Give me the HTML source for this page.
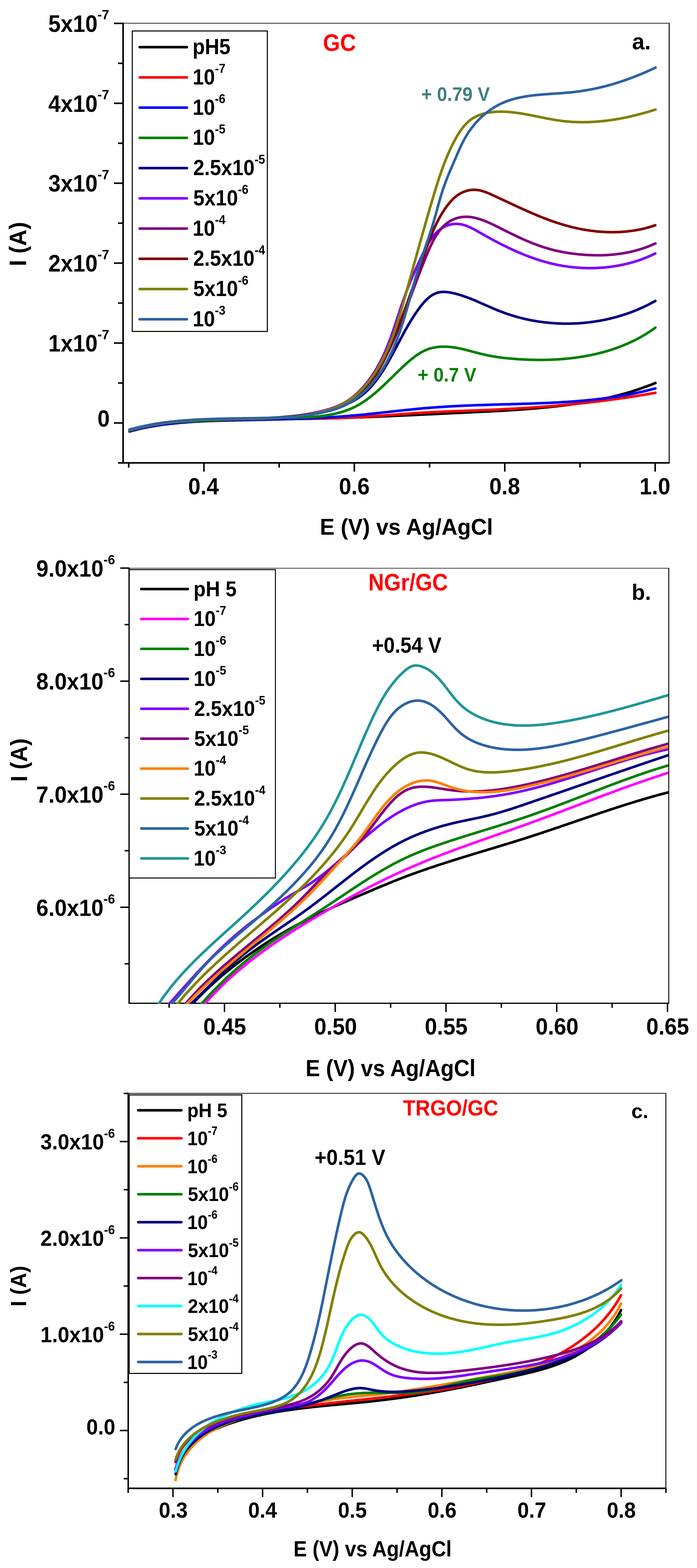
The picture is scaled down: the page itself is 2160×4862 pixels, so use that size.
<!DOCTYPE html>
<html><head><meta charset="utf-8"><title>Figure</title>
<style>html,body{margin:0;padding:0;background:#fff;}svg{display:block;}</style></head>
<body><svg width="2160" height="4862" viewBox="0 0 2160 4862" font-family="'Liberation Sans', Arial, Helvetica, sans-serif" font-weight="bold">
<rect width="2160" height="4862" fill="#fff"/>
<line x1="381.5" y1="72.0" x2="2073.8" y2="72.0" stroke="#000" stroke-width="2.2" stroke-linecap="butt"/>
<line x1="2073.8" y1="70.9" x2="2073.8" y2="1435.3" stroke="#000" stroke-width="3.0" stroke-linecap="butt"/>
<line x1="381.5" y1="70.5" x2="381.5" y2="1437.8" stroke="#000" stroke-width="5.0" stroke-linecap="butt"/>
<line x1="379.0" y1="1435.3" x2="2075.3" y2="1435.3" stroke="#000" stroke-width="5.0" stroke-linecap="butt"/>
<line x1="366.0" y1="1435.4" x2="381.5" y2="1435.4" stroke="#000" stroke-width="4.8" stroke-linecap="butt"/>
<line x1="353.0" y1="1311.5" x2="381.5" y2="1311.5" stroke="#000" stroke-width="4.8" stroke-linecap="butt"/>
<line x1="366.0" y1="1187.6" x2="381.5" y2="1187.6" stroke="#000" stroke-width="4.8" stroke-linecap="butt"/>
<line x1="353.0" y1="1063.7" x2="381.5" y2="1063.7" stroke="#000" stroke-width="4.8" stroke-linecap="butt"/>
<line x1="366.0" y1="939.8" x2="381.5" y2="939.8" stroke="#000" stroke-width="4.8" stroke-linecap="butt"/>
<line x1="353.0" y1="815.9" x2="381.5" y2="815.9" stroke="#000" stroke-width="4.8" stroke-linecap="butt"/>
<line x1="366.0" y1="692.0" x2="381.5" y2="692.0" stroke="#000" stroke-width="4.8" stroke-linecap="butt"/>
<line x1="353.0" y1="568.1" x2="381.5" y2="568.1" stroke="#000" stroke-width="4.8" stroke-linecap="butt"/>
<line x1="366.0" y1="444.2" x2="381.5" y2="444.2" stroke="#000" stroke-width="4.8" stroke-linecap="butt"/>
<line x1="353.0" y1="320.3" x2="381.5" y2="320.3" stroke="#000" stroke-width="4.8" stroke-linecap="butt"/>
<line x1="366.0" y1="196.4" x2="381.5" y2="196.4" stroke="#000" stroke-width="4.8" stroke-linecap="butt"/>
<line x1="353.0" y1="72.5" x2="381.5" y2="72.5" stroke="#000" stroke-width="4.8" stroke-linecap="butt"/>
<line x1="398.9" y1="1435.3" x2="398.9" y2="1449.8" stroke="#000" stroke-width="4.8" stroke-linecap="butt"/>
<line x1="632.0" y1="1435.3" x2="632.0" y2="1462.3" stroke="#000" stroke-width="4.8" stroke-linecap="butt"/>
<line x1="865.1" y1="1435.3" x2="865.1" y2="1449.8" stroke="#000" stroke-width="4.8" stroke-linecap="butt"/>
<line x1="1098.1" y1="1435.3" x2="1098.1" y2="1462.3" stroke="#000" stroke-width="4.8" stroke-linecap="butt"/>
<line x1="1331.2" y1="1435.3" x2="1331.2" y2="1449.8" stroke="#000" stroke-width="4.8" stroke-linecap="butt"/>
<line x1="1564.3" y1="1435.3" x2="1564.3" y2="1462.3" stroke="#000" stroke-width="4.8" stroke-linecap="butt"/>
<line x1="1797.4" y1="1435.3" x2="1797.4" y2="1449.8" stroke="#000" stroke-width="4.8" stroke-linecap="butt"/>
<line x1="2030.4" y1="1435.3" x2="2030.4" y2="1462.3" stroke="#000" stroke-width="4.8" stroke-linecap="butt"/>
<clipPath id="ca"><rect x="383.0" y="74.0" width="1689.0" height="1359.0"/></clipPath>
<g clip-path="url(#ca)" fill="none" stroke-width="8.0" stroke-linejoin="round" stroke-linecap="round">
<path d="M401.3 1335.6 L406.2 1334.4 411.0 1333.1 415.9 1331.9 420.7 1330.8 425.6 1329.7 430.5 1328.6 435.4 1327.5 440.2 1326.4 445.1 1325.4 450.0 1324.5 455.0 1323.5 459.9 1322.6 464.8 1321.7 469.7 1320.8 474.6 1320.0 479.6 1319.1 484.5 1318.4 489.4 1317.6 494.4 1316.8 499.3 1316.1 504.3 1315.4 509.2 1314.8 514.2 1314.1 519.2 1313.5 524.1 1312.9 529.1 1312.3 534.1 1311.7 539.0 1311.2 544.0 1310.7 549.0 1310.2 554.0 1309.7 558.9 1309.2 563.9 1308.8 568.9 1308.4 573.9 1308.0 578.9 1307.6 583.9 1307.2 588.8 1306.8 593.8 1306.5 598.8 1306.2 603.8 1305.8 608.8 1305.5 613.8 1305.2 618.8 1305.0 623.8 1304.7 628.8 1304.4 633.8 1304.2 638.8 1304.0 643.8 1303.8 648.7 1303.5 653.7 1303.3 658.7 1303.1 663.7 1303.0 668.7 1302.8 673.7 1302.6 678.7 1302.5 683.7 1302.3 688.7 1302.1 693.7 1302.0 698.7 1301.9 703.7 1301.7 708.7 1301.6 713.7 1301.5 718.7 1301.4 723.7 1301.3 728.7 1301.2 733.7 1301.1 738.7 1301.0 743.7 1300.9 748.7 1300.8 753.7 1300.7 758.7 1300.6 763.7 1300.6 768.7 1300.5 773.7 1300.4 778.7 1300.4 783.7 1300.3 788.7 1300.3 793.7 1300.2 798.7 1300.2 803.7 1300.1 808.7 1300.1 813.7 1300.0 818.7 1300.0 823.7 1299.9 828.7 1299.9 833.7 1299.8 838.7 1299.8 843.7 1299.7 848.7 1299.7 853.7 1299.7 858.7 1299.6 863.7 1299.6 868.7 1299.5 873.7 1299.5 878.7 1299.5 883.7 1299.4 888.7 1299.4 893.7 1299.3 898.7 1299.3 903.7 1299.2 908.7 1299.2 913.7 1299.1 918.7 1299.0 923.7 1299.0 928.7 1298.9 933.7 1298.8 938.7 1298.8 943.7 1298.7 948.7 1298.6 953.7 1298.5 958.7 1298.5 963.7 1298.4 968.7 1298.3 973.7 1298.2 978.7 1298.1 983.7 1298.0 988.7 1297.8 993.7 1297.7 998.7 1297.6 1003.7 1297.5 1008.7 1297.4 1013.7 1297.2 1018.7 1297.1 1023.7 1297.0 1028.7 1296.8 1033.7 1296.7 1038.7 1296.6 1043.7 1296.4 1048.7 1296.3 1053.7 1296.1 1058.7 1296.0 1063.7 1295.8 1068.7 1295.6 1073.7 1295.5 1078.7 1295.3 1083.6 1295.1 1088.6 1295.0 1093.6 1294.8 1098.6 1294.6 1103.6 1294.4 1108.6 1294.3 1113.6 1294.1 1118.6 1293.9 1123.6 1293.7 1128.6 1293.5 1133.6 1293.3 1138.6 1293.1 1143.6 1292.9 1148.6 1292.7 1153.6 1292.5 1158.6 1292.3 1163.6 1292.1 1168.6 1291.9 1173.6 1291.7 1178.6 1291.5 1183.6 1291.3 1188.6 1291.1 1193.6 1290.9 1198.6 1290.6 1203.6 1290.4 1208.6 1290.2 1213.5 1290.0 1218.5 1289.8 1223.5 1289.5 1228.5 1289.3 1233.5 1289.1 1238.5 1288.9 1243.5 1288.6 1248.5 1288.4 1253.5 1288.2 1258.5 1287.9 1263.5 1287.7 1268.5 1287.5 1273.5 1287.2 1278.5 1287.0 1283.5 1286.8 1288.5 1286.5 1293.5 1286.3 1298.5 1286.1 1303.4 1285.8 1308.4 1285.6 1313.4 1285.4 1318.4 1285.1 1323.4 1284.9 1328.4 1284.6 1333.4 1284.4 1338.4 1284.2 1343.4 1283.9 1348.4 1283.7 1353.4 1283.5 1358.4 1283.2 1363.4 1283.0 1368.4 1282.7 1373.4 1282.5 1378.4 1282.3 1383.4 1282.0 1388.4 1281.8 1393.3 1281.6 1398.3 1281.3 1403.3 1281.1 1408.3 1280.9 1413.3 1280.6 1418.3 1280.4 1423.3 1280.2 1428.3 1279.9 1433.3 1279.7 1438.3 1279.5 1443.3 1279.2 1448.3 1279.0 1453.3 1278.8 1458.3 1278.5 1463.3 1278.3 1468.3 1278.1 1473.3 1277.8 1478.3 1277.6 1483.2 1277.3 1488.2 1277.1 1493.2 1276.8 1498.2 1276.6 1503.2 1276.3 1508.2 1276.1 1513.2 1275.8 1518.2 1275.6 1523.2 1275.3 1528.2 1275.1 1533.2 1274.8 1538.2 1274.5 1543.2 1274.2 1548.2 1273.9 1553.2 1273.7 1558.1 1273.4 1563.1 1273.1 1568.1 1272.8 1573.1 1272.5 1578.1 1272.2 1583.1 1271.8 1588.1 1271.5 1593.1 1271.2 1598.1 1270.9 1603.1 1270.5 1608.0 1270.2 1613.0 1269.8 1618.0 1269.5 1623.0 1269.1 1628.0 1268.7 1633.0 1268.4 1638.0 1268.0 1642.9 1267.6 1647.9 1267.2 1652.9 1266.8 1657.9 1266.3 1662.9 1265.9 1667.9 1265.5 1672.8 1265.0 1677.8 1264.6 1682.8 1264.1 1687.8 1263.6 1692.7 1263.2 1697.7 1262.7 1702.7 1262.2 1707.7 1261.6 1712.6 1261.1 1717.6 1260.6 1722.6 1260.0 1727.6 1259.5 1732.5 1258.9 1737.5 1258.3 1742.4 1257.7 1747.4 1257.1 1752.4 1256.5 1757.3 1255.8 1762.3 1255.2 1767.2 1254.5 1772.2 1253.8 1777.1 1253.1 1782.1 1252.4 1787.0 1251.6 1792.0 1250.9 1796.9 1250.1 1801.9 1249.3 1806.8 1248.5 1811.7 1247.7 1816.7 1246.9 1821.6 1246.0 1826.5 1245.2 1831.4 1244.3 1836.3 1243.4 1841.3 1242.4 1846.2 1241.5 1851.1 1240.5 1856.0 1239.5 1860.9 1238.5 1865.8 1237.5 1870.7 1236.5 1875.5 1235.4 1880.4 1234.3 1885.3 1233.2 1890.2 1232.1 1895.0 1230.9 1899.9 1229.7 1904.7 1228.5 1909.6 1227.3 1914.4 1226.1 1919.3 1224.8 1924.1 1223.5 1928.9 1222.2 1933.7 1220.8 1938.5 1219.5 1943.4 1218.1 1948.1 1216.7 1952.9 1215.2 1957.7 1213.8 1962.5 1212.3 1967.3 1210.8 1972.0 1209.2 1976.8 1207.7 1981.5 1206.1 1986.2 1204.4 1991.0 1202.8 1995.7 1201.1 2000.4 1199.4 2005.1 1197.7 2009.7 1195.9 2014.4 1194.2 2019.1 1192.4 2023.7 1190.5 2028.4 1188.6 2031.2 1187.5" stroke="#000000"/>
<path d="M401.5 1336.2 L406.3 1334.8 411.1 1333.5 415.9 1332.2 420.8 1330.9 425.6 1329.7 430.5 1328.5 435.4 1327.3 440.2 1326.2 445.1 1325.1 450.0 1324.1 454.9 1323.1 459.8 1322.1 464.7 1321.2 469.6 1320.3 474.6 1319.4 479.5 1318.6 484.4 1317.8 489.4 1317.0 494.3 1316.2 499.2 1315.5 504.2 1314.8 509.2 1314.2 514.1 1313.5 519.1 1312.9 524.0 1312.3 529.0 1311.8 534.0 1311.2 539.0 1310.7 543.9 1310.2 548.9 1309.8 553.9 1309.3 558.9 1308.9 563.9 1308.5 568.8 1308.1 573.8 1307.7 578.8 1307.4 583.8 1307.0 588.8 1306.7 593.8 1306.4 598.8 1306.1 603.8 1305.8 608.8 1305.6 613.8 1305.3 618.7 1305.1 623.7 1304.8 628.7 1304.6 633.7 1304.4 638.7 1304.2 643.7 1304.0 648.7 1303.8 653.7 1303.6 658.7 1303.5 663.7 1303.3 668.7 1303.1 673.7 1303.0 678.7 1302.8 683.7 1302.7 688.7 1302.5 693.7 1302.4 698.7 1302.2 703.7 1302.1 708.7 1302.0 713.7 1301.8 718.7 1301.7 723.7 1301.6 728.7 1301.4 733.7 1301.3 738.7 1301.2 743.7 1301.1 748.7 1301.0 753.7 1300.9 758.7 1300.8 763.7 1300.7 768.7 1300.6 773.7 1300.5 778.7 1300.4 783.7 1300.3 788.7 1300.2 793.7 1300.1 798.7 1300.1 803.7 1300.0 808.7 1299.9 813.7 1299.8 818.7 1299.8 823.7 1299.7 828.7 1299.6 833.7 1299.5 838.7 1299.5 843.7 1299.4 848.7 1299.4 853.7 1299.3 858.7 1299.3 863.7 1299.2 868.7 1299.2 873.7 1299.1 878.7 1299.1 883.7 1299.0 888.7 1299.0 893.7 1298.9 898.7 1298.9 903.7 1298.8 908.7 1298.8 913.7 1298.7 918.7 1298.7 923.7 1298.7 928.7 1298.6 933.7 1298.6 938.7 1298.5 943.7 1298.5 948.7 1298.4 953.7 1298.3 958.7 1298.3 963.7 1298.2 968.7 1298.1 973.7 1298.1 978.7 1298.0 983.7 1297.9 988.7 1297.8 993.7 1297.7 998.7 1297.7 1003.7 1297.6 1008.7 1297.4 1013.7 1297.3 1018.7 1297.2 1023.7 1297.1 1028.6 1297.0 1033.6 1296.8 1038.6 1296.7 1043.6 1296.5 1048.6 1296.4 1053.6 1296.2 1058.6 1296.0 1063.6 1295.8 1068.6 1295.6 1073.6 1295.4 1078.6 1295.2 1083.6 1295.0 1088.6 1294.8 1093.6 1294.5 1098.6 1294.3 1103.6 1294.0 1108.6 1293.7 1113.6 1293.4 1118.6 1293.1 1123.6 1292.8 1128.5 1292.5 1133.5 1292.2 1138.5 1291.9 1143.5 1291.6 1148.5 1291.2 1153.5 1290.9 1158.5 1290.5 1163.5 1290.2 1168.5 1289.8 1173.4 1289.5 1178.4 1289.1 1183.4 1288.8 1188.4 1288.4 1193.4 1288.0 1198.4 1287.6 1203.4 1287.3 1208.3 1286.9 1213.3 1286.5 1218.3 1286.1 1223.3 1285.8 1228.3 1285.4 1233.3 1285.0 1238.3 1284.7 1243.2 1284.3 1248.2 1283.9 1253.2 1283.5 1258.2 1283.2 1263.2 1282.8 1268.2 1282.5 1273.2 1282.1 1278.2 1281.8 1283.1 1281.4 1288.1 1281.1 1293.1 1280.8 1298.1 1280.4 1303.1 1280.1 1308.1 1279.8 1313.1 1279.5 1318.1 1279.2 1323.1 1278.9 1328.1 1278.7 1333.1 1278.4 1338.0 1278.1 1343.0 1277.9 1348.0 1277.6 1353.0 1277.4 1358.0 1277.2 1363.0 1276.9 1368.0 1276.7 1373.0 1276.5 1378.0 1276.3 1383.0 1276.1 1388.0 1275.9 1393.0 1275.7 1398.0 1275.5 1403.0 1275.3 1408.0 1275.1 1413.0 1274.9 1418.0 1274.7 1423.0 1274.5 1428.0 1274.4 1433.0 1274.2 1438.0 1274.0 1443.0 1273.8 1448.0 1273.6 1453.0 1273.5 1457.9 1273.3 1462.9 1273.1 1467.9 1272.9 1472.9 1272.7 1477.9 1272.5 1482.9 1272.3 1487.9 1272.1 1492.9 1272.0 1497.9 1271.8 1502.9 1271.5 1507.9 1271.3 1512.9 1271.1 1517.9 1270.9 1522.9 1270.7 1527.9 1270.5 1532.9 1270.2 1537.9 1270.0 1542.9 1269.8 1547.9 1269.5 1552.9 1269.3 1557.9 1269.0 1562.8 1268.8 1567.8 1268.5 1572.8 1268.3 1577.8 1268.0 1582.8 1267.7 1587.8 1267.4 1592.8 1267.2 1597.8 1266.9 1602.8 1266.6 1607.8 1266.3 1612.8 1266.0 1617.8 1265.7 1622.8 1265.4 1627.7 1265.0 1632.7 1264.7 1637.7 1264.4 1642.7 1264.1 1647.7 1263.7 1652.7 1263.4 1657.7 1263.0 1662.7 1262.7 1667.6 1262.3 1672.6 1262.0 1677.6 1261.6 1682.6 1261.2 1687.6 1260.8 1692.6 1260.4 1697.6 1260.0 1702.5 1259.7 1707.5 1259.2 1712.5 1258.8 1717.5 1258.4 1722.5 1258.0 1727.5 1257.6 1732.4 1257.1 1737.4 1256.7 1742.4 1256.2 1747.4 1255.8 1752.4 1255.3 1757.3 1254.9 1762.3 1254.4 1767.3 1253.9 1772.3 1253.4 1777.2 1252.9 1782.2 1252.4 1787.2 1251.9 1792.2 1251.4 1797.1 1250.9 1802.1 1250.4 1807.1 1249.9 1812.1 1249.3 1817.0 1248.8 1822.0 1248.2 1827.0 1247.7 1831.9 1247.1 1836.9 1246.5 1841.9 1245.9 1846.8 1245.3 1851.8 1244.8 1856.8 1244.2 1861.7 1243.5 1866.7 1242.9 1871.6 1242.3 1876.6 1241.7 1881.6 1241.0 1886.5 1240.4 1891.5 1239.7 1896.4 1239.1 1901.4 1238.4 1906.3 1237.7 1911.3 1237.0 1916.2 1236.3 1921.2 1235.6 1926.1 1234.9 1931.1 1234.2 1936.0 1233.5 1941.0 1232.8 1945.9 1232.0 1950.9 1231.3 1955.8 1230.5 1960.8 1229.8 1965.7 1229.0 1970.6 1228.2 1975.6 1227.4 1980.5 1226.6 1985.4 1225.8 1990.4 1225.0 1995.3 1224.2 2000.2 1223.3 2005.2 1222.5 2010.1 1221.7 2015.0 1220.8 2020.0 1219.9 2024.9 1219.1 2029.8 1218.2 2030.9 1218.0" stroke="#FF0000"/>
<path d="M401.5 1338.2 L406.3 1336.8 411.1 1335.4 415.9 1334.1 420.8 1332.8 425.6 1331.6 430.5 1330.4 435.3 1329.3 440.2 1328.2 445.1 1327.1 450.0 1326.1 454.9 1325.1 459.8 1324.2 464.7 1323.2 469.7 1322.4 474.6 1321.5 479.5 1320.7 484.5 1319.9 489.4 1319.2 494.3 1318.4 499.3 1317.7 504.2 1317.1 509.2 1316.4 514.2 1315.8 519.1 1315.2 524.1 1314.6 529.1 1314.1 534.0 1313.5 539.0 1313.0 544.0 1312.5 549.0 1312.0 553.9 1311.5 558.9 1311.1 563.9 1310.7 568.9 1310.3 573.9 1309.9 578.9 1309.5 583.8 1309.1 588.8 1308.8 593.8 1308.4 598.8 1308.1 603.8 1307.8 608.8 1307.5 613.8 1307.2 618.8 1307.0 623.8 1306.7 628.8 1306.4 633.8 1306.2 638.7 1306.0 643.7 1305.8 648.7 1305.6 653.7 1305.4 658.7 1305.2 663.7 1305.0 668.7 1304.8 673.7 1304.7 678.7 1304.5 683.7 1304.4 688.7 1304.2 693.7 1304.1 698.7 1304.0 703.7 1303.8 708.7 1303.7 713.7 1303.6 718.7 1303.5 723.7 1303.4 728.7 1303.2 733.7 1303.1 738.7 1303.0 743.7 1302.9 748.7 1302.8 753.7 1302.7 758.7 1302.6 763.7 1302.5 768.7 1302.4 773.7 1302.3 778.7 1302.2 783.7 1302.1 788.7 1302.0 793.7 1301.9 798.7 1301.8 803.7 1301.7 808.7 1301.6 813.7 1301.5 818.7 1301.4 823.7 1301.3 828.7 1301.2 833.7 1301.0 838.7 1300.9 843.7 1300.8 848.7 1300.7 853.7 1300.6 858.7 1300.4 863.7 1300.3 868.7 1300.2 873.7 1300.1 878.7 1299.9 883.7 1299.8 888.7 1299.6 893.7 1299.5 898.7 1299.3 903.7 1299.2 908.7 1299.0 913.7 1298.9 918.6 1298.7 923.6 1298.5 928.6 1298.4 933.6 1298.2 938.6 1298.0 943.6 1297.8 948.6 1297.6 953.6 1297.4 958.6 1297.2 963.6 1297.0 968.6 1296.7 973.6 1296.5 978.6 1296.3 983.6 1296.0 988.6 1295.8 993.6 1295.5 998.6 1295.3 1003.6 1295.0 1008.6 1294.7 1013.6 1294.4 1018.5 1294.1 1023.5 1293.8 1028.5 1293.5 1033.5 1293.2 1038.5 1292.9 1043.5 1292.5 1048.5 1292.2 1053.5 1291.8 1058.5 1291.5 1063.4 1291.1 1068.4 1290.7 1073.4 1290.3 1078.4 1289.9 1083.4 1289.5 1088.4 1289.1 1093.3 1288.6 1098.3 1288.2 1103.3 1287.8 1108.3 1287.3 1113.3 1286.8 1118.2 1286.3 1123.2 1285.9 1128.2 1285.4 1133.2 1284.9 1138.1 1284.3 1143.1 1283.8 1148.1 1283.3 1153.1 1282.8 1158.0 1282.3 1163.0 1281.7 1168.0 1281.2 1172.9 1280.7 1177.9 1280.1 1182.9 1279.6 1187.8 1279.0 1192.8 1278.5 1197.8 1277.9 1202.8 1277.4 1207.7 1276.8 1212.7 1276.3 1217.7 1275.7 1222.6 1275.2 1227.6 1274.6 1232.6 1274.1 1237.5 1273.5 1242.5 1273.0 1247.5 1272.5 1252.5 1271.9 1257.4 1271.4 1262.4 1270.9 1267.4 1270.4 1272.4 1269.9 1277.3 1269.4 1282.3 1268.9 1287.3 1268.4 1292.3 1267.9 1297.2 1267.4 1302.2 1267.0 1307.2 1266.5 1312.2 1266.1 1317.2 1265.6 1322.1 1265.2 1327.1 1264.8 1332.1 1264.4 1337.1 1264.0 1342.1 1263.6 1347.1 1263.3 1352.0 1262.9 1357.0 1262.5 1362.0 1262.2 1367.0 1261.9 1372.0 1261.5 1377.0 1261.2 1382.0 1260.9 1387.0 1260.6 1392.0 1260.3 1397.0 1260.0 1401.9 1259.8 1406.9 1259.5 1411.9 1259.2 1416.9 1259.0 1421.9 1258.7 1426.9 1258.5 1431.9 1258.3 1436.9 1258.0 1441.9 1257.8 1446.9 1257.6 1451.9 1257.4 1456.9 1257.2 1461.9 1257.0 1466.9 1256.8 1471.9 1256.6 1476.9 1256.4 1481.9 1256.2 1486.9 1256.1 1491.9 1255.9 1496.9 1255.7 1501.9 1255.5 1506.9 1255.4 1511.9 1255.2 1516.8 1255.1 1521.8 1254.9 1526.8 1254.8 1531.8 1254.6 1536.8 1254.5 1541.8 1254.4 1546.8 1254.2 1551.8 1254.1 1556.8 1253.9 1561.8 1253.8 1566.8 1253.7 1571.8 1253.5 1576.8 1253.4 1581.8 1253.3 1586.8 1253.1 1591.8 1253.0 1596.8 1252.9 1601.8 1252.7 1606.8 1252.6 1611.8 1252.4 1616.8 1252.3 1621.8 1252.1 1626.8 1252.0 1631.8 1251.8 1636.8 1251.7 1641.8 1251.5 1646.8 1251.3 1651.8 1251.2 1656.8 1251.0 1661.8 1250.8 1666.8 1250.6 1671.8 1250.5 1676.8 1250.3 1681.8 1250.1 1686.8 1249.9 1691.8 1249.6 1696.8 1249.4 1701.8 1249.2 1706.7 1249.0 1711.7 1248.7 1716.7 1248.5 1721.7 1248.2 1726.7 1248.0 1731.7 1247.7 1736.7 1247.4 1741.7 1247.1 1746.7 1246.8 1751.7 1246.5 1756.7 1246.2 1761.7 1245.9 1766.6 1245.5 1771.6 1245.2 1776.6 1244.8 1781.6 1244.4 1786.6 1244.0 1791.6 1243.6 1796.6 1243.2 1801.5 1242.8 1806.5 1242.4 1811.5 1241.9 1816.5 1241.5 1821.5 1241.0 1826.4 1240.5 1831.4 1240.0 1836.4 1239.5 1841.4 1238.9 1846.3 1238.4 1851.3 1237.8 1856.3 1237.2 1861.2 1236.6 1866.2 1236.0 1871.1 1235.4 1876.1 1234.8 1881.1 1234.1 1886.0 1233.4 1891.0 1232.7 1895.9 1232.0 1900.9 1231.3 1905.8 1230.5 1910.7 1229.8 1915.7 1229.0 1920.6 1228.2 1925.5 1227.4 1930.5 1226.5 1935.4 1225.6 1940.3 1224.8 1945.2 1223.9 1950.2 1222.9 1955.1 1222.0 1960.0 1221.0 1964.9 1220.0 1969.8 1219.0 1974.7 1218.0 1979.5 1216.9 1984.4 1215.9 1989.3 1214.8 1994.2 1213.6 1999.0 1212.5 2003.9 1211.3 2008.8 1210.2 2013.6 1208.9 2018.5 1207.7 2023.3 1206.4 2028.1 1205.2 2030.9 1204.4" stroke="#0000FF"/>
<path d="M402.1 1336.8 L406.7 1334.8 411.3 1333.0 416.0 1331.3 420.8 1329.6 425.5 1328.0 430.3 1326.6 435.1 1325.2 439.9 1323.8 444.7 1322.6 449.6 1321.4 454.5 1320.3 459.3 1319.2 464.3 1318.2 469.2 1317.3 474.1 1316.5 479.0 1315.6 484.0 1314.9 488.9 1314.2 493.9 1313.5 498.8 1312.9 503.8 1312.4 508.8 1311.9 513.8 1311.4 518.7 1310.9 523.7 1310.5 528.7 1310.2 533.7 1309.8 538.7 1309.5 543.7 1309.2 548.7 1308.9 553.7 1308.7 558.7 1308.4 563.7 1308.2 568.6 1308.0 573.6 1307.8 578.6 1307.6 583.6 1307.4 588.6 1307.2 593.6 1307.0 598.6 1306.8 603.6 1306.6 608.6 1306.4 613.6 1306.2 618.6 1306.0 623.6 1305.8 628.6 1305.6 633.6 1305.4 638.6 1305.1 643.6 1304.9 648.6 1304.7 653.6 1304.4 658.6 1304.2 663.6 1304.0 668.6 1303.7 673.6 1303.5 678.5 1303.2 683.5 1303.0 688.5 1302.7 693.5 1302.5 698.5 1302.3 703.5 1302.0 708.5 1301.8 713.5 1301.5 718.5 1301.3 723.5 1301.0 728.5 1300.8 733.5 1300.5 738.5 1300.3 743.5 1300.1 748.5 1299.8 753.5 1299.6 758.5 1299.4 763.4 1299.2 768.4 1298.9 773.4 1298.7 778.4 1298.5 783.4 1298.3 788.4 1298.1 793.4 1297.9 798.4 1297.7 803.4 1297.5 808.4 1297.4 813.4 1297.2 818.4 1297.0 823.4 1296.9 828.4 1296.7 833.4 1296.6 838.4 1296.4 843.4 1296.3 848.4 1296.2 853.4 1296.1 858.4 1296.0 863.4 1295.9 868.4 1295.8 873.4 1295.7 878.4 1295.6 883.4 1295.5 888.4 1295.5 893.4 1295.4 898.4 1295.3 903.4 1295.2 908.4 1295.1 913.4 1295.0 918.4 1294.9 923.4 1294.8 928.4 1294.6 933.4 1294.5 938.4 1294.3 943.4 1294.1 948.4 1293.9 953.4 1293.6 958.3 1293.3 963.3 1293.0 968.3 1292.7 973.3 1292.3 978.3 1291.9 983.3 1291.4 988.2 1290.9 993.2 1290.4 998.2 1289.8 1003.1 1289.1 1008.1 1288.5 1013.0 1287.7 1018.0 1286.9 1022.9 1286.0 1027.8 1285.1 1032.7 1284.1 1037.6 1283.1 1042.5 1281.9 1047.3 1280.7 1052.2 1279.5 1057.0 1278.1 1061.8 1276.7 1066.5 1275.1 1071.3 1273.5 1076.0 1271.8 1080.6 1270.1 1085.3 1268.2 1089.9 1266.2 1094.4 1264.1 1098.9 1262.0 1103.4 1259.7 1107.8 1257.3 1112.1 1254.9 1116.4 1252.3 1120.7 1249.7 1124.9 1247.0 1129.1 1244.3 1133.2 1241.4 1137.3 1238.5 1141.3 1235.6 1145.3 1232.5 1149.2 1229.5 1153.1 1226.4 1157.0 1223.2 1160.9 1220.0 1164.7 1216.8 1168.5 1213.5 1172.2 1210.2 1175.9 1206.9 1179.6 1203.5 1183.3 1200.1 1187.0 1196.7 1190.6 1193.3 1194.2 1189.8 1197.9 1186.4 1201.5 1182.9 1205.0 1179.4 1208.6 1175.9 1212.2 1172.5 1215.8 1169.0 1219.4 1165.5 1222.9 1162.0 1226.5 1158.5 1230.1 1155.0 1233.7 1151.5 1237.3 1148.0 1240.9 1144.6 1244.5 1141.1 1248.2 1137.7 1251.8 1134.3 1255.5 1130.9 1259.2 1127.5 1262.9 1124.2 1266.7 1120.9 1270.5 1117.6 1274.3 1114.4 1278.2 1111.3 1282.1 1108.2 1286.1 1105.2 1290.2 1102.3 1294.3 1099.4 1298.5 1096.7 1302.7 1094.1 1307.1 1091.6 1311.5 1089.3 1316.0 1087.1 1320.6 1085.1 1325.2 1083.2 1329.9 1081.6 1334.7 1080.1 1339.6 1078.9 1344.4 1077.8 1349.4 1076.9 1354.3 1076.2 1359.3 1075.6 1364.3 1075.2 1369.3 1075.0 1374.3 1074.9 1379.3 1074.9 1384.2 1075.1 1389.2 1075.4 1394.2 1075.8 1399.2 1076.3 1404.2 1077.0 1409.1 1077.7 1414.0 1078.5 1419.0 1079.4 1423.9 1080.4 1428.7 1081.4 1433.6 1082.5 1438.5 1083.7 1443.4 1084.8 1448.2 1086.1 1453.0 1087.3 1457.9 1088.6 1462.7 1089.9 1467.5 1091.1 1472.4 1092.4 1477.2 1093.7 1482.1 1095.0 1486.9 1096.2 1491.7 1097.4 1496.6 1098.6 1501.5 1099.7 1506.4 1100.8 1511.3 1101.8 1516.2 1102.8 1521.1 1103.7 1526.0 1104.6 1530.9 1105.5 1535.9 1106.3 1540.8 1107.0 1545.7 1107.7 1550.7 1108.4 1555.7 1109.1 1560.6 1109.7 1565.6 1110.2 1570.6 1110.8 1575.5 1111.3 1580.5 1111.7 1585.5 1112.2 1590.5 1112.6 1595.5 1113.0 1600.4 1113.3 1605.4 1113.7 1610.4 1114.0 1615.4 1114.3 1620.4 1114.5 1625.4 1114.8 1630.4 1115.0 1635.4 1115.2 1640.4 1115.4 1645.4 1115.5 1650.4 1115.7 1655.4 1115.8 1660.4 1115.8 1665.4 1115.9 1670.4 1115.9 1675.4 1115.9 1680.4 1115.9 1685.4 1115.9 1690.4 1115.8 1695.4 1115.7 1700.4 1115.5 1705.4 1115.4 1710.4 1115.2 1715.4 1115.0 1720.4 1114.7 1725.4 1114.5 1730.3 1114.2 1735.3 1113.8 1740.3 1113.5 1745.3 1113.1 1750.3 1112.7 1755.3 1112.2 1760.2 1111.7 1765.2 1111.2 1770.2 1110.6 1775.2 1110.1 1780.1 1109.4 1785.1 1108.8 1790.0 1108.1 1795.0 1107.4 1799.9 1106.6 1804.9 1105.8 1809.8 1105.0 1814.7 1104.2 1819.6 1103.3 1824.5 1102.3 1829.4 1101.4 1834.3 1100.3 1839.2 1099.3 1844.1 1098.2 1849.0 1097.1 1853.8 1095.9 1858.7 1094.7 1863.5 1093.5 1868.4 1092.2 1873.2 1090.9 1878.0 1089.5 1882.8 1088.1 1887.6 1086.6 1892.4 1085.1 1897.1 1083.6 1901.9 1082.0 1906.6 1080.4 1911.3 1078.7 1916.0 1077.0 1920.7 1075.3 1925.4 1073.5 1930.0 1071.6 1934.6 1069.7 1939.2 1067.8 1943.8 1065.8 1948.4 1063.8 1952.9 1061.7 1957.5 1059.6 1962.0 1057.4 1966.5 1055.2 1970.9 1053.0 1975.4 1050.7 1979.8 1048.3 1984.2 1045.9 1988.5 1043.4 1992.8 1041.0 1997.2 1038.4 2001.4 1035.8 2005.7 1033.2 2009.9 1030.5 2014.1 1027.8 2018.2 1025.0 2022.4 1022.2 2026.5 1019.3 2030.5 1016.4 2031.0 1016.0" stroke="#008000"/>
<path d="M401.3 1335.3 L406.2 1333.9 411.0 1332.6 415.8 1331.3 420.6 1330.0 425.5 1328.8 430.3 1327.6 435.2 1326.4 440.1 1325.3 444.9 1324.2 449.8 1323.1 454.7 1322.1 459.6 1321.1 464.5 1320.1 469.4 1319.2 474.4 1318.3 479.3 1317.5 484.2 1316.6 489.1 1315.8 494.1 1315.1 499.0 1314.3 504.0 1313.6 508.9 1313.0 513.9 1312.3 518.9 1311.7 523.8 1311.1 528.8 1310.5 533.8 1310.0 538.7 1309.4 543.7 1308.9 548.7 1308.5 553.7 1308.0 558.6 1307.6 563.6 1307.2 568.6 1306.8 573.6 1306.4 578.6 1306.1 583.6 1305.7 588.6 1305.4 593.6 1305.1 598.5 1304.8 603.5 1304.6 608.5 1304.3 613.5 1304.1 618.5 1303.9 623.5 1303.7 628.5 1303.5 633.5 1303.3 638.5 1303.1 643.5 1303.0 648.5 1302.8 653.5 1302.7 658.5 1302.5 663.5 1302.4 668.5 1302.3 673.5 1302.2 678.5 1302.1 683.5 1302.0 688.5 1301.9 693.5 1301.8 698.5 1301.7 703.5 1301.6 708.5 1301.5 713.5 1301.4 718.5 1301.4 723.5 1301.3 728.5 1301.2 733.5 1301.1 738.5 1301.0 743.5 1300.9 748.5 1300.9 753.5 1300.8 758.5 1300.7 763.5 1300.6 768.5 1300.5 773.5 1300.3 778.5 1300.2 783.5 1300.1 788.5 1300.0 793.5 1299.8 798.5 1299.6 803.5 1299.5 808.5 1299.3 813.5 1299.1 818.5 1298.9 823.5 1298.7 828.4 1298.5 833.4 1298.2 838.4 1298.0 843.4 1297.7 848.4 1297.4 853.4 1297.1 858.4 1296.8 863.4 1296.4 868.4 1296.1 873.4 1295.7 878.3 1295.3 883.3 1294.9 888.3 1294.4 893.3 1294.0 898.3 1293.5 903.2 1293.0 908.2 1292.5 913.2 1291.9 918.1 1291.3 923.1 1290.7 928.1 1290.1 933.0 1289.4 938.0 1288.7 942.9 1288.0 947.9 1287.3 952.8 1286.5 957.7 1285.7 962.7 1284.8 967.6 1284.0 972.5 1283.1 977.4 1282.1 982.3 1281.2 987.2 1280.2 992.1 1279.1 997.0 1278.1 1001.9 1277.0 1006.7 1275.8 1011.6 1274.6 1016.4 1273.4 1021.3 1272.1 1026.1 1270.8 1030.9 1269.4 1035.7 1267.9 1040.5 1266.4 1045.2 1264.9 1049.9 1263.3 1054.6 1261.6 1059.3 1259.8 1064.0 1258.0 1068.6 1256.0 1073.2 1254.1 1077.7 1252.0 1082.2 1249.8 1086.7 1247.6 1091.1 1245.3 1095.5 1242.8 1099.8 1240.3 1104.1 1237.7 1108.3 1235.0 1112.5 1232.2 1116.5 1229.3 1120.5 1226.3 1124.5 1223.2 1128.3 1220.1 1132.1 1216.8 1135.8 1213.4 1139.4 1209.9 1142.9 1206.4 1146.4 1202.8 1149.8 1199.1 1153.1 1195.4 1156.3 1191.6 1159.5 1187.7 1162.6 1183.8 1165.7 1179.9 1168.7 1175.9 1171.6 1171.8 1174.5 1167.7 1177.4 1163.6 1180.2 1159.5 1183.0 1155.3 1185.7 1151.1 1188.4 1146.9 1191.0 1142.7 1193.6 1138.4 1196.2 1134.1 1198.7 1129.8 1201.3 1125.5 1203.7 1121.2 1206.2 1116.8 1208.7 1112.5 1211.1 1108.1 1213.5 1103.7 1215.9 1099.3 1218.3 1094.9 1220.6 1090.5 1223.0 1086.1 1225.3 1081.7 1227.7 1077.3 1230.0 1072.8 1232.3 1068.4 1234.6 1064.0 1237.0 1059.6 1239.3 1055.1 1241.6 1050.7 1244.0 1046.3 1246.4 1041.9 1248.7 1037.5 1251.1 1033.1 1253.5 1028.7 1255.9 1024.3 1258.4 1020.0 1260.8 1015.6 1263.3 1011.3 1265.8 1006.9 1268.4 1002.6 1270.9 998.3 1273.5 994.1 1276.2 989.8 1278.8 985.6 1281.5 981.4 1284.3 977.2 1287.0 973.0 1289.8 968.9 1292.7 964.8 1295.6 960.7 1298.5 956.7 1301.5 952.7 1304.6 948.7 1307.7 944.8 1310.9 940.9 1314.1 937.2 1317.5 933.5 1321.0 929.9 1324.6 926.5 1328.4 923.2 1332.3 920.0 1336.3 917.1 1340.6 914.4 1344.9 912.0 1349.5 909.9 1354.2 908.1 1359.0 906.8 1363.9 905.8 1368.8 905.3 1373.8 905.1 1378.8 905.2 1383.8 905.5 1388.8 906.1 1393.7 906.8 1398.6 907.7 1403.5 908.8 1408.4 909.9 1413.3 911.1 1418.1 912.5 1422.9 913.8 1427.7 915.3 1432.4 916.8 1437.2 918.4 1441.9 920.1 1446.6 921.8 1451.3 923.5 1455.9 925.3 1460.6 927.1 1465.2 929.0 1469.9 930.9 1474.5 932.8 1479.1 934.8 1483.7 936.8 1488.2 938.8 1492.8 940.8 1497.4 942.8 1502.0 944.8 1506.5 946.9 1511.1 948.9 1515.7 950.9 1520.3 952.9 1524.8 954.9 1529.4 956.9 1534.0 958.8 1538.7 960.8 1543.3 962.7 1547.9 964.5 1552.6 966.3 1557.3 968.1 1561.9 969.8 1566.6 971.5 1571.4 973.2 1576.1 974.8 1580.9 976.3 1585.6 977.8 1590.4 979.3 1595.2 980.7 1600.0 982.1 1604.8 983.5 1609.7 984.7 1614.5 986.0 1619.3 987.2 1624.2 988.4 1629.1 989.5 1634.0 990.6 1638.9 991.6 1643.8 992.6 1648.7 993.5 1653.6 994.4 1658.5 995.3 1663.4 996.1 1668.4 996.9 1673.3 997.6 1678.3 998.3 1683.2 999.0 1688.2 999.6 1693.2 1000.1 1698.1 1000.6 1703.1 1001.1 1708.1 1001.6 1713.1 1001.9 1718.1 1002.3 1723.1 1002.6 1728.1 1002.9 1733.1 1003.1 1738.0 1003.2 1743.0 1003.4 1748.0 1003.5 1753.0 1003.5 1758.0 1003.5 1763.0 1003.5 1768.0 1003.4 1773.0 1003.3 1778.0 1003.1 1783.0 1002.9 1788.0 1002.7 1793.0 1002.4 1798.0 1002.0 1803.0 1001.7 1808.0 1001.2 1813.0 1000.8 1817.9 1000.3 1822.9 999.7 1827.9 999.1 1832.8 998.5 1837.8 997.8 1842.7 997.1 1847.7 996.3 1852.6 995.5 1857.5 994.7 1862.5 993.8 1867.4 992.9 1872.3 991.9 1877.2 990.9 1882.0 989.8 1886.9 988.7 1891.8 987.5 1896.6 986.4 1901.5 985.1 1906.3 983.8 1911.1 982.5 1916.0 981.2 1920.8 979.8 1925.5 978.3 1930.3 976.8 1935.1 975.3 1939.8 973.7 1944.5 972.1 1949.3 970.4 1954.0 968.7 1958.6 966.9 1963.3 965.2 1968.0 963.3 1972.6 961.4 1977.2 959.5 1981.8 957.5 1986.4 955.5 1990.9 953.5 1995.5 951.4 2000.0 949.2 2004.5 947.0 2009.0 944.8 2013.4 942.5 2017.8 940.2 2022.2 937.8 2026.6 935.4 2030.9 933.1" stroke="#000080"/>
<path d="M401.6 1333.7 L406.4 1332.2 411.2 1330.8 416.0 1329.4 420.8 1328.1 425.6 1326.8 430.5 1325.5 435.3 1324.3 440.2 1323.1 445.0 1322.0 449.9 1320.9 454.8 1319.9 459.7 1318.8 464.6 1317.9 469.5 1316.9 474.4 1316.0 479.3 1315.1 484.3 1314.3 489.2 1313.5 494.1 1312.7 499.1 1311.9 504.0 1311.2 509.0 1310.5 513.9 1309.9 518.9 1309.2 523.9 1308.6 528.8 1308.1 533.8 1307.5 538.8 1307.0 543.8 1306.5 548.7 1306.0 553.7 1305.6 558.7 1305.2 563.7 1304.8 568.7 1304.4 573.7 1304.0 578.6 1303.7 583.6 1303.4 588.6 1303.1 593.6 1302.8 598.6 1302.6 603.6 1302.3 608.6 1302.1 613.6 1301.9 618.6 1301.7 623.6 1301.5 628.6 1301.3 633.6 1301.2 638.6 1301.0 643.6 1300.9 648.6 1300.7 653.6 1300.6 658.6 1300.5 663.6 1300.4 668.6 1300.3 673.6 1300.2 678.6 1300.1 683.6 1300.1 688.6 1300.0 693.6 1299.9 698.6 1299.9 703.6 1299.8 708.6 1299.7 713.6 1299.7 718.6 1299.6 723.6 1299.6 728.6 1299.5 733.6 1299.4 738.6 1299.4 743.6 1299.3 748.6 1299.2 753.6 1299.2 758.6 1299.1 763.6 1299.0 768.6 1298.9 773.6 1298.8 778.6 1298.7 783.6 1298.6 788.6 1298.4 793.6 1298.3 798.6 1298.1 803.5 1298.0 808.5 1297.8 813.5 1297.6 818.5 1297.4 823.5 1297.2 828.5 1297.0 833.5 1296.7 838.5 1296.5 843.5 1296.2 848.5 1295.9 853.5 1295.6 858.5 1295.2 863.5 1294.9 868.5 1294.5 873.4 1294.1 878.4 1293.7 883.4 1293.2 888.4 1292.8 893.3 1292.3 898.3 1291.7 903.3 1291.2 908.3 1290.6 913.2 1290.0 918.2 1289.4 923.1 1288.7 928.1 1288.0 933.0 1287.3 938.0 1286.6 942.9 1285.8 947.9 1285.0 952.8 1284.1 957.7 1283.3 962.6 1282.3 967.5 1281.4 972.4 1280.4 977.3 1279.4 982.2 1278.3 987.1 1277.2 992.0 1276.1 996.8 1274.9 1001.7 1273.7 1006.5 1272.4 1011.3 1271.1 1016.1 1269.7 1020.9 1268.2 1025.7 1266.7 1030.4 1265.1 1035.1 1263.4 1039.8 1261.7 1044.4 1259.8 1049.0 1257.9 1053.6 1255.8 1058.1 1253.7 1062.6 1251.4 1067.0 1249.0 1071.3 1246.5 1075.6 1243.9 1079.7 1241.2 1083.9 1238.3 1087.9 1235.4 1091.8 1232.3 1095.7 1229.1 1099.5 1225.9 1103.3 1222.6 1106.9 1219.2 1110.6 1215.7 1114.1 1212.2 1117.6 1208.6 1121.0 1205.0 1124.4 1201.3 1127.7 1197.6 1131.0 1193.8 1134.2 1189.9 1137.3 1186.0 1140.4 1182.1 1143.4 1178.1 1146.4 1174.1 1149.3 1170.1 1152.2 1166.0 1155.0 1161.8 1157.8 1157.7 1160.5 1153.5 1163.1 1149.2 1165.7 1144.9 1168.3 1140.6 1170.7 1136.3 1173.2 1131.9 1175.6 1127.5 1177.9 1123.1 1180.2 1118.7 1182.4 1114.2 1184.6 1109.7 1186.8 1105.2 1188.9 1100.7 1191.0 1096.1 1193.0 1091.5 1195.0 1086.9 1196.9 1082.3 1198.8 1077.7 1200.7 1073.1 1202.6 1068.4 1204.4 1063.8 1206.2 1059.1 1207.9 1054.4 1209.7 1049.8 1211.4 1045.1 1213.1 1040.3 1214.7 1035.6 1216.4 1030.9 1218.0 1026.2 1219.6 1021.5 1221.2 1016.7 1222.8 1012.0 1224.4 1007.2 1226.0 1002.5 1227.5 997.7 1229.1 993.0 1230.7 988.2 1232.2 983.5 1233.8 978.7 1235.3 974.0 1236.9 969.2 1238.4 964.5 1240.0 959.7 1241.6 955.0 1243.1 950.2 1244.7 945.5 1246.3 940.8 1248.0 936.0 1249.6 931.3 1251.3 926.6 1253.0 921.9 1254.7 917.2 1256.4 912.5 1258.1 907.8 1259.9 903.1 1261.7 898.5 1263.5 893.8 1265.4 889.2 1267.2 884.5 1269.1 879.9 1271.0 875.3 1272.9 870.6 1274.8 866.0 1276.8 861.4 1278.7 856.8 1280.7 852.2 1282.7 847.6 1284.7 843.1 1286.7 838.5 1288.8 833.9 1290.8 829.4 1292.9 824.8 1295.0 820.3 1297.0 815.7 1299.1 811.2 1301.2 806.6 1303.3 802.1 1305.5 797.6 1307.6 793.0 1309.7 788.5 1311.9 784.0 1314.1 779.5 1316.3 775.1 1318.6 770.6 1320.9 766.2 1323.3 761.8 1325.8 757.4 1328.3 753.1 1330.9 748.8 1333.6 744.6 1336.4 740.5 1339.3 736.4 1342.4 732.5 1345.5 728.6 1348.8 724.8 1352.3 721.2 1355.9 717.7 1359.6 714.5 1363.6 711.4 1367.7 708.5 1371.9 705.9 1376.3 703.5 1380.8 701.3 1385.5 699.5 1390.2 697.9 1395.0 696.5 1399.9 695.5 1404.8 694.8 1409.8 694.3 1414.8 694.2 1419.8 694.4 1424.8 694.9 1429.7 695.7 1434.6 696.8 1439.4 698.2 1444.2 699.7 1448.8 701.5 1453.4 703.4 1458.0 705.5 1462.5 707.7 1466.9 710.0 1471.3 712.3 1475.7 714.8 1480.1 717.2 1484.4 719.7 1488.8 722.2 1493.1 724.7 1497.4 727.1 1501.8 729.6 1506.1 732.1 1510.5 734.5 1514.9 736.9 1519.3 739.3 1523.6 741.7 1528.0 744.1 1532.4 746.5 1536.9 748.8 1541.3 751.2 1545.7 753.5 1550.2 755.7 1554.6 758.0 1559.1 760.3 1563.6 762.5 1568.1 764.7 1572.6 766.9 1577.1 769.0 1581.6 771.2 1586.1 773.3 1590.7 775.4 1595.2 777.4 1599.8 779.5 1604.4 781.5 1609.0 783.4 1613.6 785.4 1618.2 787.3 1622.8 789.2 1627.5 791.0 1632.1 792.9 1636.8 794.6 1641.5 796.4 1646.2 798.1 1650.9 799.8 1655.6 801.4 1660.3 803.1 1665.1 804.6 1669.8 806.2 1674.6 807.7 1679.4 809.1 1684.2 810.5 1689.0 811.9 1693.8 813.2 1698.6 814.5 1703.5 815.8 1708.3 817.0 1713.2 818.1 1718.1 819.2 1723.0 820.3 1727.9 821.3 1732.8 822.3 1737.7 823.2 1742.6 824.1 1747.5 824.9 1752.5 825.7 1757.4 826.4 1762.4 827.1 1767.3 827.7 1772.3 828.3 1777.3 828.8 1782.3 829.3 1787.2 829.7 1792.2 830.1 1797.2 830.4 1802.2 830.7 1807.2 830.9 1812.2 831.1 1817.2 831.2 1822.2 831.3 1827.2 831.4 1832.2 831.3 1837.2 831.3 1842.2 831.2 1847.2 831.0 1852.2 830.8 1857.2 830.5 1862.2 830.2 1867.2 829.8 1872.1 829.4 1877.1 829.0 1882.1 828.5 1887.1 827.9 1892.0 827.3 1897.0 826.6 1901.9 825.9 1906.9 825.1 1911.8 824.3 1916.7 823.4 1921.6 822.5 1926.5 821.5 1931.4 820.5 1936.3 819.4 1941.2 818.3 1946.0 817.1 1950.9 815.8 1955.7 814.5 1960.5 813.2 1965.3 811.8 1970.1 810.3 1974.9 808.8 1979.6 807.2 1984.3 805.6 1989.0 803.9 1993.7 802.1 1998.4 800.3 2003.0 798.5 2007.6 796.5 2012.2 794.5 2016.8 792.5 2021.3 790.4 2025.8 788.2 2030.3 786.0 2030.7 785.8" stroke="#8000FF"/>
<path d="M401.6 1333.7 L406.4 1332.2 411.1 1330.8 416.0 1329.4 420.8 1328.0 425.6 1326.7 430.4 1325.5 435.3 1324.3 440.1 1323.1 445.0 1321.9 449.9 1320.8 454.8 1319.8 459.7 1318.8 464.6 1317.8 469.5 1316.8 474.4 1315.9 479.3 1315.0 484.2 1314.2 489.2 1313.4 494.1 1312.6 499.1 1311.9 504.0 1311.2 509.0 1310.5 513.9 1309.9 518.9 1309.2 523.9 1308.7 528.8 1308.1 533.8 1307.6 538.8 1307.1 543.7 1306.6 548.7 1306.1 553.7 1305.7 558.7 1305.3 563.7 1304.9 568.7 1304.5 573.7 1304.2 578.6 1303.9 583.6 1303.6 588.6 1303.3 593.6 1303.0 598.6 1302.8 603.6 1302.5 608.6 1302.3 613.6 1302.1 618.6 1301.9 623.6 1301.7 628.6 1301.5 633.6 1301.4 638.6 1301.2 643.6 1301.1 648.6 1301.0 653.6 1300.8 658.6 1300.7 663.6 1300.6 668.6 1300.5 673.6 1300.4 678.6 1300.3 683.6 1300.2 688.6 1300.1 693.6 1300.0 698.6 1300.0 703.6 1299.9 708.6 1299.8 713.6 1299.7 718.6 1299.6 723.6 1299.5 728.6 1299.5 733.6 1299.4 738.6 1299.3 743.6 1299.2 748.6 1299.1 753.6 1299.0 758.6 1298.9 763.6 1298.8 768.6 1298.7 773.6 1298.5 778.6 1298.4 783.5 1298.3 788.5 1298.1 793.5 1298.0 798.5 1297.8 803.5 1297.6 808.5 1297.5 813.5 1297.3 818.5 1297.1 823.5 1296.8 828.5 1296.6 833.5 1296.4 838.5 1296.1 843.5 1295.8 848.5 1295.5 853.5 1295.2 858.5 1294.9 863.5 1294.6 868.4 1294.2 873.4 1293.9 878.4 1293.5 883.4 1293.1 888.4 1292.6 893.4 1292.2 898.3 1291.7 903.3 1291.2 908.3 1290.7 913.3 1290.2 918.2 1289.6 923.2 1289.1 928.2 1288.5 933.1 1287.8 938.1 1287.2 943.0 1286.5 948.0 1285.8 952.9 1285.1 957.9 1284.3 962.8 1283.5 967.7 1282.7 972.7 1281.9 977.6 1281.0 982.5 1280.1 987.4 1279.2 992.3 1278.3 997.2 1277.3 1002.1 1276.2 1007.0 1275.2 1011.9 1274.0 1016.8 1272.9 1021.6 1271.6 1026.4 1270.3 1031.2 1269.0 1036.0 1267.5 1040.8 1266.0 1045.5 1264.4 1050.2 1262.7 1054.9 1260.9 1059.5 1259.0 1064.1 1257.0 1068.6 1254.9 1073.1 1252.6 1077.5 1250.3 1081.8 1247.8 1086.1 1245.2 1090.3 1242.4 1094.4 1239.6 1098.4 1236.6 1102.4 1233.6 1106.3 1230.4 1110.1 1227.2 1113.8 1223.9 1117.5 1220.5 1121.1 1217.0 1124.6 1213.4 1128.0 1209.8 1131.4 1206.1 1134.7 1202.4 1137.9 1198.6 1141.1 1194.7 1144.2 1190.8 1147.3 1186.8 1150.3 1182.8 1153.2 1178.8 1156.1 1174.7 1159.0 1170.6 1161.7 1166.4 1164.5 1162.2 1167.2 1158.0 1169.8 1153.8 1172.4 1149.5 1174.9 1145.2 1177.4 1140.9 1179.9 1136.5 1182.3 1132.2 1184.7 1127.8 1187.1 1123.4 1189.4 1118.9 1191.7 1114.5 1194.0 1110.0 1196.2 1105.6 1198.4 1101.1 1200.6 1096.6 1202.8 1092.1 1204.9 1087.6 1207.1 1083.0 1209.2 1078.5 1211.3 1074.0 1213.3 1069.4 1215.4 1064.9 1217.4 1060.3 1219.4 1055.7 1221.4 1051.1 1223.4 1046.5 1225.4 1041.9 1227.3 1037.3 1229.3 1032.7 1231.2 1028.1 1233.1 1023.5 1235.0 1018.8 1236.8 1014.2 1238.7 1009.6 1240.6 1004.9 1242.4 1000.3 1244.2 995.6 1246.0 991.0 1247.8 986.3 1249.6 981.6 1251.4 977.0 1253.2 972.3 1255.0 967.6 1256.8 962.9 1258.5 958.3 1260.3 953.6 1262.0 948.9 1263.8 944.2 1265.5 939.5 1267.2 934.8 1269.0 930.1 1270.7 925.5 1272.4 920.8 1274.2 916.1 1275.9 911.4 1277.6 906.7 1279.3 902.0 1281.1 897.3 1282.8 892.6 1284.5 887.9 1286.3 883.2 1288.0 878.6 1289.8 873.9 1291.5 869.2 1293.3 864.5 1295.1 859.8 1296.8 855.2 1298.6 850.5 1300.4 845.8 1302.2 841.2 1304.0 836.5 1305.8 831.8 1307.7 827.2 1309.5 822.5 1311.3 817.9 1313.2 813.2 1315.1 808.6 1316.9 804.0 1318.8 799.3 1320.7 794.7 1322.7 790.1 1324.6 785.5 1326.5 780.9 1328.5 776.3 1330.5 771.7 1332.6 767.1 1334.7 762.6 1336.8 758.1 1339.0 753.6 1341.2 749.1 1343.6 744.7 1345.9 740.3 1348.4 736.0 1351.0 731.7 1353.6 727.4 1356.4 723.3 1359.3 719.2 1362.3 715.2 1365.4 711.3 1368.6 707.5 1372.0 703.8 1375.6 700.3 1379.3 696.9 1383.1 693.7 1387.1 690.7 1391.2 687.8 1395.5 685.2 1399.9 682.9 1404.4 680.7 1409.0 678.8 1413.7 677.1 1418.5 675.7 1423.4 674.5 1428.3 673.5 1433.2 672.8 1438.2 672.4 1443.2 672.2 1448.2 672.3 1453.2 672.6 1458.2 673.1 1463.1 673.8 1468.0 674.7 1472.9 675.7 1477.8 677.0 1482.6 678.3 1487.4 679.8 1492.1 681.4 1496.8 683.1 1501.5 684.9 1506.1 686.7 1510.7 688.7 1515.3 690.7 1519.8 692.7 1524.4 694.9 1528.9 697.0 1533.4 699.2 1537.9 701.4 1542.4 703.6 1546.8 705.8 1551.3 708.1 1555.8 710.3 1560.2 712.6 1564.7 714.8 1569.2 717.1 1573.7 719.3 1578.1 721.5 1582.6 723.7 1587.1 725.9 1591.6 728.1 1596.1 730.2 1600.6 732.4 1605.2 734.5 1609.7 736.6 1614.2 738.7 1618.8 740.8 1623.4 742.8 1627.9 744.8 1632.5 746.8 1637.1 748.8 1641.8 750.7 1646.4 752.6 1651.0 754.4 1655.7 756.2 1660.4 758.0 1665.0 759.8 1669.7 761.5 1674.5 763.1 1679.2 764.7 1683.9 766.3 1688.7 767.8 1693.5 769.3 1698.3 770.7 1703.1 772.1 1707.9 773.4 1712.8 774.6 1717.6 775.8 1722.5 777.0 1727.3 778.1 1732.2 779.2 1737.1 780.2 1742.0 781.1 1747.0 782.1 1751.9 782.9 1756.8 783.8 1761.7 784.6 1766.7 785.3 1771.6 786.0 1776.6 786.6 1781.6 787.3 1786.5 787.8 1791.5 788.4 1796.5 788.8 1801.5 789.3 1806.4 789.7 1811.4 790.1 1816.4 790.4 1821.4 790.7 1826.4 790.9 1831.4 791.1 1836.4 791.3 1841.4 791.4 1846.4 791.5 1851.4 791.5 1856.4 791.5 1861.4 791.5 1866.4 791.4 1871.4 791.2 1876.4 791.0 1881.4 790.7 1886.4 790.4 1891.4 790.1 1896.3 789.7 1901.3 789.2 1906.3 788.7 1911.3 788.1 1916.2 787.5 1921.2 786.8 1926.1 786.1 1931.1 785.3 1936.0 784.5 1940.9 783.5 1945.8 782.6 1950.7 781.6 1955.6 780.5 1960.4 779.3 1965.3 778.1 1970.1 776.8 1975.0 775.5 1979.8 774.1 1984.5 772.7 1989.3 771.2 1994.1 769.6 1998.8 768.0 2003.5 766.3 2008.2 764.5 2012.8 762.7 2017.5 760.8 2022.1 758.9 2026.6 756.9 2031.1 754.9" stroke="#800080"/>
<path d="M401.6 1333.8 L406.4 1332.3 411.2 1330.8 416.0 1329.4 420.8 1328.0 425.6 1326.7 430.4 1325.4 435.3 1324.2 440.1 1323.0 445.0 1321.8 449.8 1320.7 454.7 1319.6 459.6 1318.6 464.5 1317.6 469.4 1316.7 474.4 1315.7 479.3 1314.9 484.2 1314.0 489.1 1313.2 494.1 1312.5 499.0 1311.7 504.0 1311.0 508.9 1310.4 513.9 1309.7 518.9 1309.1 523.8 1308.6 528.8 1308.0 533.8 1307.5 538.7 1307.0 543.7 1306.5 548.7 1306.1 553.7 1305.7 558.7 1305.3 563.7 1304.9 568.6 1304.6 573.6 1304.3 578.6 1303.9 583.6 1303.7 588.6 1303.4 593.6 1303.1 598.6 1302.9 603.6 1302.7 608.6 1302.5 613.6 1302.3 618.6 1302.1 623.6 1301.9 628.6 1301.8 633.6 1301.6 638.6 1301.5 643.6 1301.3 648.6 1301.2 653.6 1301.1 658.6 1301.0 663.6 1300.9 668.6 1300.8 673.6 1300.7 678.6 1300.6 683.6 1300.5 688.6 1300.4 693.6 1300.3 698.6 1300.2 703.6 1300.1 708.6 1300.0 713.6 1299.9 718.6 1299.8 723.6 1299.7 728.6 1299.6 733.5 1299.5 738.5 1299.4 743.5 1299.3 748.5 1299.2 753.5 1299.0 758.5 1298.9 763.5 1298.8 768.5 1298.6 773.5 1298.5 778.5 1298.3 783.5 1298.2 788.5 1298.0 793.5 1297.8 798.5 1297.7 803.5 1297.5 808.5 1297.3 813.5 1297.0 818.5 1296.8 823.5 1296.6 828.5 1296.3 833.5 1296.1 838.5 1295.8 843.5 1295.5 848.5 1295.2 853.4 1294.9 858.4 1294.5 863.4 1294.2 868.4 1293.8 873.4 1293.4 878.4 1293.0 883.4 1292.6 888.3 1292.2 893.3 1291.7 898.3 1291.3 903.3 1290.8 908.3 1290.3 913.2 1289.8 918.2 1289.2 923.2 1288.6 928.1 1288.0 933.1 1287.4 938.1 1286.8 943.0 1286.1 948.0 1285.5 952.9 1284.8 957.9 1284.0 962.8 1283.3 967.7 1282.5 972.7 1281.7 977.6 1280.9 982.5 1280.0 987.5 1279.1 992.4 1278.2 997.3 1277.3 1002.2 1276.3 1007.1 1275.3 1012.0 1274.2 1016.8 1273.1 1021.7 1271.9 1026.5 1270.7 1031.4 1269.4 1036.2 1268.0 1040.9 1266.5 1045.7 1264.9 1050.4 1263.3 1055.1 1261.5 1059.7 1259.6 1064.3 1257.7 1068.9 1255.6 1073.3 1253.3 1077.7 1251.0 1082.1 1248.5 1086.4 1245.9 1090.5 1243.2 1094.7 1240.3 1098.7 1237.4 1102.7 1234.3 1106.5 1231.2 1110.4 1228.0 1114.1 1224.6 1117.8 1221.2 1121.3 1217.7 1124.9 1214.2 1128.3 1210.6 1131.7 1206.9 1135.0 1203.1 1138.2 1199.3 1141.4 1195.4 1144.5 1191.5 1147.5 1187.5 1150.4 1183.5 1153.3 1179.4 1156.2 1175.3 1158.9 1171.1 1161.7 1166.9 1164.3 1162.7 1166.9 1158.4 1169.5 1154.1 1172.0 1149.8 1174.4 1145.4 1176.8 1141.1 1179.2 1136.7 1181.5 1132.2 1183.8 1127.8 1186.1 1123.3 1188.3 1118.8 1190.5 1114.3 1192.6 1109.8 1194.8 1105.3 1196.9 1100.8 1199.0 1096.2 1201.0 1091.7 1203.1 1087.1 1205.1 1082.6 1207.2 1078.0 1209.2 1073.4 1211.2 1068.8 1213.2 1064.2 1215.1 1059.7 1217.1 1055.1 1219.0 1050.4 1221.0 1045.8 1222.9 1041.2 1224.8 1036.6 1226.7 1032.0 1228.6 1027.3 1230.4 1022.7 1232.3 1018.1 1234.1 1013.4 1236.0 1008.8 1237.8 1004.1 1239.6 999.4 1241.4 994.8 1243.2 990.1 1245.0 985.4 1246.7 980.8 1248.5 976.1 1250.3 971.4 1252.0 966.7 1253.8 962.0 1255.5 957.3 1257.2 952.6 1258.9 947.9 1260.6 943.2 1262.3 938.5 1264.0 933.8 1265.7 929.1 1267.4 924.4 1269.1 919.7 1270.8 915.0 1272.4 910.3 1274.1 905.6 1275.8 900.9 1277.4 896.1 1279.1 891.4 1280.7 886.7 1282.4 882.0 1284.0 877.3 1285.7 872.5 1287.3 867.8 1288.9 863.1 1290.6 858.4 1292.2 853.6 1293.8 848.9 1295.5 844.2 1297.1 839.5 1298.8 834.7 1300.4 830.0 1302.0 825.3 1303.7 820.6 1305.3 815.9 1306.9 811.1 1308.6 806.4 1310.2 801.7 1311.9 797.0 1313.5 792.2 1315.2 787.5 1316.9 782.8 1318.5 778.1 1320.2 773.4 1321.9 768.7 1323.6 764.0 1325.3 759.3 1327.0 754.6 1328.7 749.9 1330.5 745.2 1332.3 740.5 1334.1 735.9 1335.9 731.2 1337.8 726.6 1339.7 722.0 1341.6 717.3 1343.6 712.8 1345.6 708.2 1347.7 703.6 1349.8 699.1 1351.9 694.6 1354.1 690.1 1356.4 685.6 1358.7 681.2 1361.0 676.8 1363.5 672.4 1365.9 668.1 1368.5 663.8 1371.1 659.5 1373.8 655.3 1376.5 651.1 1379.3 647.0 1382.2 642.9 1385.2 638.9 1388.2 634.9 1391.3 631.0 1394.5 627.1 1397.8 623.4 1401.2 619.7 1404.8 616.2 1408.4 612.8 1412.3 609.5 1416.2 606.5 1420.3 603.7 1424.6 601.0 1429.0 598.6 1433.5 596.5 1438.1 594.5 1442.8 592.8 1447.6 591.4 1452.5 590.2 1457.4 589.4 1462.3 588.8 1467.3 588.5 1472.3 588.5 1477.3 588.9 1482.3 589.5 1487.2 590.4 1492.0 591.6 1496.8 593.0 1501.6 594.6 1506.3 596.3 1510.9 598.1 1515.6 600.0 1520.1 602.0 1524.7 604.1 1529.2 606.2 1533.8 608.3 1538.3 610.4 1542.8 612.5 1547.4 614.6 1551.9 616.7 1556.4 618.9 1561.0 621.0 1565.5 623.1 1570.0 625.2 1574.5 627.3 1579.1 629.5 1583.6 631.6 1588.1 633.7 1592.7 635.8 1597.2 637.9 1601.7 640.0 1606.3 642.1 1610.8 644.2 1615.4 646.2 1619.9 648.3 1624.5 650.4 1629.1 652.4 1633.6 654.4 1638.2 656.5 1642.8 658.5 1647.4 660.5 1652.0 662.4 1656.6 664.4 1661.2 666.3 1665.8 668.2 1670.4 670.1 1675.1 672.0 1679.7 673.9 1684.3 675.7 1689.0 677.5 1693.7 679.3 1698.4 681.0 1703.1 682.8 1707.8 684.5 1712.5 686.1 1717.2 687.8 1721.9 689.4 1726.7 691.0 1731.4 692.5 1736.2 694.0 1741.0 695.5 1745.8 696.9 1750.6 698.3 1755.4 699.7 1760.2 701.0 1765.0 702.3 1769.9 703.6 1774.7 704.8 1779.6 705.9 1784.5 707.0 1789.3 708.1 1794.2 709.1 1799.1 710.1 1804.0 711.1 1809.0 711.9 1813.9 712.8 1818.8 713.6 1823.8 714.3 1828.7 715.1 1833.7 715.7 1838.6 716.3 1843.6 716.9 1848.6 717.4 1853.6 717.9 1858.5 718.3 1863.5 718.7 1868.5 719.0 1873.5 719.3 1878.5 719.5 1883.5 719.7 1888.5 719.8 1893.5 719.9 1898.5 719.9 1903.5 719.8 1908.5 719.8 1913.5 719.6 1918.5 719.4 1923.5 719.2 1928.5 718.8 1933.5 718.5 1938.4 718.1 1943.4 717.6 1948.4 717.0 1953.4 716.4 1958.3 715.8 1963.3 715.1 1968.2 714.3 1973.1 713.4 1978.0 712.5 1982.9 711.6 1987.8 710.5 1992.7 709.4 1997.6 708.3 2002.4 707.0 2007.3 705.7 2012.1 704.4 2016.9 702.9 2021.6 701.4 2026.4 699.8 2030.6 698.4" stroke="#800000"/>
<path d="M401.4 1334.0 L406.2 1332.7 411.0 1331.4 415.9 1330.2 420.7 1328.9 425.6 1327.8 430.4 1326.6 435.3 1325.5 440.2 1324.4 445.1 1323.3 450.0 1322.3 454.9 1321.3 459.8 1320.4 464.7 1319.4 469.6 1318.5 474.5 1317.7 479.5 1316.8 484.4 1316.0 489.3 1315.2 494.3 1314.5 499.2 1313.7 504.2 1313.0 509.1 1312.3 514.1 1311.7 519.0 1311.1 524.0 1310.4 529.0 1309.9 533.9 1309.3 538.9 1308.8 543.9 1308.3 548.9 1307.8 553.8 1307.3 558.8 1306.8 563.8 1306.4 568.8 1306.0 573.8 1305.6 578.7 1305.2 583.7 1304.9 588.7 1304.5 593.7 1304.2 598.7 1303.9 603.7 1303.6 608.7 1303.3 613.7 1303.0 618.7 1302.8 623.7 1302.6 628.7 1302.3 633.7 1302.1 638.6 1301.9 643.6 1301.7 648.6 1301.6 653.6 1301.4 658.6 1301.2 663.6 1301.1 668.6 1300.9 673.6 1300.8 678.6 1300.7 683.6 1300.5 688.6 1300.4 693.6 1300.3 698.6 1300.2 703.6 1300.1 708.6 1300.0 713.6 1299.9 718.6 1299.8 723.6 1299.8 728.6 1299.7 733.6 1299.6 738.6 1299.5 743.6 1299.4 748.6 1299.3 753.6 1299.3 758.6 1299.2 763.6 1299.1 768.6 1299.0 773.6 1298.9 778.6 1298.8 783.6 1298.7 788.6 1298.6 793.6 1298.5 798.6 1298.4 803.6 1298.3 808.6 1298.1 813.6 1298.0 818.6 1297.9 823.6 1297.7 828.6 1297.5 833.6 1297.3 838.6 1297.1 843.6 1296.9 848.6 1296.7 853.6 1296.5 858.6 1296.2 863.6 1295.9 868.5 1295.6 873.5 1295.3 878.5 1294.9 883.5 1294.6 888.5 1294.2 893.5 1293.7 898.5 1293.3 903.4 1292.8 908.4 1292.3 913.4 1291.8 918.3 1291.2 923.3 1290.6 928.3 1289.9 933.2 1289.3 938.2 1288.6 943.1 1287.8 948.1 1287.1 953.0 1286.2 957.9 1285.4 962.8 1284.5 967.7 1283.5 972.6 1282.6 977.5 1281.5 982.4 1280.5 987.3 1279.4 992.2 1278.2 997.0 1277.0 1001.9 1275.7 1006.7 1274.4 1011.5 1273.0 1016.3 1271.6 1021.0 1270.1 1025.8 1268.5 1030.5 1266.9 1035.2 1265.1 1039.9 1263.3 1044.5 1261.4 1049.1 1259.4 1053.6 1257.3 1058.1 1255.2 1062.6 1252.9 1067.0 1250.5 1071.3 1248.0 1075.6 1245.4 1079.8 1242.7 1083.9 1239.9 1088.0 1237.0 1092.0 1234.0 1095.9 1230.9 1099.7 1227.7 1103.5 1224.4 1107.3 1221.1 1110.9 1217.7 1114.5 1214.2 1118.1 1210.7 1121.6 1207.1 1125.0 1203.5 1128.4 1199.8 1131.7 1196.1 1135.0 1192.3 1138.2 1188.5 1141.4 1184.6 1144.5 1180.7 1147.5 1176.7 1150.5 1172.7 1153.5 1168.7 1156.4 1164.6 1159.2 1160.5 1162.0 1156.3 1164.7 1152.2 1167.4 1147.9 1170.0 1143.7 1172.6 1139.4 1175.1 1135.1 1177.6 1130.7 1180.0 1126.4 1182.4 1122.0 1184.8 1117.5 1187.0 1113.1 1189.3 1108.6 1191.5 1104.2 1193.7 1099.6 1195.8 1095.1 1197.9 1090.6 1199.9 1086.0 1201.9 1081.4 1203.9 1076.8 1205.8 1072.2 1207.7 1067.6 1209.6 1063.0 1211.4 1058.3 1213.2 1053.6 1215.0 1049.0 1216.7 1044.3 1218.4 1039.6 1220.1 1034.9 1221.8 1030.2 1223.4 1025.4 1225.0 1020.7 1226.6 1016.0 1228.2 1011.2 1229.7 1006.5 1231.3 1001.7 1232.8 996.9 1234.3 992.2 1235.7 987.4 1237.2 982.6 1238.6 977.8 1240.1 973.0 1241.5 968.2 1242.9 963.4 1244.3 958.6 1245.7 953.8 1247.0 949.0 1248.4 944.2 1249.8 939.4 1251.1 934.6 1252.5 929.8 1253.8 924.9 1255.2 920.1 1256.5 915.3 1257.9 910.5 1259.2 905.7 1260.6 900.9 1261.9 896.1 1263.2 891.2 1264.6 886.4 1265.9 881.6 1267.3 876.8 1268.6 872.0 1269.9 867.1 1271.3 862.3 1272.6 857.5 1273.9 852.7 1275.3 847.9 1276.6 843.1 1277.9 838.2 1279.3 833.4 1280.6 828.6 1282.0 823.8 1283.3 819.0 1284.6 814.1 1286.0 809.3 1287.3 804.5 1288.6 799.7 1290.0 794.9 1291.3 790.1 1292.6 785.2 1294.0 780.4 1295.3 775.6 1296.7 770.8 1298.0 766.0 1299.3 761.2 1300.7 756.3 1302.0 751.5 1303.4 746.7 1304.7 741.9 1306.1 737.1 1307.4 732.3 1308.8 727.5 1310.2 722.6 1311.5 717.8 1312.9 713.0 1314.2 708.2 1315.6 703.4 1317.0 698.6 1318.3 693.8 1319.7 689.0 1321.1 684.2 1322.5 679.4 1323.8 674.6 1325.2 669.7 1326.6 664.9 1328.0 660.1 1329.4 655.3 1330.8 650.5 1332.2 645.7 1333.6 640.9 1335.0 636.1 1336.4 631.3 1337.8 626.5 1339.2 621.7 1340.7 617.0 1342.1 612.2 1343.5 607.4 1344.9 602.6 1346.4 597.8 1347.8 593.0 1349.3 588.2 1350.7 583.4 1352.2 578.7 1353.7 573.9 1355.2 569.1 1356.7 564.4 1358.3 559.6 1359.8 554.8 1361.4 550.1 1362.9 545.3 1364.6 540.6 1366.2 535.9 1367.8 531.2 1369.5 526.5 1371.2 521.7 1372.9 517.1 1374.7 512.4 1376.4 507.7 1378.2 503.0 1380.1 498.4 1381.9 493.7 1383.8 489.1 1385.7 484.5 1387.7 479.9 1389.7 475.3 1391.7 470.7 1393.8 466.2 1395.9 461.6 1398.0 457.1 1400.2 452.6 1402.4 448.1 1404.6 443.7 1406.9 439.2 1409.3 434.8 1411.6 430.4 1414.1 426.0 1416.6 421.7 1419.1 417.4 1421.8 413.2 1424.5 409.0 1427.3 404.8 1430.2 400.8 1433.3 396.8 1436.4 392.9 1439.6 389.1 1443.0 385.4 1446.5 381.8 1450.1 378.3 1453.8 375.0 1457.7 371.9 1461.8 369.0 1466.0 366.2 1470.3 363.7 1474.7 361.4 1479.2 359.3 1483.9 357.4 1488.5 355.6 1493.3 354.1 1498.1 352.7 1502.9 351.5 1507.8 350.4 1512.7 349.4 1517.7 348.6 1522.6 348.0 1527.6 347.4 1532.6 347.0 1537.6 346.6 1542.6 346.4 1547.6 346.3 1552.6 346.2 1557.6 346.3 1562.6 346.4 1567.6 346.6 1572.5 346.9 1577.5 347.3 1582.5 347.7 1587.5 348.2 1592.5 348.8 1597.4 349.4 1602.4 350.0 1607.3 350.8 1612.3 351.5 1617.2 352.3 1622.1 353.1 1627.1 354.0 1632.0 354.9 1636.9 355.8 1641.8 356.7 1646.7 357.7 1651.6 358.7 1656.5 359.6 1661.4 360.6 1666.3 361.6 1671.2 362.6 1676.1 363.6 1681.0 364.6 1685.9 365.6 1690.8 366.6 1695.7 367.5 1700.7 368.4 1705.6 369.3 1710.5 370.2 1715.4 371.1 1720.4 371.9 1725.3 372.7 1730.2 373.4 1735.2 374.1 1740.1 374.8 1745.1 375.4 1750.1 375.9 1755.1 376.4 1760.0 376.9 1765.0 377.3 1770.0 377.7 1775.0 378.0 1780.0 378.2 1785.0 378.4 1790.0 378.6 1795.0 378.7 1800.0 378.8 1805.0 378.8 1810.0 378.8 1815.0 378.8 1820.0 378.7 1825.0 378.5 1830.0 378.3 1835.0 378.1 1840.0 377.8 1844.9 377.5 1849.9 377.2 1854.9 376.8 1859.9 376.3 1864.9 375.8 1869.8 375.3 1874.8 374.8 1879.8 374.2 1884.7 373.5 1889.7 372.9 1894.6 372.2 1899.6 371.4 1904.5 370.7 1909.5 369.8 1914.4 369.0 1919.3 368.1 1924.2 367.2 1929.1 366.3 1934.0 365.3 1938.9 364.3 1943.8 363.3 1948.7 362.2 1953.6 361.1 1958.5 360.0 1963.3 358.8 1968.2 357.6 1973.0 356.4 1977.9 355.2 1982.7 353.9 1987.6 352.7 1992.4 351.3 1997.2 350.0 2002.0 348.6 2006.8 347.3 2011.6 345.9 2016.4 344.4 2021.2 343.0 2026.0 341.5 2030.7 340.0 2031.4 339.8" stroke="#808000"/>
<path d="M401.4 1331.9 L406.3 1330.6 411.1 1329.3 415.9 1328.1 420.8 1326.9 425.7 1325.7 430.5 1324.6 435.4 1323.5 440.3 1322.4 445.2 1321.4 450.1 1320.4 455.0 1319.4 459.9 1318.5 464.8 1317.5 469.7 1316.6 474.6 1315.8 479.6 1314.9 484.5 1314.1 489.4 1313.3 494.4 1312.6 499.3 1311.8 504.3 1311.1 509.2 1310.5 514.2 1309.8 519.2 1309.2 524.1 1308.6 529.1 1308.0 534.1 1307.4 539.0 1306.9 544.0 1306.3 549.0 1305.8 553.9 1305.3 558.9 1304.9 563.9 1304.4 568.9 1304.0 573.9 1303.6 578.9 1303.2 583.8 1302.9 588.8 1302.5 593.8 1302.2 598.8 1301.8 603.8 1301.5 608.8 1301.3 613.8 1301.0 618.8 1300.7 623.8 1300.5 628.8 1300.2 633.8 1300.0 638.8 1299.8 643.8 1299.6 648.7 1299.4 653.7 1299.2 658.7 1299.1 663.7 1298.9 668.7 1298.7 673.7 1298.6 678.7 1298.5 683.7 1298.3 688.7 1298.2 693.7 1298.1 698.7 1298.0 703.7 1297.9 708.7 1297.8 713.7 1297.7 718.7 1297.6 723.7 1297.6 728.7 1297.5 733.7 1297.4 738.7 1297.3 743.7 1297.2 748.7 1297.2 753.7 1297.1 758.7 1297.0 763.7 1297.0 768.7 1296.9 773.7 1296.8 778.7 1296.7 783.7 1296.7 788.7 1296.6 793.7 1296.5 798.7 1296.4 803.7 1296.3 808.7 1296.2 813.7 1296.1 818.7 1296.0 823.7 1295.9 828.7 1295.8 833.7 1295.7 838.7 1295.5 843.7 1295.3 848.7 1295.2 853.7 1295.0 858.7 1294.8 863.7 1294.6 868.7 1294.3 873.7 1294.1 878.7 1293.8 883.7 1293.5 888.6 1293.2 893.6 1292.9 898.6 1292.5 903.6 1292.1 908.6 1291.7 913.6 1291.3 918.6 1290.8 923.5 1290.4 928.5 1289.9 933.5 1289.3 938.4 1288.8 943.4 1288.2 948.4 1287.5 953.3 1286.9 958.3 1286.2 963.2 1285.5 968.2 1284.7 973.1 1283.9 978.0 1283.1 983.0 1282.2 987.9 1281.3 992.8 1280.3 997.7 1279.3 1002.6 1278.3 1007.5 1277.2 1012.3 1276.1 1017.2 1274.9 1022.0 1273.6 1026.8 1272.3 1031.6 1270.9 1036.4 1269.4 1041.2 1267.9 1045.9 1266.2 1050.6 1264.5 1055.2 1262.7 1059.9 1260.8 1064.4 1258.8 1069.0 1256.6 1073.4 1254.4 1077.9 1252.1 1082.2 1249.6 1086.5 1247.1 1090.7 1244.4 1094.9 1241.7 1099.0 1238.8 1103.1 1235.9 1107.1 1232.9 1111.0 1229.8 1114.9 1226.6 1118.7 1223.4 1122.5 1220.1 1126.2 1216.8 1129.9 1213.4 1133.5 1209.9 1137.1 1206.4 1140.6 1202.9 1144.0 1199.2 1147.4 1195.5 1150.7 1191.8 1154.0 1188.0 1157.2 1184.2 1160.3 1180.3 1163.4 1176.4 1166.5 1172.4 1169.5 1168.4 1172.4 1164.4 1175.3 1160.3 1178.1 1156.1 1180.9 1152.0 1183.6 1147.8 1186.2 1143.5 1188.8 1139.3 1191.4 1135.0 1193.9 1130.7 1196.3 1126.3 1198.8 1121.9 1201.1 1117.5 1203.4 1113.1 1205.7 1108.6 1207.9 1104.1 1210.1 1099.6 1212.2 1095.1 1214.3 1090.6 1216.4 1086.0 1218.4 1081.5 1220.4 1076.9 1222.3 1072.3 1224.2 1067.6 1226.1 1063.0 1228.0 1058.3 1229.8 1053.7 1231.5 1049.0 1233.3 1044.3 1235.0 1039.6 1236.7 1034.9 1238.4 1030.2 1240.0 1025.5 1241.6 1020.8 1243.2 1016.0 1244.8 1011.3 1246.3 1006.5 1247.9 1001.8 1249.4 997.0 1250.9 992.2 1252.3 987.4 1253.8 982.7 1255.2 977.9 1256.6 973.1 1258.1 968.3 1259.5 963.5 1260.9 958.7 1262.2 953.9 1263.6 949.1 1265.0 944.3 1266.3 939.4 1267.7 934.6 1269.0 929.8 1270.4 925.0 1271.7 920.2 1273.0 915.4 1274.4 910.5 1275.7 905.7 1277.0 900.9 1278.4 896.1 1279.7 891.3 1281.1 886.4 1282.4 881.6 1283.8 876.8 1285.1 872.0 1286.5 867.2 1287.9 862.4 1289.3 857.6 1290.7 852.8 1292.1 848.0 1293.5 843.2 1294.9 838.4 1296.4 833.6 1297.9 828.9 1299.4 824.1 1300.9 819.3 1302.4 814.5 1303.9 809.8 1305.5 805.0 1307.0 800.3 1308.6 795.5 1310.2 790.8 1311.8 786.0 1313.3 781.3 1314.9 776.6 1316.5 771.8 1318.1 767.1 1319.7 762.4 1321.3 757.6 1322.9 752.9 1324.5 748.1 1326.1 743.4 1327.7 738.7 1329.3 733.9 1330.8 729.2 1332.4 724.4 1333.9 719.7 1335.5 714.9 1337.0 710.1 1338.5 705.4 1340.0 700.6 1341.4 695.8 1342.9 691.0 1344.3 686.2 1345.7 681.4 1347.1 676.6 1348.4 671.8 1349.8 667.0 1351.1 662.2 1352.4 657.3 1353.7 652.5 1355.1 647.7 1356.4 642.9 1357.7 638.1 1359.0 633.2 1360.3 628.4 1361.7 623.6 1363.1 618.8 1364.4 614.0 1365.9 609.2 1367.3 604.4 1368.8 599.6 1370.3 594.8 1371.8 590.1 1373.4 585.3 1375.0 580.6 1376.7 575.9 1378.4 571.2 1380.1 566.5 1381.9 561.8 1383.6 557.2 1385.5 552.5 1387.3 547.9 1389.2 543.2 1391.1 538.6 1393.0 534.0 1394.9 529.4 1396.9 524.8 1398.8 520.2 1400.8 515.6 1402.8 511.0 1404.8 506.4 1406.8 501.8 1408.8 497.2 1410.8 492.6 1412.8 488.0 1414.7 483.5 1416.7 478.9 1418.7 474.3 1420.7 469.7 1422.8 465.1 1424.8 460.6 1426.9 456.0 1429.1 451.5 1431.2 447.0 1433.4 442.5 1435.7 438.1 1438.0 433.7 1440.4 429.3 1442.9 424.9 1445.4 420.6 1448.1 416.3 1450.7 412.1 1453.5 408.0 1456.4 403.9 1459.3 399.8 1462.3 395.8 1465.4 391.9 1468.5 388.0 1471.7 384.2 1475.0 380.4 1478.4 376.7 1481.8 373.0 1485.3 369.5 1488.9 366.0 1492.5 362.5 1496.2 359.2 1500.0 355.9 1503.8 352.7 1507.7 349.5 1511.7 346.5 1515.7 343.5 1519.7 340.6 1523.9 337.8 1528.1 335.1 1532.3 332.4 1536.6 329.9 1541.0 327.4 1545.4 325.1 1549.9 322.8 1554.4 320.7 1558.9 318.6 1563.5 316.7 1568.2 314.8 1572.9 313.1 1577.6 311.4 1582.3 309.9 1587.1 308.4 1591.9 307.0 1596.8 305.7 1601.6 304.5 1606.5 303.4 1611.4 302.3 1616.3 301.3 1621.2 300.4 1626.1 299.5 1631.0 298.7 1636.0 297.9 1640.9 297.2 1645.9 296.6 1650.8 296.0 1655.8 295.4 1660.8 294.8 1665.8 294.3 1670.7 293.9 1675.7 293.4 1680.7 293.0 1685.7 292.6 1690.7 292.2 1695.6 291.9 1700.6 291.5 1705.6 291.2 1710.6 290.8 1715.6 290.5 1720.6 290.2 1725.6 289.8 1730.6 289.5 1735.6 289.2 1740.5 288.8 1745.5 288.4 1750.5 288.0 1755.5 287.6 1760.5 287.2 1765.5 286.7 1770.4 286.2 1775.4 285.7 1780.4 285.1 1785.3 284.5 1790.3 283.9 1795.3 283.2 1800.2 282.5 1805.1 281.8 1810.1 281.0 1815.0 280.2 1819.9 279.4 1824.9 278.5 1829.8 277.6 1834.7 276.6 1839.6 275.6 1844.5 274.6 1849.4 273.6 1854.3 272.5 1859.1 271.4 1864.0 270.2 1868.9 269.0 1873.7 267.8 1878.5 266.5 1883.4 265.3 1888.2 263.9 1893.0 262.6 1897.8 261.2 1902.6 259.8 1907.4 258.3 1912.2 256.9 1916.9 255.4 1921.7 253.8 1926.5 252.3 1931.2 250.7 1935.9 249.0 1940.6 247.4 1945.3 245.7 1950.0 244.0 1954.7 242.3 1959.4 240.5 1964.1 238.7 1968.7 236.9 1973.4 235.1 1978.0 233.2 1982.7 231.3 1987.3 229.4 1991.9 227.5 1996.5 225.5 2001.1 223.5 2005.7 221.5 2010.2 219.5 2014.8 217.4 2019.3 215.4 2023.9 213.3 2028.4 211.2 2031.5 209.7" stroke="#2B63A3"/>
</g>
<rect x="410.0" y="96.0" width="418.5" height="931.7" fill="#fff" stroke="#000" stroke-width="3.2"/>
<line x1="433.0" y1="146.2" x2="579.0" y2="146.2" stroke="#000000" stroke-width="8.0" stroke-linecap="round"/>
<text transform="matrix(0.9150 0 0 1 596.70 168.20)" font-size="68.00" fill="#000"><tspan>pH5</tspan></text>
<line x1="433.0" y1="239.9" x2="579.0" y2="239.9" stroke="#FF0000" stroke-width="8.0" stroke-linecap="round"/>
<text transform="matrix(0.9150 0 0 1 596.88 261.95)" font-size="68.00" fill="#000"><tspan>10</tspan><tspan font-size="40.12" dy="-35.63">-7</tspan></text>
<line x1="433.0" y1="333.7" x2="579.0" y2="333.7" stroke="#0000FF" stroke-width="8.0" stroke-linecap="round"/>
<text transform="matrix(0.9150 0 0 1 596.88 355.70)" font-size="68.00" fill="#000"><tspan>10</tspan><tspan font-size="40.12" dy="-35.63">-6</tspan></text>
<line x1="433.0" y1="427.4" x2="579.0" y2="427.4" stroke="#008000" stroke-width="8.0" stroke-linecap="round"/>
<text transform="matrix(0.9150 0 0 1 596.88 449.45)" font-size="68.00" fill="#000"><tspan>10</tspan><tspan font-size="40.12" dy="-35.63">-5</tspan></text>
<line x1="433.0" y1="521.2" x2="579.0" y2="521.2" stroke="#000080" stroke-width="8.0" stroke-linecap="round"/>
<text transform="matrix(0.9150 0 0 1 598.64 543.20)" font-size="68.00" fill="#000"><tspan>2.5x10</tspan><tspan font-size="40.12" dy="-35.63">-5</tspan></text>
<line x1="433.0" y1="615.0" x2="579.0" y2="615.0" stroke="#8000FF" stroke-width="8.0" stroke-linecap="round"/>
<text transform="matrix(0.9150 0 0 1 598.89 636.95)" font-size="68.00" fill="#000"><tspan>5x10</tspan><tspan font-size="40.12" dy="-35.63">-6</tspan></text>
<line x1="433.0" y1="708.7" x2="579.0" y2="708.7" stroke="#800080" stroke-width="8.0" stroke-linecap="round"/>
<text transform="matrix(0.9150 0 0 1 596.88 730.70)" font-size="68.00" fill="#000"><tspan>10</tspan><tspan font-size="40.12" dy="-35.63">-4</tspan></text>
<line x1="433.0" y1="802.5" x2="579.0" y2="802.5" stroke="#800000" stroke-width="8.0" stroke-linecap="round"/>
<text transform="matrix(0.9150 0 0 1 598.64 824.45)" font-size="68.00" fill="#000"><tspan>2.5x10</tspan><tspan font-size="40.12" dy="-35.63">-4</tspan></text>
<line x1="433.0" y1="896.2" x2="579.0" y2="896.2" stroke="#808000" stroke-width="8.0" stroke-linecap="round"/>
<text transform="matrix(0.9150 0 0 1 598.89 918.20)" font-size="68.00" fill="#000"><tspan>5x10</tspan><tspan font-size="40.12" dy="-35.63">-6</tspan></text>
<line x1="433.0" y1="990.0" x2="579.0" y2="990.0" stroke="#2B63A3" stroke-width="8.0" stroke-linecap="round"/>
<text transform="matrix(0.9150 0 0 1 596.88 1011.95)" font-size="68.00" fill="#000"><tspan>10</tspan><tspan font-size="40.12" dy="-35.63">-3</tspan></text>
<text transform="matrix(0.9350 0 0 1 149.86 98.70)" font-size="73.30" fill="#000"><tspan>5x10</tspan><tspan font-size="43.25" dy="-38.41">-7</tspan></text>
<text transform="matrix(0.9350 0 0 1 149.86 346.50)" font-size="73.30" fill="#000"><tspan>4x10</tspan><tspan font-size="43.25" dy="-38.41">-7</tspan></text>
<text transform="matrix(0.9350 0 0 1 149.86 594.30)" font-size="73.30" fill="#000"><tspan>3x10</tspan><tspan font-size="43.25" dy="-38.41">-7</tspan></text>
<text transform="matrix(0.9350 0 0 1 149.86 842.10)" font-size="73.30" fill="#000"><tspan>2x10</tspan><tspan font-size="43.25" dy="-38.41">-7</tspan></text>
<text transform="matrix(0.9350 0 0 1 149.86 1089.90)" font-size="73.30" fill="#000"><tspan>1x10</tspan><tspan font-size="43.25" dy="-38.41">-7</tspan></text>
<text transform="matrix(0.9400 0 0 1 301.95 1322.80)" font-size="72.80" fill="#000"><tspan>0</tspan></text>
<text transform="matrix(0.9400 0 0 1 583.27 1533.00)" font-size="72.80" fill="#000"><tspan>0.4</tspan></text>
<text transform="matrix(0.9400 0 0 1 1050.46 1533.00)" font-size="72.80" fill="#000"><tspan>0.6</tspan></text>
<text transform="matrix(0.9400 0 0 1 1516.41 1533.00)" font-size="72.80" fill="#000"><tspan>0.8</tspan></text>
<text transform="matrix(0.9400 0 0 1 1982.10 1533.00)" font-size="72.80" fill="#000"><tspan>1.0</tspan></text>
<text transform="matrix(0.9634 0 0 1 991.13 1657.60)" font-size="70.93" fill="#000"><tspan>E (V) vs Ag/AgCl</tspan></text>
<text transform="matrix(0.9166 0 0 1 1001.12 157.70)" font-size="74.07" fill="#FF0000"><tspan>GC</tspan></text>
<text transform="matrix(0.9800 0 0 1 1958.76 153.00)" font-size="71.00" fill="#000"><tspan>a.</tspan></text>
<text transform="matrix(0.9278 0 0 1 1305.42 313.00)" font-size="61.05" fill="#408080"><tspan>+ 0.79 V</tspan></text>
<text transform="matrix(0.9332 0 0 1 1294.51 1182.70)" font-size="60.90" fill="#008000"><tspan>+ 0.7 V</tspan></text>
<text transform="translate(81.00 825.43) rotate(-90) scale(0.9532 1)" font-size="74.13">I (A)</text>
<line x1="400.2" y1="1761.8" x2="2072.5" y2="1761.8" stroke="#000" stroke-width="1.8" stroke-linecap="butt"/>
<line x1="2072.5" y1="1760.9" x2="2072.5" y2="3110.8" stroke="#000" stroke-width="2.8" stroke-linecap="butt"/>
<line x1="400.2" y1="1760.3" x2="400.2" y2="3112.7" stroke="#000" stroke-width="4.3" stroke-linecap="butt"/>
<line x1="398.1" y1="3110.8" x2="2073.9" y2="3110.8" stroke="#000" stroke-width="3.8" stroke-linecap="butt"/>
<line x1="372.7" y1="1761.5" x2="400.2" y2="1761.5" stroke="#000" stroke-width="4.5" stroke-linecap="butt"/>
<line x1="386.2" y1="1936.8" x2="400.2" y2="1936.8" stroke="#000" stroke-width="4.5" stroke-linecap="butt"/>
<line x1="372.7" y1="2112.1" x2="400.2" y2="2112.1" stroke="#000" stroke-width="4.5" stroke-linecap="butt"/>
<line x1="386.2" y1="2287.4" x2="400.2" y2="2287.4" stroke="#000" stroke-width="4.5" stroke-linecap="butt"/>
<line x1="372.7" y1="2462.6" x2="400.2" y2="2462.6" stroke="#000" stroke-width="4.5" stroke-linecap="butt"/>
<line x1="386.2" y1="2637.9" x2="400.2" y2="2637.9" stroke="#000" stroke-width="4.5" stroke-linecap="butt"/>
<line x1="372.7" y1="2813.2" x2="400.2" y2="2813.2" stroke="#000" stroke-width="4.5" stroke-linecap="butt"/>
<line x1="386.2" y1="2988.5" x2="400.2" y2="2988.5" stroke="#000" stroke-width="4.5" stroke-linecap="butt"/>
<line x1="524.1" y1="3110.8" x2="524.1" y2="3124.8" stroke="#000" stroke-width="4.5" stroke-linecap="butt"/>
<line x1="695.7" y1="3110.8" x2="695.7" y2="3137.8" stroke="#000" stroke-width="4.5" stroke-linecap="butt"/>
<line x1="867.3" y1="3110.8" x2="867.3" y2="3124.8" stroke="#000" stroke-width="4.5" stroke-linecap="butt"/>
<line x1="1038.9" y1="3110.8" x2="1038.9" y2="3137.8" stroke="#000" stroke-width="4.5" stroke-linecap="butt"/>
<line x1="1210.5" y1="3110.8" x2="1210.5" y2="3124.8" stroke="#000" stroke-width="4.5" stroke-linecap="butt"/>
<line x1="1382.1" y1="3110.8" x2="1382.1" y2="3137.8" stroke="#000" stroke-width="4.5" stroke-linecap="butt"/>
<line x1="1553.7" y1="3110.8" x2="1553.7" y2="3124.8" stroke="#000" stroke-width="4.5" stroke-linecap="butt"/>
<line x1="1725.3" y1="3110.8" x2="1725.3" y2="3137.8" stroke="#000" stroke-width="4.5" stroke-linecap="butt"/>
<line x1="1896.9" y1="3110.8" x2="1896.9" y2="3124.8" stroke="#000" stroke-width="4.5" stroke-linecap="butt"/>
<line x1="2068.5" y1="3110.8" x2="2068.5" y2="3137.8" stroke="#000" stroke-width="4.5" stroke-linecap="butt"/>
<clipPath id="cb"><rect x="402.0" y="1763.0" width="1669.0" height="1349.7"/></clipPath>
<g clip-path="url(#cb)" fill="none" stroke-width="8.0" stroke-linejoin="round" stroke-linecap="round">
<path d="M580.2 3130.4 L583.5 3126.7 586.9 3123.0 590.3 3119.3 593.6 3115.6 597.1 3112.0 600.5 3108.3 603.9 3104.7 607.4 3101.1 610.9 3097.5 614.3 3093.9 617.9 3090.3 621.4 3086.8 624.9 3083.3 628.5 3079.8 632.0 3076.3 635.6 3072.8 639.2 3069.3 642.9 3065.9 646.5 3062.4 650.1 3059.0 653.8 3055.6 657.5 3052.2 661.2 3048.9 664.9 3045.5 668.6 3042.2 672.4 3038.9 676.1 3035.6 679.9 3032.3 683.7 3029.0 687.5 3025.8 691.3 3022.5 695.1 3019.3 699.0 3016.1 702.8 3012.9 706.7 3009.7 710.6 3006.6 714.4 3003.4 718.3 3000.3 722.3 2997.2 726.2 2994.1 730.1 2991.1 734.1 2988.0 738.1 2985.0 742.0 2981.9 746.0 2978.9 750.0 2975.9 754.1 2972.9 758.1 2970.0 762.1 2967.0 766.2 2964.1 770.2 2961.2 774.3 2958.3 778.4 2955.4 782.5 2952.6 786.6 2949.7 790.7 2946.9 794.9 2944.0 799.0 2941.2 803.1 2938.5 807.3 2935.7 811.5 2932.9 815.7 2930.2 819.9 2927.5 824.1 2924.7 828.3 2922.1 832.5 2919.4 836.7 2916.7 841.0 2914.1 845.2 2911.4 849.5 2908.8 853.7 2906.2 858.0 2903.6 862.3 2901.0 866.6 2898.5 870.9 2895.9 875.2 2893.4 879.5 2890.9 883.9 2888.4 888.2 2885.9 892.6 2883.4 896.9 2881.0 901.3 2878.5 905.6 2876.1 910.0 2873.7 914.4 2871.3 918.8 2868.9 923.2 2866.6 927.6 2864.2 932.0 2861.9 936.5 2859.5 940.9 2857.2 945.3 2854.9 949.8 2852.6 954.2 2850.4 958.7 2848.1 963.2 2845.9 967.7 2843.6 972.1 2841.4 976.6 2839.2 981.1 2837.0 985.6 2834.9 990.1 2832.7 994.6 2830.5 999.2 2828.4 1003.7 2826.3 1008.2 2824.1 1012.7 2822.0 1017.3 2819.9 1021.8 2817.8 1026.4 2815.7 1030.9 2813.7 1035.5 2811.6 1040.0 2809.5 1044.6 2807.5 1049.1 2805.4 1053.7 2803.4 1058.3 2801.4 1062.8 2799.3 1067.4 2797.3 1072.0 2795.3 1076.6 2793.3 1081.1 2791.3 1085.7 2789.3 1090.3 2787.3 1094.9 2785.3 1099.5 2783.3 1104.1 2781.3 1108.7 2779.3 1113.3 2777.4 1117.8 2775.4 1122.4 2773.4 1127.0 2771.4 1131.6 2769.5 1136.2 2767.5 1140.8 2765.5 1145.4 2763.6 1150.0 2761.6 1154.6 2759.7 1159.2 2757.7 1163.8 2755.8 1168.4 2753.8 1173.1 2751.9 1177.7 2750.0 1182.3 2748.0 1186.9 2746.1 1191.5 2744.2 1196.1 2742.3 1200.8 2740.4 1205.4 2738.5 1210.0 2736.6 1214.7 2734.8 1219.3 2732.9 1223.9 2731.0 1228.6 2729.2 1233.2 2727.4 1237.9 2725.5 1242.6 2723.7 1247.2 2721.9 1251.9 2720.1 1256.6 2718.3 1261.2 2716.6 1265.9 2714.8 1270.6 2713.1 1275.3 2711.3 1280.0 2709.6 1284.7 2707.9 1289.4 2706.2 1294.1 2704.5 1298.8 2702.8 1303.5 2701.2 1308.2 2699.5 1313.0 2697.8 1317.7 2696.2 1322.4 2694.6 1327.1 2693.0 1331.9 2691.3 1336.6 2689.7 1341.3 2688.1 1346.1 2686.6 1350.8 2685.0 1355.6 2683.4 1360.3 2681.8 1365.1 2680.3 1369.8 2678.7 1374.6 2677.2 1379.3 2675.7 1384.1 2674.1 1388.9 2672.6 1393.6 2671.1 1398.4 2669.6 1403.2 2668.1 1407.9 2666.6 1412.7 2665.1 1417.5 2663.6 1422.2 2662.1 1427.0 2660.6 1431.8 2659.1 1436.6 2657.7 1441.4 2656.2 1446.1 2654.7 1450.9 2653.3 1455.7 2651.8 1460.5 2650.3 1465.3 2648.9 1470.0 2647.4 1474.8 2646.0 1479.6 2644.5 1484.4 2643.1 1489.2 2641.6 1494.0 2640.2 1498.8 2638.7 1503.5 2637.3 1508.3 2635.8 1513.1 2634.4 1517.9 2632.9 1522.7 2631.5 1527.5 2630.1 1532.3 2628.6 1537.1 2627.2 1541.8 2625.7 1546.6 2624.3 1551.4 2622.8 1556.2 2621.4 1561.0 2619.9 1565.8 2618.4 1570.5 2617.0 1575.3 2615.5 1580.1 2614.0 1584.9 2612.6 1589.7 2611.1 1594.4 2609.6 1599.2 2608.1 1604.0 2606.6 1608.7 2605.2 1613.5 2603.7 1618.3 2602.2 1623.1 2600.6 1627.8 2599.1 1632.6 2597.6 1637.3 2596.1 1642.1 2594.6 1646.9 2593.0 1651.6 2591.5 1656.4 2589.9 1661.1 2588.4 1665.9 2586.8 1670.6 2585.2 1675.4 2583.7 1680.1 2582.1 1684.9 2580.5 1689.6 2578.9 1694.3 2577.4 1699.1 2575.8 1703.8 2574.2 1708.6 2572.6 1713.3 2571.0 1718.0 2569.4 1722.8 2567.8 1727.5 2566.2 1732.2 2564.6 1737.0 2562.9 1741.7 2561.3 1746.4 2559.7 1751.2 2558.1 1755.9 2556.5 1760.6 2554.9 1765.4 2553.2 1770.1 2551.6 1774.8 2550.0 1779.5 2548.4 1784.3 2546.7 1789.0 2545.1 1793.7 2543.5 1798.5 2541.9 1803.2 2540.3 1807.9 2538.6 1812.7 2537.0 1817.4 2535.4 1822.1 2533.8 1826.9 2532.2 1831.6 2530.6 1836.3 2528.9 1841.1 2527.3 1845.8 2525.7 1850.5 2524.1 1855.3 2522.5 1860.0 2520.9 1864.7 2519.3 1869.5 2517.8 1874.2 2516.2 1879.0 2514.6 1883.7 2513.0 1888.5 2511.4 1893.2 2509.9 1898.0 2508.3 1902.7 2506.8 1907.5 2505.2 1912.2 2503.7 1917.0 2502.1 1921.7 2500.6 1926.5 2499.0 1931.3 2497.5 1936.0 2496.0 1940.8 2494.5 1945.6 2493.0 1950.3 2491.5 1955.1 2490.0 1959.9 2488.5 1964.7 2487.1 1969.4 2485.6 1974.2 2484.1 1979.0 2482.7 1983.8 2481.2 1988.6 2479.8 1993.4 2478.4 1998.2 2477.0 2003.0 2475.6 2007.8 2474.2 2012.6 2472.8 2017.4 2471.4 2022.2 2470.1 2027.0 2468.7 2031.8 2467.4 2036.6 2466.0 2041.5 2464.7 2046.3 2463.4 2051.1 2462.1 2056.0 2460.8 2060.8 2459.6 2065.6 2458.3 2070.5 2457.0 2075.0 2455.9" stroke="#000000"/>
<path d="M619.5 3130.8 L622.7 3126.9 625.9 3123.1 629.1 3119.3 632.4 3115.5 635.6 3111.7 638.9 3107.9 642.2 3104.2 645.6 3100.5 648.9 3096.8 652.3 3093.1 655.7 3089.4 659.1 3085.7 662.5 3082.1 666.0 3078.5 669.5 3074.9 673.0 3071.3 676.5 3067.8 680.0 3064.2 683.6 3060.7 687.1 3057.2 690.7 3053.7 694.3 3050.2 697.9 3046.8 701.6 3043.4 705.2 3039.9 708.9 3036.5 712.6 3033.2 716.3 3029.8 720.0 3026.5 723.7 3023.1 727.5 3019.8 731.2 3016.5 735.0 3013.3 738.8 3010.0 742.6 3006.8 746.4 3003.5 750.3 3000.3 754.1 2997.1 758.0 2994.0 761.9 2990.8 765.7 2987.7 769.7 2984.5 773.6 2981.4 777.5 2978.3 781.4 2975.3 785.4 2972.2 789.3 2969.1 793.3 2966.1 797.3 2963.1 801.3 2960.1 805.3 2957.1 809.3 2954.1 813.4 2951.2 817.4 2948.2 821.4 2945.3 825.5 2942.4 829.6 2939.5 833.7 2936.6 837.7 2933.7 841.8 2930.8 845.9 2928.0 850.1 2925.1 854.2 2922.3 858.3 2919.5 862.4 2916.7 866.6 2913.9 870.7 2911.1 874.9 2908.3 879.1 2905.6 883.3 2902.8 887.4 2900.1 891.6 2897.3 895.8 2894.6 900.0 2891.9 904.2 2889.2 908.5 2886.5 912.7 2883.9 916.9 2881.2 921.1 2878.5 925.4 2875.9 929.6 2873.2 933.9 2870.6 938.1 2868.0 942.4 2865.4 946.7 2862.8 950.9 2860.2 955.2 2857.6 959.5 2855.0 963.8 2852.4 968.1 2849.8 972.4 2847.3 976.7 2844.7 981.0 2842.2 985.3 2839.6 989.6 2837.1 993.9 2834.5 998.2 2832.0 1002.5 2829.5 1006.8 2827.0 1011.1 2824.5 1015.5 2822.0 1019.8 2819.4 1024.1 2817.0 1028.5 2814.5 1032.8 2812.0 1037.1 2809.5 1041.5 2807.0 1045.8 2804.5 1050.2 2802.1 1054.5 2799.6 1058.9 2797.2 1063.3 2794.7 1067.6 2792.3 1072.0 2789.9 1076.4 2787.4 1080.7 2785.0 1085.1 2782.6 1089.5 2780.2 1093.9 2777.8 1098.3 2775.4 1102.7 2773.0 1107.1 2770.7 1111.5 2768.3 1115.9 2765.9 1120.3 2763.6 1124.7 2761.2 1129.1 2758.9 1133.6 2756.6 1138.0 2754.3 1142.4 2751.9 1146.9 2749.6 1151.3 2747.4 1155.8 2745.1 1160.2 2742.8 1164.7 2740.5 1169.1 2738.3 1173.6 2736.0 1178.1 2733.8 1182.6 2731.6 1187.0 2729.4 1191.5 2727.2 1196.0 2725.0 1200.5 2722.8 1205.0 2720.6 1209.5 2718.4 1214.0 2716.3 1218.6 2714.1 1223.1 2712.0 1227.6 2709.9 1232.1 2707.8 1236.7 2705.7 1241.2 2703.6 1245.8 2701.5 1250.3 2699.5 1254.9 2697.4 1259.5 2695.4 1264.0 2693.4 1268.6 2691.4 1273.2 2689.4 1277.8 2687.4 1282.4 2685.4 1287.0 2683.4 1291.6 2681.5 1296.2 2679.5 1300.8 2677.6 1305.4 2675.7 1310.0 2673.8 1314.7 2671.9 1319.3 2670.0 1323.9 2668.1 1328.6 2666.2 1333.2 2664.4 1337.8 2662.5 1342.5 2660.7 1347.1 2658.8 1351.8 2657.0 1356.5 2655.2 1361.1 2653.4 1365.8 2651.6 1370.4 2649.8 1375.1 2648.0 1379.8 2646.2 1384.5 2644.4 1389.1 2642.7 1393.8 2640.9 1398.5 2639.2 1403.2 2637.4 1407.9 2635.7 1412.6 2634.0 1417.3 2632.2 1422.0 2630.5 1426.7 2628.8 1431.4 2627.1 1436.1 2625.4 1440.8 2623.7 1445.5 2622.0 1450.2 2620.3 1454.9 2618.6 1459.6 2616.9 1464.3 2615.2 1469.0 2613.5 1473.7 2611.9 1478.4 2610.2 1483.1 2608.5 1487.8 2606.9 1492.6 2605.2 1497.3 2603.5 1502.0 2601.9 1506.7 2600.2 1511.4 2598.5 1516.1 2596.9 1520.9 2595.2 1525.6 2593.6 1530.3 2591.9 1535.0 2590.3 1539.7 2588.6 1544.4 2586.9 1549.2 2585.3 1553.9 2583.6 1558.6 2582.0 1563.3 2580.3 1568.0 2578.7 1572.7 2577.0 1577.5 2575.3 1582.2 2573.7 1586.9 2572.0 1591.6 2570.3 1596.3 2568.7 1601.0 2567.0 1605.7 2565.3 1610.4 2563.6 1615.2 2562.0 1619.9 2560.3 1624.6 2558.6 1629.3 2556.9 1634.0 2555.2 1638.7 2553.5 1643.4 2551.8 1648.1 2550.1 1652.8 2548.4 1657.5 2546.6 1662.2 2544.9 1666.9 2543.2 1671.5 2541.5 1676.2 2539.7 1680.9 2538.0 1685.6 2536.2 1690.3 2534.5 1695.0 2532.7 1699.7 2531.0 1704.3 2529.2 1709.0 2527.5 1713.7 2525.7 1718.4 2524.0 1723.1 2522.2 1727.7 2520.5 1732.4 2518.7 1737.1 2516.9 1741.8 2515.2 1746.5 2513.4 1751.1 2511.6 1755.8 2509.8 1760.5 2508.1 1765.2 2506.3 1769.8 2504.5 1774.5 2502.7 1779.2 2501.0 1783.9 2499.2 1788.5 2497.4 1793.2 2495.6 1797.9 2493.9 1802.6 2492.1 1807.2 2490.3 1811.9 2488.5 1816.6 2486.8 1821.3 2485.0 1825.9 2483.2 1830.6 2481.5 1835.3 2479.7 1840.0 2477.9 1844.6 2476.2 1849.3 2474.4 1854.0 2472.6 1858.7 2470.9 1863.4 2469.1 1868.0 2467.4 1872.7 2465.6 1877.4 2463.9 1882.1 2462.1 1886.8 2460.4 1891.5 2458.6 1896.2 2456.9 1900.8 2455.2 1905.5 2453.4 1910.2 2451.7 1914.9 2450.0 1919.6 2448.3 1924.3 2446.6 1929.0 2444.8 1933.7 2443.1 1938.4 2441.4 1943.1 2439.7 1947.8 2438.0 1952.5 2436.4 1957.2 2434.7 1961.9 2433.0 1966.7 2431.3 1971.4 2429.7 1976.1 2428.0 1980.8 2426.4 1985.5 2424.7 1990.3 2423.1 1995.0 2421.4 1999.7 2419.8 2004.4 2418.2 2009.2 2416.6 2013.9 2415.0 2018.6 2413.4 2023.4 2411.8 2028.1 2410.2 2032.9 2408.6 2037.6 2407.0 2042.4 2405.5 2047.1 2403.9 2051.9 2402.4 2056.6 2400.8 2061.4 2399.3 2066.1 2397.8 2070.9 2396.3 2074.4 2395.2" stroke="#FF00FF"/>
<path d="M608.6 3130.8 L611.9 3127.0 615.1 3123.2 618.4 3119.4 621.7 3115.6 625.0 3111.9 628.3 3108.2 631.6 3104.4 635.0 3100.7 638.4 3097.0 641.7 3093.3 645.1 3089.7 648.5 3086.0 652.0 3082.4 655.4 3078.7 658.9 3075.1 662.3 3071.5 665.8 3068.0 669.3 3064.4 672.9 3060.8 676.4 3057.3 679.9 3053.8 683.5 3050.3 687.1 3046.8 690.7 3043.3 694.3 3039.8 697.9 3036.4 701.5 3032.9 705.2 3029.5 708.8 3026.1 712.5 3022.7 716.2 3019.4 719.9 3016.0 723.6 3012.7 727.4 3009.4 731.1 3006.1 734.9 3002.8 738.7 2999.5 742.5 2996.2 746.3 2993.0 750.1 2989.8 754.0 2986.6 757.8 2983.4 761.7 2980.2 765.6 2977.1 769.5 2973.9 773.4 2970.8 777.3 2967.7 781.2 2964.6 785.2 2961.6 789.1 2958.5 793.1 2955.5 797.1 2952.5 801.1 2949.5 805.1 2946.5 809.2 2943.6 813.2 2940.6 817.3 2937.7 821.3 2934.8 825.4 2931.9 829.5 2929.0 833.6 2926.2 837.7 2923.3 841.8 2920.5 845.9 2917.6 850.1 2914.8 854.2 2912.0 858.4 2909.2 862.5 2906.5 866.7 2903.7 870.9 2900.9 875.0 2898.2 879.2 2895.4 883.4 2892.7 887.6 2890.0 891.8 2887.3 896.0 2884.6 900.2 2881.9 904.4 2879.2 908.6 2876.5 912.8 2873.8 917.1 2871.1 921.3 2868.4 925.5 2865.7 929.7 2863.0 933.9 2860.4 938.2 2857.7 942.4 2855.0 946.6 2852.3 950.8 2849.7 955.1 2847.0 959.3 2844.3 963.5 2841.6 967.7 2838.9 971.9 2836.2 976.1 2833.6 980.4 2830.9 984.6 2828.2 988.8 2825.5 993.0 2822.7 997.2 2820.0 1001.4 2817.3 1005.5 2814.6 1009.7 2811.8 1013.9 2809.1 1018.1 2806.3 1022.3 2803.6 1026.4 2800.8 1030.6 2798.0 1034.7 2795.3 1038.9 2792.5 1043.1 2789.7 1047.2 2786.9 1051.4 2784.2 1055.5 2781.4 1059.7 2778.6 1063.8 2775.8 1068.0 2773.0 1072.1 2770.2 1076.3 2767.5 1080.5 2764.7 1084.6 2761.9 1088.8 2759.1 1092.9 2756.4 1097.1 2753.6 1101.3 2750.8 1105.5 2748.1 1109.6 2745.4 1113.8 2742.6 1118.0 2739.9 1122.2 2737.2 1126.4 2734.4 1130.6 2731.7 1134.8 2729.1 1139.0 2726.4 1143.3 2723.7 1147.5 2721.0 1151.7 2718.4 1156.0 2715.8 1160.3 2713.1 1164.5 2710.5 1168.8 2707.9 1173.1 2705.4 1177.4 2702.8 1181.7 2700.3 1186.0 2697.7 1190.3 2695.2 1194.7 2692.8 1199.0 2690.3 1203.4 2687.9 1207.8 2685.4 1212.1 2683.0 1216.5 2680.6 1220.9 2678.3 1225.4 2676.0 1229.8 2673.7 1234.3 2671.4 1238.7 2669.1 1243.2 2666.9 1247.7 2664.7 1252.2 2662.5 1256.7 2660.4 1261.2 2658.3 1265.8 2656.2 1270.3 2654.1 1274.9 2652.1 1279.5 2650.1 1284.1 2648.1 1288.7 2646.2 1293.3 2644.3 1297.9 2642.4 1302.6 2640.5 1307.2 2638.7 1311.9 2636.8 1316.6 2635.0 1321.2 2633.3 1325.9 2631.5 1330.6 2629.8 1335.3 2628.0 1340.0 2626.3 1344.7 2624.7 1349.4 2623.0 1354.1 2621.3 1358.8 2619.7 1363.6 2618.1 1368.3 2616.4 1373.0 2614.8 1377.8 2613.3 1382.5 2611.7 1387.3 2610.1 1392.0 2608.5 1396.8 2607.0 1401.5 2605.4 1406.3 2603.9 1411.1 2602.4 1415.8 2600.8 1420.6 2599.3 1425.3 2597.8 1430.1 2596.3 1434.9 2594.8 1439.6 2593.3 1444.4 2591.8 1449.2 2590.3 1454.0 2588.8 1458.7 2587.3 1463.5 2585.8 1468.3 2584.4 1473.1 2582.9 1477.8 2581.4 1482.6 2579.9 1487.4 2578.4 1492.2 2577.0 1496.9 2575.5 1501.7 2574.0 1506.5 2572.5 1511.3 2571.1 1516.1 2569.6 1520.8 2568.1 1525.6 2566.6 1530.4 2565.1 1535.2 2563.7 1539.9 2562.2 1544.7 2560.7 1549.5 2559.2 1554.2 2557.7 1559.0 2556.2 1563.8 2554.7 1568.5 2553.2 1573.3 2551.7 1578.1 2550.1 1582.8 2548.6 1587.6 2547.1 1592.3 2545.5 1597.1 2544.0 1601.9 2542.4 1606.6 2540.9 1611.4 2539.3 1616.1 2537.7 1620.8 2536.2 1625.6 2534.6 1630.3 2533.0 1635.1 2531.3 1639.8 2529.7 1644.5 2528.1 1649.2 2526.5 1654.0 2524.8 1658.7 2523.1 1663.4 2521.5 1668.1 2519.8 1672.8 2518.1 1677.5 2516.4 1682.2 2514.7 1686.9 2513.0 1691.6 2511.3 1696.3 2509.6 1701.0 2507.9 1705.7 2506.1 1710.4 2504.4 1715.1 2502.6 1719.7 2500.9 1724.4 2499.1 1729.1 2497.4 1733.8 2495.6 1738.5 2493.8 1743.1 2492.1 1747.8 2490.3 1752.5 2488.5 1757.1 2486.7 1761.8 2484.9 1766.5 2483.1 1771.1 2481.3 1775.8 2479.5 1780.5 2477.7 1785.1 2475.9 1789.8 2474.1 1794.5 2472.3 1799.1 2470.5 1803.8 2468.7 1808.5 2466.9 1813.1 2465.1 1817.8 2463.3 1822.4 2461.5 1827.1 2459.7 1831.8 2457.9 1836.4 2456.1 1841.1 2454.3 1845.8 2452.5 1850.4 2450.7 1855.1 2448.9 1859.8 2447.1 1864.4 2445.3 1869.1 2443.5 1873.8 2441.7 1878.4 2439.9 1883.1 2438.1 1887.8 2436.4 1892.5 2434.6 1897.1 2432.8 1901.8 2431.1 1906.5 2429.3 1911.2 2427.6 1915.9 2425.8 1920.5 2424.1 1925.2 2422.3 1929.9 2420.6 1934.6 2418.9 1939.3 2417.2 1944.0 2415.5 1948.7 2413.8 1953.4 2412.1 1958.1 2410.4 1962.8 2408.7 1967.6 2407.0 1972.3 2405.4 1977.0 2403.7 1981.7 2402.1 1986.4 2400.5 1991.2 2398.8 1995.9 2397.2 2000.6 2395.6 2005.4 2394.0 2010.1 2392.5 2014.9 2390.9 2019.6 2389.3 2024.4 2387.8 2029.1 2386.3 2033.9 2384.7 2038.7 2383.2 2043.4 2381.7 2048.2 2380.2 2053.0 2378.8 2057.8 2377.3 2062.6 2375.9 2067.4 2374.5 2072.2 2373.0 2074.8 2372.3" stroke="#008000"/>
<path d="M573.8 3129.5 L577.4 3126.1 581.1 3122.7 584.8 3119.3 588.4 3115.8 592.0 3112.4 595.6 3109.0 599.3 3105.5 602.9 3102.0 606.5 3098.6 610.0 3095.1 613.6 3091.6 617.2 3088.1 620.8 3084.6 624.3 3081.1 627.9 3077.6 631.5 3074.1 635.0 3070.6 638.6 3067.0 642.1 3063.5 645.7 3060.0 649.3 3056.5 652.8 3053.0 656.4 3049.5 660.0 3046.0 663.5 3042.5 667.1 3039.0 670.7 3035.5 674.3 3032.0 677.9 3028.6 681.5 3025.1 685.1 3021.6 688.7 3018.2 692.4 3014.8 696.0 3011.3 699.6 3007.9 703.3 3004.5 707.0 3001.1 710.7 2997.8 714.4 2994.4 718.1 2991.1 721.8 2987.7 725.6 2984.4 729.4 2981.1 733.1 2977.9 736.9 2974.6 740.8 2971.4 744.6 2968.2 748.5 2965.0 752.3 2961.9 756.2 2958.7 760.1 2955.6 764.1 2952.5 768.0 2949.4 772.0 2946.4 775.9 2943.3 779.9 2940.3 783.9 2937.3 787.9 2934.3 791.9 2931.3 796.0 2928.4 800.0 2925.4 804.0 2922.5 808.1 2919.6 812.2 2916.7 816.2 2913.8 820.3 2910.9 824.4 2908.0 828.5 2905.1 832.6 2902.3 836.7 2899.4 840.8 2896.6 845.0 2893.7 849.1 2890.9 853.2 2888.1 857.3 2885.3 861.5 2882.4 865.6 2879.6 869.7 2876.8 873.8 2874.0 878.0 2871.2 882.1 2868.4 886.2 2865.5 890.4 2862.7 894.5 2859.9 898.6 2857.1 902.7 2854.2 906.9 2851.4 911.0 2848.6 915.1 2845.7 919.2 2842.8 923.3 2840.0 927.4 2837.1 931.5 2834.2 935.5 2831.3 939.6 2828.4 943.7 2825.5 947.7 2822.6 951.8 2819.6 955.8 2816.7 959.8 2813.7 963.8 2810.7 967.8 2807.7 971.8 2804.7 975.8 2801.7 979.8 2798.7 983.8 2795.6 987.7 2792.6 991.7 2789.6 995.6 2786.5 999.6 2783.4 1003.5 2780.4 1007.5 2777.3 1011.4 2774.2 1015.4 2771.1 1019.3 2768.0 1023.2 2764.9 1027.1 2761.8 1031.1 2758.7 1035.0 2755.6 1038.9 2752.5 1042.8 2749.4 1046.8 2746.3 1050.7 2743.2 1054.6 2740.1 1058.5 2737.1 1062.5 2734.0 1066.4 2730.9 1070.3 2727.8 1074.3 2724.7 1078.2 2721.6 1082.2 2718.6 1086.1 2715.5 1090.1 2712.5 1094.0 2709.4 1098.0 2706.4 1102.0 2703.3 1106.0 2700.3 1110.0 2697.3 1114.0 2694.3 1118.0 2691.3 1122.0 2688.3 1126.0 2685.4 1130.1 2682.4 1134.1 2679.5 1138.2 2676.6 1142.2 2673.7 1146.3 2670.8 1150.4 2667.9 1154.5 2665.1 1158.6 2662.2 1162.8 2659.4 1166.9 2656.6 1171.1 2653.8 1175.2 2651.1 1179.4 2648.3 1183.6 2645.6 1187.8 2642.9 1192.1 2640.3 1196.3 2637.6 1200.6 2635.0 1204.9 2632.4 1209.1 2629.9 1213.5 2627.3 1217.8 2624.8 1222.1 2622.4 1226.5 2619.9 1230.9 2617.5 1235.3 2615.1 1239.7 2612.8 1244.1 2610.5 1248.6 2608.2 1253.0 2606.0 1257.5 2603.7 1262.0 2601.6 1266.6 2599.5 1271.1 2597.4 1275.7 2595.3 1280.2 2593.3 1284.8 2591.3 1289.4 2589.4 1294.1 2587.5 1298.7 2585.6 1303.3 2583.7 1308.0 2581.9 1312.7 2580.2 1317.4 2578.4 1322.1 2576.7 1326.8 2575.1 1331.5 2573.4 1336.3 2571.8 1341.0 2570.3 1345.8 2568.7 1350.5 2567.2 1355.3 2565.8 1360.1 2564.3 1364.9 2562.9 1369.7 2561.5 1374.5 2560.2 1379.3 2558.9 1384.2 2557.6 1389.0 2556.3 1393.9 2555.1 1398.7 2553.9 1403.6 2552.7 1408.4 2551.6 1413.3 2550.4 1418.2 2549.3 1423.1 2548.2 1427.9 2547.2 1432.8 2546.1 1437.7 2545.1 1442.6 2544.0 1447.5 2543.0 1452.4 2542.0 1457.3 2541.0 1462.2 2540.0 1467.1 2538.9 1472.0 2537.9 1476.9 2536.9 1481.8 2535.8 1486.7 2534.8 1491.5 2533.7 1496.4 2532.6 1501.3 2531.5 1506.2 2530.4 1511.0 2529.2 1515.9 2528.0 1520.7 2526.8 1525.6 2525.5 1530.4 2524.3 1535.2 2522.9 1540.0 2521.6 1544.9 2520.3 1549.7 2518.9 1554.5 2517.5 1559.2 2516.0 1564.0 2514.6 1568.8 2513.1 1573.6 2511.6 1578.4 2510.1 1583.1 2508.6 1587.9 2507.1 1592.6 2505.5 1597.4 2503.9 1602.1 2502.4 1606.9 2500.8 1611.6 2499.2 1616.3 2497.6 1621.1 2496.0 1625.8 2494.4 1630.5 2492.8 1635.3 2491.1 1640.0 2489.5 1644.7 2487.9 1649.5 2486.3 1654.2 2484.6 1658.9 2483.0 1663.6 2481.4 1668.4 2479.8 1673.1 2478.1 1677.8 2476.5 1682.6 2474.9 1687.3 2473.3 1692.0 2471.6 1696.7 2470.0 1701.5 2468.4 1706.2 2466.7 1710.9 2465.1 1715.7 2463.5 1720.4 2461.9 1725.1 2460.2 1729.8 2458.6 1734.6 2457.0 1739.3 2455.3 1744.0 2453.7 1748.7 2452.1 1753.5 2450.4 1758.2 2448.8 1762.9 2447.2 1767.6 2445.5 1772.4 2443.9 1777.1 2442.3 1781.8 2440.6 1786.5 2439.0 1791.3 2437.3 1796.0 2435.7 1800.7 2434.1 1805.4 2432.4 1810.2 2430.8 1814.9 2429.2 1819.6 2427.5 1824.3 2425.9 1829.1 2424.3 1833.8 2422.6 1838.5 2421.0 1843.2 2419.4 1848.0 2417.7 1852.7 2416.1 1857.4 2414.5 1862.1 2412.8 1866.9 2411.2 1871.6 2409.6 1876.3 2408.0 1881.1 2406.3 1885.8 2404.7 1890.5 2403.1 1895.2 2401.4 1900.0 2399.8 1904.7 2398.2 1909.4 2396.6 1914.1 2394.9 1918.9 2393.3 1923.6 2391.7 1928.3 2390.1 1933.1 2388.4 1937.8 2386.8 1942.5 2385.2 1947.3 2383.6 1952.0 2382.0 1956.7 2380.3 1961.4 2378.7 1966.2 2377.1 1970.9 2375.5 1975.6 2373.9 1980.4 2372.3 1985.1 2370.7 1989.8 2369.1 1994.6 2367.5 1999.3 2365.9 2004.1 2364.2 2008.8 2362.6 2013.5 2361.0 2018.3 2359.4 2023.0 2357.8 2027.7 2356.2 2032.5 2354.6 2037.2 2353.1 2042.0 2351.5 2046.7 2349.9 2051.4 2348.3 2056.2 2346.7 2060.9 2345.1 2065.7 2343.5 2070.4 2341.9 2074.7 2340.5" stroke="#000080"/>
<path d="M508.6 3130.6 L511.9 3126.8 515.2 3123.1 518.5 3119.4 521.8 3115.6 525.2 3111.9 528.5 3108.1 531.8 3104.4 535.1 3100.6 538.4 3096.9 541.7 3093.2 545.1 3089.4 548.4 3085.7 551.7 3081.9 555.0 3078.2 558.3 3074.5 561.7 3070.7 565.0 3067.0 568.3 3063.3 571.7 3059.5 575.0 3055.8 578.3 3052.1 581.7 3048.4 585.0 3044.7 588.4 3041.0 591.7 3037.3 595.1 3033.6 598.5 3029.9 601.9 3026.2 605.3 3022.5 608.6 3018.8 612.0 3015.2 615.4 3011.5 618.9 3007.9 622.3 3004.2 625.7 3000.6 629.2 2996.9 632.6 2993.3 636.1 2989.7 639.5 2986.1 643.0 2982.5 646.5 2978.9 650.0 2975.3 653.5 2971.8 657.0 2968.2 660.5 2964.7 664.1 2961.1 667.6 2957.6 671.2 2954.1 674.7 2950.6 678.3 2947.1 681.9 2943.7 685.5 2940.2 689.1 2936.7 692.8 2933.3 696.4 2929.9 700.1 2926.5 703.8 2923.1 707.5 2919.7 711.2 2916.4 714.9 2913.0 718.6 2909.7 722.4 2906.4 726.1 2903.1 729.9 2899.8 733.7 2896.6 737.5 2893.3 741.3 2890.1 745.2 2886.9 749.0 2883.7 752.9 2880.6 756.8 2877.4 760.7 2874.3 764.6 2871.2 768.5 2868.1 772.5 2865.0 776.4 2861.9 780.4 2858.9 784.4 2855.9 788.4 2852.9 792.4 2849.9 796.4 2846.9 800.4 2843.9 804.4 2841.0 808.5 2838.0 812.5 2835.1 816.6 2832.2 820.7 2829.3 824.7 2826.4 828.8 2823.5 832.9 2820.6 837.0 2817.8 841.1 2814.9 845.2 2812.1 849.4 2809.2 853.5 2806.4 857.6 2803.6 861.8 2800.8 865.9 2798.0 870.1 2795.3 874.3 2792.5 878.5 2789.8 882.7 2787.1 886.9 2784.4 891.1 2781.8 895.4 2779.1 899.7 2776.5 904.0 2774.0 908.3 2771.4 912.6 2768.9 916.9 2766.4 921.2 2763.9 925.6 2761.4 929.9 2758.9 934.2 2756.4 938.5 2753.9 942.8 2751.3 947.1 2748.7 951.4 2746.1 955.6 2743.5 959.8 2740.8 964.0 2738.0 968.1 2735.2 972.3 2732.4 976.4 2729.5 980.4 2726.6 984.5 2723.7 988.5 2720.7 992.5 2717.7 996.5 2714.7 1000.4 2711.6 1004.4 2708.5 1008.3 2705.4 1012.2 2702.3 1016.0 2699.1 1019.9 2695.9 1023.7 2692.7 1027.5 2689.5 1031.4 2686.3 1035.1 2683.0 1038.9 2679.7 1042.7 2676.4 1046.4 2673.1 1050.2 2669.8 1053.9 2666.5 1057.6 2663.1 1061.4 2659.8 1065.1 2656.5 1068.8 2653.1 1072.5 2649.7 1076.2 2646.4 1079.9 2643.0 1083.6 2639.6 1087.2 2636.2 1090.9 2632.9 1094.6 2629.5 1098.3 2626.1 1102.0 2622.8 1105.7 2619.4 1109.4 2616.0 1113.1 2612.7 1116.9 2609.4 1120.6 2606.0 1124.3 2602.7 1128.1 2599.4 1131.8 2596.1 1135.6 2592.8 1139.4 2589.5 1143.2 2586.3 1147.0 2583.0 1150.8 2579.8 1154.6 2576.6 1158.5 2573.4 1162.4 2570.3 1166.3 2567.1 1170.2 2564.0 1174.1 2560.9 1178.1 2557.9 1182.1 2554.9 1186.1 2551.9 1190.1 2548.9 1194.1 2546.0 1198.2 2543.1 1202.3 2540.2 1206.4 2537.4 1210.6 2534.6 1214.8 2531.9 1219.0 2529.2 1223.2 2526.5 1227.5 2523.9 1231.8 2521.3 1236.1 2518.8 1240.5 2516.4 1244.8 2514.0 1249.3 2511.6 1253.7 2509.3 1258.2 2507.1 1262.7 2505.0 1267.3 2502.9 1271.8 2500.9 1276.5 2499.0 1281.1 2497.2 1285.8 2495.4 1290.5 2493.8 1295.3 2492.2 1300.0 2490.7 1304.9 2489.4 1309.7 2488.1 1314.6 2487.0 1319.5 2485.9 1324.4 2485.0 1329.3 2484.2 1334.3 2483.5 1339.2 2483.0 1344.2 2482.5 1349.2 2482.1 1354.2 2481.8 1359.2 2481.5 1364.2 2481.3 1369.2 2481.1 1374.2 2481.0 1379.2 2480.8 1384.2 2480.7 1389.2 2480.5 1394.1 2480.3 1399.1 2480.1 1404.1 2479.9 1409.1 2479.6 1414.1 2479.4 1419.1 2479.1 1424.1 2478.8 1429.1 2478.6 1434.1 2478.2 1439.1 2477.9 1444.1 2477.6 1449.1 2477.2 1454.0 2476.9 1459.0 2476.5 1464.0 2476.1 1469.0 2475.6 1474.0 2475.2 1479.0 2474.7 1483.9 2474.2 1488.9 2473.7 1493.9 2473.2 1498.9 2472.7 1503.8 2472.1 1508.8 2471.6 1513.8 2471.0 1518.7 2470.3 1523.7 2469.7 1528.6 2469.0 1533.6 2468.4 1538.5 2467.7 1543.5 2466.9 1548.4 2466.2 1553.4 2465.4 1558.3 2464.6 1563.2 2463.8 1568.2 2462.9 1573.1 2462.1 1578.0 2461.2 1582.9 2460.3 1587.8 2459.3 1592.7 2458.4 1597.6 2457.4 1602.5 2456.4 1607.4 2455.3 1612.3 2454.3 1617.2 2453.2 1622.1 2452.1 1627.0 2451.0 1631.8 2449.9 1636.7 2448.7 1641.5 2447.5 1646.4 2446.3 1651.3 2445.1 1656.1 2443.9 1660.9 2442.7 1665.8 2441.4 1670.6 2440.1 1675.4 2438.8 1680.3 2437.5 1685.1 2436.2 1689.9 2434.9 1694.7 2433.5 1699.5 2432.2 1704.3 2430.8 1709.1 2429.4 1713.9 2428.0 1718.7 2426.6 1723.5 2425.2 1728.3 2423.7 1733.1 2422.3 1737.9 2420.8 1742.7 2419.4 1747.5 2417.9 1752.2 2416.4 1757.0 2415.0 1761.8 2413.5 1766.6 2412.0 1771.3 2410.5 1776.1 2409.0 1780.9 2407.4 1785.6 2405.9 1790.4 2404.4 1795.1 2402.9 1799.9 2401.3 1804.7 2399.8 1809.4 2398.3 1814.2 2396.7 1818.9 2395.2 1823.7 2393.6 1828.4 2392.1 1833.2 2390.6 1838.0 2389.0 1842.7 2387.5 1847.5 2385.9 1852.2 2384.4 1857.0 2382.8 1861.7 2381.3 1866.5 2379.8 1871.3 2378.2 1876.0 2376.7 1880.8 2375.2 1885.5 2373.7 1890.3 2372.2 1895.1 2370.6 1899.8 2369.1 1904.6 2367.6 1909.4 2366.2 1914.2 2364.7 1918.9 2363.2 1923.7 2361.7 1928.5 2360.3 1933.3 2358.8 1938.1 2357.4 1942.9 2355.9 1947.7 2354.5 1952.5 2353.1 1957.3 2351.7 1962.1 2350.3 1966.9 2349.0 1971.7 2347.6 1976.5 2346.2 1981.3 2344.9 1986.1 2343.6 1991.0 2342.3 1995.8 2341.0 2000.6 2339.7 2005.5 2338.4 2010.3 2337.2 2015.2 2336.0 2020.0 2334.8 2024.9 2333.6 2029.7 2332.4 2034.6 2331.2 2039.5 2330.1 2044.3 2329.0 2049.2 2327.9 2054.1 2326.8 2059.0 2325.8 2063.9 2324.7 2068.8 2323.7 2073.7 2322.7 2074.8 2322.5" stroke="#8000FF"/>
<path d="M560.3 3130.4 L563.4 3126.5 566.6 3122.6 569.8 3118.7 573.0 3114.9 576.2 3111.1 579.5 3107.3 582.8 3103.5 586.1 3099.8 589.4 3096.0 592.7 3092.3 596.1 3088.6 599.5 3084.9 602.9 3081.3 606.3 3077.6 609.8 3074.0 613.2 3070.4 616.7 3066.8 620.2 3063.3 623.7 3059.7 627.3 3056.2 630.8 3052.7 634.4 3049.2 638.0 3045.7 641.6 3042.2 645.2 3038.7 648.8 3035.3 652.5 3031.9 656.1 3028.5 659.8 3025.1 663.5 3021.7 667.2 3018.3 670.9 3014.9 674.6 3011.6 678.3 3008.3 682.0 3004.9 685.8 3001.6 689.5 2998.3 693.3 2995.0 697.1 2991.7 700.9 2988.5 704.6 2985.2 708.4 2982.0 712.2 2978.7 716.0 2975.5 719.9 2972.2 723.7 2969.0 727.5 2965.8 731.3 2962.6 735.2 2959.4 739.0 2956.2 742.9 2953.0 746.7 2949.8 750.6 2946.6 754.4 2943.4 758.3 2940.2 762.1 2937.0 766.0 2933.8 769.8 2930.7 773.7 2927.5 777.6 2924.3 781.4 2921.1 785.3 2918.0 789.1 2914.8 793.0 2911.6 796.9 2908.4 800.7 2905.3 804.6 2902.1 808.4 2898.9 812.3 2895.7 816.1 2892.5 820.0 2889.3 823.8 2886.1 827.7 2882.9 831.5 2879.7 835.3 2876.5 839.1 2873.3 843.0 2870.0 846.8 2866.8 850.6 2863.5 854.4 2860.3 858.2 2857.0 861.9 2853.8 865.7 2850.5 869.5 2847.2 873.2 2843.9 877.0 2840.6 880.7 2837.3 884.5 2833.9 888.2 2830.6 891.9 2827.3 895.6 2823.9 899.3 2820.5 903.0 2817.1 906.6 2813.7 910.3 2810.3 913.9 2806.9 917.5 2803.4 921.1 2799.9 924.7 2796.5 928.3 2793.0 931.9 2789.5 935.4 2785.9 938.9 2782.4 942.4 2778.8 945.9 2775.3 949.4 2771.7 952.9 2768.0 956.3 2764.4 959.7 2760.8 963.2 2757.1 966.6 2753.5 970.0 2749.9 973.4 2746.2 976.9 2742.6 980.3 2738.9 983.8 2735.3 987.2 2731.7 990.7 2728.1 994.2 2724.6 997.8 2721.1 1001.3 2717.6 1004.9 2714.1 1008.6 2710.6 1012.2 2707.2 1015.9 2703.8 1019.6 2700.4 1023.3 2697.1 1027.0 2693.7 1030.7 2690.4 1034.4 2687.1 1038.2 2683.8 1041.9 2680.4 1045.6 2677.1 1049.4 2673.8 1053.1 2670.4 1056.8 2667.1 1060.5 2663.7 1064.2 2660.3 1067.9 2656.9 1071.5 2653.5 1075.1 2650.1 1078.8 2646.7 1082.4 2643.2 1086.0 2639.7 1089.5 2636.2 1093.1 2632.7 1096.6 2629.1 1100.1 2625.5 1103.5 2621.9 1106.9 2618.3 1110.3 2614.6 1113.7 2610.9 1117.0 2607.1 1120.3 2603.4 1123.5 2599.6 1126.8 2595.7 1129.9 2591.9 1133.1 2588.0 1136.2 2584.1 1139.3 2580.1 1142.3 2576.2 1145.4 2572.2 1148.4 2568.3 1151.4 2564.3 1154.4 2560.3 1157.4 2556.3 1160.4 2552.3 1163.4 2548.3 1166.4 2544.3 1169.4 2540.3 1172.4 2536.3 1175.5 2532.3 1178.5 2528.3 1181.5 2524.3 1184.6 2520.4 1187.7 2516.5 1190.8 2512.6 1193.9 2508.7 1197.1 2504.8 1200.3 2500.9 1203.6 2497.1 1206.8 2493.4 1210.2 2489.7 1213.6 2486.0 1217.0 2482.4 1220.5 2478.8 1224.1 2475.3 1227.8 2471.9 1231.5 2468.6 1235.4 2465.4 1239.3 2462.3 1243.3 2459.4 1247.5 2456.6 1251.7 2453.9 1256.1 2451.5 1260.5 2449.2 1265.1 2447.2 1269.8 2445.5 1274.6 2444.0 1279.4 2442.7 1284.3 2441.7 1289.2 2440.8 1294.2 2440.2 1299.2 2439.8 1304.2 2439.5 1309.2 2439.4 1314.2 2439.5 1319.2 2439.6 1324.2 2439.9 1329.1 2440.3 1334.1 2440.8 1339.1 2441.3 1344.1 2442.0 1349.0 2442.6 1354.0 2443.3 1358.9 2444.1 1363.8 2444.9 1368.8 2445.6 1373.7 2446.4 1378.7 2447.2 1383.6 2448.0 1388.5 2448.7 1393.5 2449.5 1398.4 2450.1 1403.4 2450.7 1408.4 2451.3 1413.3 2451.8 1418.3 2452.3 1423.3 2452.7 1428.3 2453.1 1433.3 2453.4 1438.3 2453.6 1443.3 2453.8 1448.3 2454.0 1453.3 2454.1 1458.3 2454.2 1463.3 2454.2 1468.3 2454.1 1473.3 2454.1 1478.3 2453.9 1483.3 2453.8 1488.3 2453.5 1493.2 2453.3 1498.2 2453.0 1503.2 2452.7 1508.2 2452.3 1513.2 2451.9 1518.2 2451.4 1523.2 2450.9 1528.1 2450.4 1533.1 2449.8 1538.1 2449.2 1543.0 2448.6 1548.0 2447.9 1552.9 2447.2 1557.9 2446.5 1562.8 2445.7 1567.7 2445.0 1572.7 2444.1 1577.6 2443.3 1582.5 2442.4 1587.5 2441.5 1592.4 2440.6 1597.3 2439.7 1602.2 2438.7 1607.1 2437.8 1612.0 2436.8 1616.9 2435.7 1621.8 2434.7 1626.7 2433.6 1631.5 2432.6 1636.4 2431.5 1641.3 2430.4 1646.2 2429.3 1651.0 2428.1 1655.9 2427.0 1660.8 2425.8 1665.6 2424.6 1670.5 2423.5 1675.4 2422.3 1680.2 2421.1 1685.1 2419.8 1689.9 2418.6 1694.7 2417.3 1699.6 2416.1 1704.4 2414.8 1709.2 2413.5 1714.1 2412.3 1718.9 2411.0 1723.7 2409.6 1728.6 2408.3 1733.4 2407.0 1738.2 2405.7 1743.0 2404.3 1747.8 2403.0 1752.6 2401.6 1757.4 2400.2 1762.3 2398.9 1767.1 2397.5 1771.9 2396.1 1776.7 2394.7 1781.5 2393.3 1786.3 2391.9 1791.0 2390.4 1795.8 2389.0 1800.6 2387.6 1805.4 2386.2 1810.2 2384.7 1815.0 2383.3 1819.8 2381.8 1824.6 2380.4 1829.3 2378.9 1834.1 2377.5 1838.9 2376.0 1843.7 2374.5 1848.5 2373.1 1853.2 2371.6 1858.0 2370.1 1862.8 2368.6 1867.6 2367.1 1872.4 2365.7 1877.1 2364.2 1881.9 2362.7 1886.7 2361.2 1891.5 2359.7 1896.2 2358.2 1901.0 2356.8 1905.8 2355.3 1910.5 2353.8 1915.3 2352.3 1920.1 2350.8 1924.9 2349.3 1929.6 2347.8 1934.4 2346.4 1939.2 2344.9 1944.0 2343.4 1948.8 2341.9 1953.5 2340.5 1958.3 2339.0 1963.1 2337.5 1967.9 2336.1 1972.7 2334.6 1977.4 2333.2 1982.2 2331.7 1987.0 2330.3 1991.8 2328.8 1996.6 2327.4 2001.4 2326.0 2006.2 2324.5 2011.0 2323.1 2015.8 2321.7 2020.6 2320.3 2025.4 2318.9 2030.2 2317.5 2035.0 2316.1 2039.8 2314.8 2044.6 2313.4 2049.4 2312.0 2054.2 2310.7 2059.0 2309.3 2063.9 2308.0 2068.7 2306.7 2073.5 2305.4 2074.8 2305.0" stroke="#800080"/>
<path d="M564.2 3130.3 L567.5 3126.6 570.8 3122.9 574.2 3119.2 577.5 3115.5 580.9 3111.8 584.3 3108.1 587.8 3104.5 591.2 3100.9 594.7 3097.2 598.1 3093.7 601.6 3090.1 605.1 3086.5 608.7 3083.0 612.2 3079.4 615.7 3075.9 619.3 3072.4 622.9 3068.9 626.5 3065.4 630.1 3061.9 633.7 3058.5 637.3 3055.0 640.9 3051.6 644.6 3048.2 648.3 3044.8 651.9 3041.4 655.6 3038.0 659.3 3034.6 663.0 3031.3 666.7 3027.9 670.4 3024.6 674.2 3021.3 677.9 3017.9 681.6 3014.6 685.4 3011.3 689.2 3008.0 692.9 3004.7 696.7 3001.5 700.5 2998.2 704.3 2994.9 708.1 2991.7 711.9 2988.4 715.7 2985.2 719.5 2981.9 723.3 2978.7 727.1 2975.5 730.9 2972.2 734.7 2969.0 738.6 2965.8 742.4 2962.6 746.2 2959.4 750.1 2956.2 753.9 2953.0 757.8 2949.8 761.6 2946.6 765.5 2943.4 769.3 2940.2 773.2 2937.0 777.0 2933.8 780.9 2930.6 784.7 2927.4 788.6 2924.3 792.4 2921.1 796.3 2917.9 800.1 2914.7 803.9 2911.5 807.8 2908.3 811.6 2905.1 815.5 2901.9 819.3 2898.7 823.1 2895.5 827.0 2892.3 830.8 2889.0 834.6 2885.8 838.5 2882.6 842.3 2879.4 846.1 2876.1 849.9 2872.9 853.7 2869.6 857.5 2866.4 861.3 2863.1 865.1 2859.9 868.8 2856.6 872.6 2853.3 876.4 2850.0 880.1 2846.7 883.9 2843.4 887.6 2840.1 891.4 2836.8 895.1 2833.4 898.8 2830.1 902.5 2826.7 906.2 2823.4 909.9 2820.0 913.6 2816.6 917.3 2813.2 920.9 2809.8 924.6 2806.4 928.2 2803.0 931.8 2799.5 935.4 2796.1 939.0 2792.6 942.6 2789.1 946.2 2785.6 949.8 2782.1 953.3 2778.6 956.8 2775.0 960.4 2771.5 963.9 2767.9 967.4 2764.3 970.8 2760.8 974.3 2757.2 977.8 2753.5 981.2 2749.9 984.7 2746.3 988.1 2742.7 991.5 2739.0 994.9 2735.4 998.3 2731.7 1001.7 2728.0 1005.1 2724.4 1008.5 2720.7 1011.9 2717.0 1015.3 2713.3 1018.6 2709.6 1022.0 2705.9 1025.4 2702.2 1028.7 2698.5 1032.1 2694.8 1035.4 2691.1 1038.8 2687.4 1042.2 2683.7 1045.5 2680.0 1048.9 2676.3 1052.2 2672.6 1055.6 2668.9 1058.9 2665.2 1062.3 2661.5 1065.6 2657.8 1069.0 2654.0 1072.3 2650.3 1075.6 2646.6 1079.0 2642.8 1082.3 2639.1 1085.5 2635.3 1088.8 2631.5 1092.1 2627.7 1095.3 2623.9 1098.5 2620.1 1101.7 2616.2 1104.9 2612.4 1108.0 2608.5 1111.2 2604.6 1114.3 2600.7 1117.3 2596.7 1120.4 2592.7 1123.4 2588.7 1126.3 2584.7 1129.3 2580.7 1132.2 2576.6 1135.1 2572.6 1138.1 2568.5 1140.9 2564.4 1143.8 2560.3 1146.7 2556.3 1149.6 2552.2 1152.5 2548.1 1155.3 2544.0 1158.2 2539.9 1161.1 2535.8 1164.0 2531.8 1167.0 2527.7 1169.9 2523.7 1172.9 2519.7 1175.9 2515.7 1178.9 2511.7 1182.0 2507.7 1185.1 2503.8 1188.2 2499.9 1191.4 2496.1 1194.6 2492.2 1197.9 2488.5 1201.2 2484.7 1204.6 2481.0 1208.0 2477.4 1211.5 2473.8 1215.1 2470.3 1218.7 2466.9 1222.4 2463.5 1226.2 2460.2 1230.0 2457.0 1233.9 2453.8 1237.9 2450.8 1241.9 2447.9 1246.0 2445.1 1250.2 2442.4 1254.5 2439.8 1258.9 2437.3 1263.3 2435.0 1267.8 2432.8 1272.3 2430.7 1276.9 2428.8 1281.6 2427.0 1286.4 2425.4 1291.2 2424.0 1296.0 2422.8 1300.9 2421.8 1305.8 2421.0 1310.8 2420.4 1315.8 2420.0 1320.8 2419.9 1325.8 2420.0 1330.8 2420.4 1335.7 2421.1 1340.6 2422.0 1345.5 2423.1 1350.4 2424.3 1355.2 2425.7 1359.9 2427.2 1364.7 2428.8 1369.4 2430.5 1374.1 2432.2 1378.8 2433.9 1383.5 2435.7 1388.1 2437.4 1392.8 2439.1 1397.6 2440.8 1402.3 2442.3 1407.1 2443.8 1411.9 2445.2 1416.7 2446.5 1421.6 2447.8 1426.4 2448.9 1431.3 2450.0 1436.2 2450.9 1441.1 2451.8 1446.1 2452.6 1451.0 2453.4 1456.0 2454.0 1460.9 2454.6 1465.9 2455.1 1470.9 2455.5 1475.9 2455.8 1480.9 2456.1 1485.9 2456.3 1490.9 2456.4 1495.9 2456.5 1500.9 2456.4 1505.9 2456.4 1510.9 2456.2 1515.9 2456.1 1520.9 2455.8 1525.9 2455.5 1530.8 2455.1 1535.8 2454.7 1540.8 2454.3 1545.8 2453.8 1550.8 2453.2 1555.7 2452.6 1560.7 2452.0 1565.6 2451.3 1570.6 2450.6 1575.5 2449.8 1580.5 2449.0 1585.4 2448.2 1590.3 2447.3 1595.2 2446.5 1600.1 2445.5 1605.1 2444.6 1610.0 2443.6 1614.9 2442.6 1619.8 2441.6 1624.7 2440.6 1629.5 2439.5 1634.4 2438.5 1639.3 2437.4 1644.2 2436.3 1649.1 2435.2 1653.9 2434.1 1658.8 2432.9 1663.7 2431.8 1668.5 2430.6 1673.4 2429.4 1678.2 2428.2 1683.1 2427.0 1687.9 2425.8 1692.8 2424.6 1697.6 2423.4 1702.5 2422.1 1707.3 2420.9 1712.2 2419.6 1717.0 2418.3 1721.8 2417.0 1726.7 2415.7 1731.5 2414.4 1736.3 2413.1 1741.1 2411.8 1745.9 2410.4 1750.8 2409.1 1755.6 2407.8 1760.4 2406.4 1765.2 2405.0 1770.0 2403.7 1774.8 2402.3 1779.6 2400.9 1784.4 2399.5 1789.2 2398.1 1794.0 2396.7 1798.8 2395.3 1803.6 2393.9 1808.4 2392.5 1813.2 2391.1 1818.0 2389.6 1822.8 2388.2 1827.6 2386.8 1832.4 2385.3 1837.2 2383.9 1841.9 2382.5 1846.7 2381.0 1851.5 2379.6 1856.3 2378.1 1861.1 2376.7 1865.9 2375.2 1870.7 2373.8 1875.4 2372.3 1880.2 2370.9 1885.0 2369.4 1889.8 2368.0 1894.6 2366.5 1899.4 2365.0 1904.1 2363.6 1908.9 2362.1 1913.7 2360.7 1918.5 2359.2 1923.3 2357.8 1928.1 2356.3 1932.9 2354.9 1937.6 2353.5 1942.4 2352.0 1947.2 2350.6 1952.0 2349.2 1956.8 2347.7 1961.6 2346.3 1966.4 2344.9 1971.2 2343.5 1976.0 2342.1 1980.8 2340.7 1985.6 2339.3 1990.4 2337.9 1995.2 2336.5 2000.0 2335.1 2004.8 2333.7 2009.6 2332.4 2014.4 2331.0 2019.2 2329.7 2024.1 2328.3 2028.9 2327.0 2033.7 2325.7 2038.5 2324.3 2043.4 2323.0 2048.2 2321.7 2053.0 2320.4 2057.8 2319.2 2062.7 2317.9 2067.5 2316.6 2072.4 2315.4 2074.8 2314.7" stroke="#FF8000"/>
<path d="M535.8 3130.8 L538.9 3126.8 542.0 3122.9 545.1 3119.0 548.2 3115.1 551.4 3111.2 554.5 3107.3 557.7 3103.5 560.9 3099.6 564.2 3095.8 567.4 3092.0 570.7 3088.2 574.0 3084.5 577.3 3080.7 580.6 3077.0 583.9 3073.3 587.3 3069.5 590.7 3065.9 594.1 3062.2 597.5 3058.5 600.9 3054.9 604.3 3051.3 607.8 3047.6 611.2 3044.0 614.7 3040.5 618.2 3036.9 621.7 3033.3 625.3 3029.8 628.8 3026.2 632.3 3022.7 635.9 3019.2 639.5 3015.7 643.1 3012.2 646.7 3008.7 650.3 3005.3 653.9 3001.8 657.5 2998.4 661.2 2995.0 664.8 2991.5 668.5 2988.1 672.1 2984.7 675.8 2981.3 679.5 2978.0 683.2 2974.6 686.9 2971.2 690.6 2967.9 694.3 2964.5 698.0 2961.2 701.7 2957.8 705.5 2954.5 709.2 2951.2 713.0 2947.9 716.7 2944.6 720.5 2941.3 724.2 2938.0 728.0 2934.7 731.8 2931.4 735.5 2928.1 739.3 2924.8 743.1 2921.6 746.9 2918.3 750.7 2915.0 754.4 2911.8 758.2 2908.5 762.0 2905.3 765.8 2902.0 769.6 2898.7 773.4 2895.5 777.2 2892.2 781.0 2889.0 784.8 2885.7 788.6 2882.5 792.4 2879.2 796.2 2876.0 800.0 2872.7 803.8 2869.5 807.6 2866.2 811.4 2863.0 815.2 2859.7 819.0 2856.5 822.8 2853.2 826.6 2849.9 830.3 2846.7 834.1 2843.4 837.9 2840.1 841.7 2836.8 845.4 2833.5 849.2 2830.2 853.0 2827.0 856.7 2823.7 860.5 2820.3 864.2 2817.0 867.9 2813.7 871.7 2810.4 875.4 2807.1 879.1 2803.7 882.8 2800.4 886.5 2797.0 890.2 2793.6 893.9 2790.3 897.6 2786.9 901.3 2783.5 905.0 2780.1 908.6 2776.7 912.3 2773.3 915.9 2769.8 919.5 2766.4 923.2 2763.0 926.8 2759.5 930.4 2756.0 933.9 2752.5 937.5 2749.0 941.1 2745.5 944.6 2742.0 948.2 2738.5 951.7 2734.9 955.2 2731.4 958.7 2727.8 962.2 2724.2 965.7 2720.6 969.1 2717.0 972.6 2713.4 976.0 2709.8 979.4 2706.1 982.8 2702.4 986.2 2698.8 989.6 2695.1 992.9 2691.4 996.3 2687.6 999.6 2683.9 1002.9 2680.2 1006.2 2676.4 1009.5 2672.6 1012.7 2668.8 1016.0 2665.0 1019.2 2661.2 1022.4 2657.3 1025.6 2653.5 1028.7 2649.6 1031.9 2645.7 1035.0 2641.8 1038.1 2637.9 1041.2 2633.9 1044.2 2630.0 1047.3 2626.0 1050.3 2622.0 1053.3 2618.0 1056.2 2614.0 1059.2 2610.0 1062.1 2605.9 1065.0 2601.8 1067.9 2597.7 1070.7 2593.6 1073.6 2589.5 1076.4 2585.4 1079.2 2581.2 1081.9 2577.1 1084.7 2572.9 1087.4 2568.7 1090.0 2564.4 1092.7 2560.2 1095.3 2556.0 1098.0 2551.7 1100.6 2547.4 1103.2 2543.2 1105.7 2538.9 1108.3 2534.6 1110.9 2530.3 1113.4 2526.0 1116.0 2521.7 1118.5 2517.4 1121.1 2513.1 1123.6 2508.8 1126.2 2504.5 1128.7 2500.2 1131.3 2495.9 1133.8 2491.6 1136.4 2487.3 1139.0 2483.0 1141.6 2478.8 1144.3 2474.5 1146.9 2470.3 1149.6 2466.1 1152.3 2461.8 1155.0 2457.6 1157.7 2453.5 1160.5 2449.3 1163.3 2445.2 1166.1 2441.0 1169.0 2436.9 1171.9 2432.9 1174.8 2428.8 1177.8 2424.8 1180.8 2420.8 1183.9 2416.9 1187.0 2413.0 1190.2 2409.1 1193.4 2405.2 1196.6 2401.4 1199.9 2397.7 1203.3 2394.0 1206.7 2390.3 1210.1 2386.7 1213.6 2383.1 1217.2 2379.6 1220.8 2376.2 1224.5 2372.8 1228.2 2369.4 1232.0 2366.2 1235.8 2363.0 1239.8 2359.9 1243.7 2356.9 1247.8 2354.0 1252.0 2351.2 1256.2 2348.5 1260.5 2346.0 1264.9 2343.6 1269.4 2341.4 1274.0 2339.5 1278.7 2337.7 1283.5 2336.2 1288.3 2335.0 1293.2 2334.1 1298.2 2333.5 1303.2 2333.2 1308.2 2333.2 1313.2 2333.4 1318.1 2333.9 1323.1 2334.7 1328.0 2335.6 1332.9 2336.7 1337.7 2338.0 1342.5 2339.4 1347.3 2341.0 1352.0 2342.6 1356.7 2344.4 1361.3 2346.2 1365.9 2348.1 1370.5 2350.1 1375.1 2352.2 1379.6 2354.3 1384.1 2356.4 1388.7 2358.5 1393.2 2360.7 1397.7 2362.9 1402.2 2365.1 1406.7 2367.2 1411.2 2369.4 1415.7 2371.5 1420.3 2373.6 1424.8 2375.6 1429.4 2377.6 1434.0 2379.5 1438.7 2381.3 1443.4 2383.0 1448.1 2384.6 1452.9 2386.1 1457.7 2387.4 1462.6 2388.7 1467.4 2389.8 1472.3 2390.8 1477.3 2391.7 1482.2 2392.4 1487.2 2393.1 1492.1 2393.6 1497.1 2394.1 1502.1 2394.4 1507.1 2394.7 1512.1 2394.9 1517.1 2395.0 1522.1 2395.0 1527.1 2395.0 1532.1 2394.8 1537.1 2394.7 1542.1 2394.4 1547.1 2394.1 1552.1 2393.8 1557.0 2393.4 1562.0 2393.0 1567.0 2392.5 1572.0 2392.0 1576.9 2391.5 1581.9 2390.9 1586.9 2390.3 1591.8 2389.7 1596.8 2389.1 1601.8 2388.4 1606.7 2387.7 1611.7 2387.0 1616.6 2386.3 1621.6 2385.5 1626.5 2384.8 1631.4 2384.0 1636.4 2383.2 1641.3 2382.3 1646.2 2381.5 1651.1 2380.6 1656.1 2379.7 1661.0 2378.8 1665.9 2377.8 1670.8 2376.9 1675.7 2375.9 1680.6 2374.9 1685.5 2373.9 1690.4 2372.9 1695.3 2371.8 1700.2 2370.8 1705.0 2369.7 1709.9 2368.6 1714.8 2367.5 1719.7 2366.3 1724.5 2365.2 1729.4 2364.0 1734.3 2362.9 1739.1 2361.7 1744.0 2360.5 1748.8 2359.3 1753.7 2358.0 1758.5 2356.8 1763.4 2355.5 1768.2 2354.3 1773.0 2353.0 1777.9 2351.7 1782.7 2350.4 1787.5 2349.1 1792.3 2347.8 1797.2 2346.5 1802.0 2345.1 1806.8 2343.8 1811.6 2342.4 1816.4 2341.1 1821.2 2339.7 1826.0 2338.3 1830.8 2336.9 1835.6 2335.5 1840.4 2334.1 1845.2 2332.7 1850.0 2331.3 1854.8 2329.9 1859.6 2328.5 1864.4 2327.0 1869.2 2325.6 1874.0 2324.2 1878.8 2322.7 1883.6 2321.3 1888.3 2319.8 1893.1 2318.4 1897.9 2316.9 1902.7 2315.5 1907.5 2314.0 1912.3 2312.6 1917.0 2311.1 1921.8 2309.6 1926.6 2308.2 1931.4 2306.7 1936.2 2305.2 1940.9 2303.8 1945.7 2302.3 1950.5 2300.9 1955.3 2299.4 1960.1 2297.9 1964.9 2296.5 1969.6 2295.0 1974.4 2293.6 1979.2 2292.1 1984.0 2290.7 1988.8 2289.3 1993.6 2287.8 1998.4 2286.4 2003.2 2285.0 2008.0 2283.5 2012.8 2282.1 2017.6 2280.7 2022.3 2279.3 2027.2 2277.9 2032.0 2276.5 2036.8 2275.1 2041.6 2273.8 2046.4 2272.4 2051.2 2271.0 2056.0 2269.7 2060.8 2268.3 2065.6 2267.0 2070.5 2265.7 2074.9 2264.5" stroke="#808000"/>
<path d="M515.8 3129.4 L519.3 3125.9 522.8 3122.3 526.3 3118.7 529.7 3115.1 533.1 3111.4 536.5 3107.7 539.8 3104.0 543.2 3100.3 546.5 3096.5 549.7 3092.7 553.0 3089.0 556.3 3085.2 559.5 3081.3 562.7 3077.5 565.9 3073.7 569.1 3069.9 572.3 3066.0 575.5 3062.2 578.7 3058.3 581.9 3054.5 585.1 3050.6 588.3 3046.8 591.5 3042.9 594.7 3039.1 597.9 3035.2 601.1 3031.4 604.3 3027.6 607.5 3023.7 610.8 3019.9 614.0 3016.2 617.3 3012.4 620.6 3008.6 623.9 3004.9 627.3 3001.1 630.6 2997.4 634.0 2993.8 637.4 2990.1 640.9 2986.5 644.3 2982.9 647.8 2979.3 651.3 2975.7 654.9 2972.2 658.4 2968.7 662.0 2965.2 665.6 2961.8 669.3 2958.3 672.9 2954.9 676.6 2951.5 680.2 2948.1 683.9 2944.7 687.6 2941.4 691.4 2938.1 695.1 2934.7 698.9 2931.4 702.6 2928.1 706.4 2924.8 710.2 2921.6 713.9 2918.3 717.7 2915.0 721.5 2911.8 725.3 2908.5 729.1 2905.3 732.9 2902.0 736.7 2898.8 740.6 2895.6 744.4 2892.3 748.2 2889.1 752.0 2885.8 755.8 2882.6 759.6 2879.4 763.4 2876.1 767.2 2872.9 771.0 2869.6 774.8 2866.4 778.6 2863.1 782.4 2859.8 786.2 2856.6 789.9 2853.3 793.7 2850.0 797.5 2846.8 801.3 2843.5 805.0 2840.2 808.8 2836.9 812.6 2833.6 816.3 2830.3 820.0 2827.0 823.8 2823.6 827.5 2820.3 831.2 2817.0 835.0 2813.6 838.7 2810.3 842.4 2806.9 846.1 2803.5 849.7 2800.2 853.4 2796.8 857.1 2793.4 860.7 2790.0 864.4 2786.5 868.0 2783.1 871.6 2779.7 875.3 2776.2 878.9 2772.7 882.5 2769.3 886.0 2765.8 889.6 2762.3 893.2 2758.8 896.7 2755.2 900.2 2751.7 903.7 2748.1 907.2 2744.6 910.7 2741.0 914.2 2737.4 917.6 2733.8 921.1 2730.1 924.5 2726.5 927.9 2722.8 931.3 2719.1 934.7 2715.4 938.0 2711.7 941.4 2708.0 944.7 2704.3 948.0 2700.5 951.2 2696.7 954.5 2692.9 957.7 2689.1 960.9 2685.3 964.1 2681.4 967.3 2677.6 970.4 2673.7 973.5 2669.8 976.6 2665.8 979.7 2661.9 982.7 2657.9 985.8 2653.9 988.7 2649.9 991.7 2645.9 994.6 2641.8 997.5 2637.8 1000.4 2633.7 1003.2 2629.5 1006.1 2625.4 1008.8 2621.3 1011.6 2617.1 1014.3 2612.9 1017.0 2608.7 1019.7 2604.4 1022.3 2600.2 1024.9 2595.9 1027.5 2591.6 1030.0 2587.3 1032.5 2583.0 1035.0 2578.7 1037.5 2574.3 1039.9 2570.0 1042.4 2565.6 1044.8 2561.2 1047.1 2556.8 1049.5 2552.4 1051.8 2548.0 1054.1 2543.5 1056.4 2539.1 1058.7 2534.6 1060.9 2530.2 1063.1 2525.7 1065.4 2521.2 1067.5 2516.7 1069.7 2512.2 1071.9 2507.7 1074.0 2503.2 1076.2 2498.7 1078.3 2494.1 1080.4 2489.6 1082.5 2485.1 1084.6 2480.5 1086.7 2476.0 1088.7 2471.4 1090.8 2466.9 1092.8 2462.3 1094.9 2457.7 1096.9 2453.2 1098.9 2448.6 1100.9 2444.0 1103.0 2439.4 1105.0 2434.9 1107.0 2430.3 1109.0 2425.7 1111.0 2421.1 1113.0 2416.5 1115.0 2412.0 1117.0 2407.4 1119.0 2402.8 1121.0 2398.2 1123.0 2393.6 1125.0 2389.1 1127.0 2384.5 1129.1 2379.9 1131.1 2375.3 1133.1 2370.8 1135.1 2366.2 1137.2 2361.6 1139.2 2357.1 1141.3 2352.5 1143.3 2348.0 1145.4 2343.4 1147.5 2338.9 1149.6 2334.3 1151.7 2329.8 1153.8 2325.2 1155.9 2320.7 1158.1 2316.2 1160.2 2311.7 1162.4 2307.2 1164.6 2302.7 1166.8 2298.2 1169.0 2293.7 1171.2 2289.2 1173.5 2284.8 1175.7 2280.3 1178.0 2275.9 1180.3 2271.4 1182.7 2267.0 1185.0 2262.6 1187.5 2258.2 1189.9 2253.9 1192.4 2249.6 1195.0 2245.3 1197.6 2241.0 1200.3 2236.8 1203.1 2232.6 1205.9 2228.5 1208.9 2224.5 1211.9 2220.5 1215.0 2216.6 1218.2 2212.8 1221.6 2209.1 1225.0 2205.4 1228.6 2201.9 1232.3 2198.6 1236.1 2195.3 1240.1 2192.3 1244.1 2189.4 1248.3 2186.7 1252.6 2184.1 1257.1 2181.8 1261.6 2179.7 1266.3 2177.8 1271.0 2176.2 1275.8 2174.8 1280.6 2173.7 1285.6 2172.9 1290.6 2172.4 1295.5 2172.3 1300.5 2172.6 1305.5 2173.3 1310.4 2174.4 1315.2 2175.7 1319.9 2177.4 1324.5 2179.3 1329.0 2181.4 1333.5 2183.8 1337.8 2186.3 1342.0 2189.0 1346.1 2191.9 1350.0 2194.9 1353.9 2198.1 1357.7 2201.3 1361.4 2204.7 1365.0 2208.1 1368.6 2211.7 1372.1 2215.2 1375.5 2218.9 1378.9 2222.6 1382.2 2226.3 1385.6 2230.0 1388.9 2233.8 1392.2 2237.5 1395.5 2241.3 1398.8 2245.0 1402.1 2248.7 1405.5 2252.4 1408.9 2256.1 1412.4 2259.7 1415.9 2263.2 1419.5 2266.7 1423.2 2270.0 1427.0 2273.3 1430.9 2276.5 1434.9 2279.5 1438.9 2282.4 1443.1 2285.2 1447.3 2287.9 1451.6 2290.5 1455.9 2292.9 1460.3 2295.3 1464.8 2297.5 1469.3 2299.6 1473.9 2301.6 1478.5 2303.6 1483.2 2305.4 1487.9 2307.1 1492.6 2308.7 1497.4 2310.2 1502.2 2311.7 1507.0 2313.0 1511.8 2314.3 1516.7 2315.5 1521.6 2316.6 1526.4 2317.6 1531.4 2318.6 1536.3 2319.5 1541.2 2320.3 1546.2 2321.0 1551.1 2321.7 1556.1 2322.3 1561.0 2322.9 1566.0 2323.3 1571.0 2323.8 1576.0 2324.1 1581.0 2324.4 1586.0 2324.7 1591.0 2324.8 1596.0 2324.9 1601.0 2325.0 1606.0 2325.0 1611.0 2325.0 1616.0 2324.9 1621.0 2324.7 1626.0 2324.5 1630.9 2324.3 1635.9 2324.0 1640.9 2323.6 1645.9 2323.2 1650.9 2322.8 1655.9 2322.3 1660.8 2321.8 1665.8 2321.2 1670.8 2320.7 1675.7 2320.0 1680.7 2319.3 1685.6 2318.6 1690.6 2317.9 1695.5 2317.1 1700.5 2316.3 1705.4 2315.5 1710.3 2314.6 1715.2 2313.7 1720.2 2312.8 1725.1 2311.9 1730.0 2310.9 1734.9 2309.9 1739.8 2308.9 1744.7 2307.9 1749.5 2306.8 1754.4 2305.8 1759.3 2304.7 1764.2 2303.6 1769.1 2302.4 1773.9 2301.3 1778.8 2300.1 1783.7 2299.0 1788.5 2297.8 1793.4 2296.6 1798.2 2295.4 1803.1 2294.2 1807.9 2293.0 1812.8 2291.8 1817.6 2290.6 1822.5 2289.3 1827.3 2288.1 1832.2 2286.9 1837.0 2285.6 1841.9 2284.4 1846.7 2283.1 1851.5 2281.9 1856.4 2280.6 1861.2 2279.4 1866.0 2278.1 1870.9 2276.8 1875.7 2275.6 1880.6 2274.3 1885.4 2273.0 1890.2 2271.7 1895.1 2270.4 1899.9 2269.1 1904.7 2267.9 1909.5 2266.6 1914.4 2265.3 1919.2 2264.0 1924.0 2262.7 1928.9 2261.4 1933.7 2260.1 1938.5 2258.8 1943.3 2257.4 1948.2 2256.1 1953.0 2254.8 1957.8 2253.5 1962.6 2252.2 1967.5 2250.9 1972.3 2249.6 1977.1 2248.2 1981.9 2246.9 1986.7 2245.6 1991.6 2244.3 1996.4 2242.9 2001.2 2241.6 2006.0 2240.3 2010.9 2239.0 2015.7 2237.6 2020.5 2236.3 2025.3 2235.0 2030.1 2233.7 2035.0 2232.3 2039.8 2231.0 2044.6 2229.7 2049.4 2228.4 2054.2 2227.0 2059.1 2225.7 2063.9 2224.4 2068.7 2223.1 2073.5 2221.8 2075.1 2221.3" stroke="#2B63A3"/>
<path d="M481.0 3129.4 L483.7 3125.1 486.4 3120.9 489.1 3116.7 491.8 3112.5 494.6 3108.4 497.4 3104.2 500.3 3100.1 503.1 3096.0 506.0 3091.9 509.0 3087.9 511.9 3083.9 514.9 3079.8 517.9 3075.8 520.9 3071.9 524.0 3067.9 527.1 3064.0 530.2 3060.1 533.3 3056.2 536.5 3052.3 539.7 3048.5 542.9 3044.6 546.1 3040.8 549.4 3037.0 552.7 3033.2 556.0 3029.5 559.3 3025.7 562.6 3022.0 566.0 3018.3 569.3 3014.6 572.7 3010.9 576.1 3007.3 579.6 3003.6 583.0 3000.0 586.5 2996.4 589.9 2992.8 593.4 2989.2 596.9 2985.7 600.4 2982.1 604.0 2978.6 607.5 2975.0 611.1 2971.5 614.6 2968.0 618.2 2964.5 621.8 2961.1 625.4 2957.6 629.0 2954.1 632.7 2950.7 636.3 2947.2 639.9 2943.8 643.6 2940.4 647.2 2937.0 650.9 2933.6 654.5 2930.2 658.2 2926.8 661.9 2923.4 665.6 2920.0 669.3 2916.6 673.0 2913.3 676.7 2909.9 680.4 2906.5 684.1 2903.2 687.8 2899.8 691.5 2896.5 695.2 2893.1 698.9 2889.8 702.6 2886.4 706.3 2883.1 710.0 2879.7 713.8 2876.4 717.5 2873.0 721.2 2869.7 724.9 2866.3 728.6 2863.0 732.3 2859.6 736.0 2856.2 739.7 2852.9 743.4 2849.5 747.1 2846.1 750.8 2842.8 754.5 2839.4 758.1 2836.0 761.8 2832.6 765.5 2829.2 769.1 2825.8 772.8 2822.4 776.4 2819.0 780.1 2815.5 783.7 2812.1 787.3 2808.7 791.0 2805.2 794.6 2801.8 798.2 2798.3 801.8 2794.8 805.4 2791.4 809.0 2787.9 812.5 2784.4 816.1 2780.9 819.7 2777.4 823.2 2773.9 826.8 2770.3 830.3 2766.8 833.8 2763.2 837.4 2759.7 840.9 2756.1 844.4 2752.6 847.8 2749.0 851.3 2745.4 854.8 2741.8 858.2 2738.2 861.7 2734.5 865.1 2730.9 868.5 2727.2 871.9 2723.6 875.3 2719.9 878.7 2716.2 882.1 2712.5 885.4 2708.8 888.8 2705.1 892.1 2701.4 895.4 2697.6 898.7 2693.9 902.0 2690.1 905.3 2686.3 908.6 2682.5 911.8 2678.7 915.0 2674.9 918.2 2671.1 921.4 2667.2 924.6 2663.4 927.8 2659.5 930.9 2655.6 934.0 2651.7 937.1 2647.8 940.2 2643.9 943.3 2639.9 946.3 2635.9 949.4 2632.0 952.4 2628.0 955.4 2624.0 958.3 2619.9 961.3 2615.9 964.2 2611.9 967.1 2607.8 970.0 2603.7 972.9 2599.6 975.7 2595.5 978.5 2591.4 981.3 2587.2 984.1 2583.1 986.9 2578.9 989.6 2574.7 992.3 2570.5 995.0 2566.3 997.6 2562.0 1000.2 2557.8 1002.8 2553.5 1005.4 2549.2 1007.9 2544.9 1010.5 2540.6 1013.0 2536.2 1015.4 2531.9 1017.9 2527.5 1020.3 2523.2 1022.7 2518.8 1025.1 2514.4 1027.4 2510.0 1029.8 2505.5 1032.1 2501.1 1034.4 2496.7 1036.6 2492.2 1038.9 2487.8 1041.1 2483.3 1043.3 2478.8 1045.5 2474.3 1047.7 2469.8 1049.9 2465.3 1052.0 2460.8 1054.2 2456.3 1056.3 2451.7 1058.4 2447.2 1060.5 2442.7 1062.6 2438.1 1064.6 2433.6 1066.7 2429.0 1068.7 2424.4 1070.8 2419.9 1072.8 2415.3 1074.8 2410.7 1076.8 2406.1 1078.8 2401.6 1080.8 2397.0 1082.8 2392.4 1084.8 2387.8 1086.7 2383.2 1088.7 2378.6 1090.6 2374.0 1092.6 2369.4 1094.6 2364.8 1096.5 2360.2 1098.5 2355.6 1100.4 2351.0 1102.3 2346.4 1104.3 2341.8 1106.2 2337.2 1108.2 2332.5 1110.1 2327.9 1112.1 2323.3 1114.0 2318.7 1116.0 2314.1 1117.9 2309.5 1119.9 2304.9 1121.8 2300.3 1123.8 2295.7 1125.8 2291.1 1127.7 2286.5 1129.7 2281.9 1131.7 2277.4 1133.7 2272.8 1135.7 2268.2 1137.7 2263.6 1139.8 2259.1 1141.8 2254.5 1143.9 2249.9 1145.9 2245.4 1148.0 2240.8 1150.1 2236.3 1152.2 2231.7 1154.3 2227.2 1156.4 2222.7 1158.5 2218.2 1160.7 2213.7 1162.9 2209.2 1165.1 2204.7 1167.3 2200.2 1169.6 2195.7 1171.9 2191.3 1174.2 2186.9 1176.5 2182.4 1178.9 2178.1 1181.4 2173.7 1183.8 2169.3 1186.3 2165.0 1188.9 2160.7 1191.5 2156.4 1194.1 2152.2 1196.8 2148.0 1199.5 2143.8 1202.3 2139.6 1205.2 2135.5 1208.1 2131.4 1211.0 2127.4 1214.0 2123.4 1217.1 2119.5 1220.2 2115.6 1223.4 2111.7 1226.6 2107.9 1229.9 2104.1 1233.3 2100.4 1236.7 2096.8 1240.2 2093.2 1243.8 2089.7 1247.4 2086.3 1251.1 2082.9 1254.8 2079.6 1258.7 2076.4 1262.7 2073.3 1266.8 2070.6 1271.1 2068.1 1275.7 2066.0 1280.4 2064.5 1285.4 2063.6 1290.4 2063.4 1295.3 2063.8 1300.2 2064.8 1305.1 2066.1 1309.8 2067.7 1314.4 2069.6 1318.9 2071.8 1323.3 2074.1 1327.7 2076.6 1331.8 2079.4 1335.9 2082.3 1339.9 2085.3 1343.7 2088.5 1347.4 2091.8 1351.1 2095.3 1354.6 2098.8 1358.1 2102.4 1361.4 2106.1 1364.7 2109.9 1368.0 2113.7 1371.2 2117.6 1374.3 2121.4 1377.4 2125.4 1380.5 2129.3 1383.5 2133.3 1386.6 2137.2 1389.6 2141.2 1392.6 2145.2 1395.7 2149.1 1398.8 2153.1 1401.9 2157.0 1405.0 2160.9 1408.2 2164.8 1411.4 2168.6 1414.7 2172.3 1418.1 2176.0 1421.5 2179.7 1425.1 2183.2 1428.7 2186.7 1432.4 2190.0 1436.2 2193.3 1440.1 2196.4 1444.0 2199.4 1448.1 2202.4 1452.2 2205.2 1456.4 2208.0 1460.6 2210.6 1464.9 2213.1 1469.3 2215.6 1473.7 2217.9 1478.2 2220.2 1482.7 2222.3 1487.3 2224.4 1491.9 2226.3 1496.5 2228.2 1501.2 2230.0 1505.9 2231.7 1510.6 2233.3 1515.4 2234.8 1520.1 2236.3 1525.0 2237.6 1529.8 2238.9 1534.6 2240.1 1539.5 2241.2 1544.4 2242.3 1549.3 2243.3 1554.2 2244.2 1559.1 2245.0 1564.1 2245.8 1569.0 2246.4 1574.0 2247.1 1579.0 2247.6 1584.0 2248.1 1588.9 2248.5 1593.9 2248.9 1598.9 2249.2 1603.9 2249.4 1608.9 2249.6 1613.9 2249.7 1618.9 2249.8 1623.9 2249.8 1628.9 2249.8 1633.9 2249.7 1638.9 2249.6 1643.9 2249.4 1648.9 2249.2 1653.9 2248.9 1658.9 2248.6 1663.9 2248.2 1668.8 2247.8 1673.8 2247.4 1678.8 2247.0 1683.8 2246.5 1688.8 2245.9 1693.7 2245.4 1698.7 2244.8 1703.6 2244.1 1708.6 2243.5 1713.6 2242.8 1718.5 2242.1 1723.5 2241.4 1728.4 2240.6 1733.3 2239.8 1738.3 2239.0 1743.2 2238.2 1748.1 2237.4 1753.1 2236.5 1758.0 2235.6 1762.9 2234.7 1767.8 2233.8 1772.7 2232.9 1777.6 2232.0 1782.5 2231.0 1787.4 2230.0 1792.4 2229.0 1797.2 2228.0 1802.1 2227.0 1807.0 2226.0 1811.9 2224.9 1816.8 2223.9 1821.7 2222.8 1826.6 2221.7 1831.5 2220.6 1836.3 2219.5 1841.2 2218.4 1846.1 2217.3 1850.9 2216.1 1855.8 2215.0 1860.7 2213.8 1865.5 2212.6 1870.4 2211.4 1875.2 2210.2 1880.1 2209.0 1884.9 2207.8 1889.8 2206.5 1894.6 2205.3 1899.5 2204.0 1904.3 2202.8 1909.1 2201.5 1914.0 2200.2 1918.8 2198.9 1923.6 2197.6 1928.4 2196.3 1933.3 2195.0 1938.1 2193.7 1942.9 2192.4 1947.7 2191.0 1952.6 2189.7 1957.4 2188.3 1962.2 2187.0 1967.0 2185.6 1971.8 2184.3 1976.6 2182.9 1981.4 2181.5 1986.2 2180.2 1991.0 2178.8 1995.8 2177.4 2000.6 2176.0 2005.5 2174.6 2010.3 2173.2 2015.1 2171.8 2019.9 2170.4 2024.7 2169.0 2029.5 2167.6 2034.3 2166.2 2039.1 2164.8 2043.9 2163.4 2048.7 2162.0 2053.4 2160.6 2058.2 2159.2 2063.0 2157.8 2067.8 2156.4 2072.6 2155.0 2075.1 2154.3" stroke="#1F9696"/>
</g>
<rect x="400.5" y="1766.3" width="453.0" height="956.2" fill="#fff" stroke="#000" stroke-width="3.0"/>
<line x1="438.0" y1="1826.5" x2="582.0" y2="1826.5" stroke="#000000" stroke-width="8.0" stroke-linecap="round"/>
<text transform="matrix(0.9200 0 0 1 599.84 1848.50)" font-size="67.00" fill="#000"><tspan>pH 5</tspan></text>
<line x1="438.0" y1="1919.3" x2="582.0" y2="1919.3" stroke="#FF00FF" stroke-width="8.0" stroke-linecap="round"/>
<text transform="matrix(0.9200 0 0 1 600.02 1941.30)" font-size="67.00" fill="#000"><tspan>10</tspan><tspan font-size="39.53" dy="-35.11">-7</tspan></text>
<line x1="438.0" y1="2012.1" x2="582.0" y2="2012.1" stroke="#008000" stroke-width="8.0" stroke-linecap="round"/>
<text transform="matrix(0.9200 0 0 1 600.02 2034.10)" font-size="67.00" fill="#000"><tspan>10</tspan><tspan font-size="39.53" dy="-35.11">-6</tspan></text>
<line x1="438.0" y1="2104.9" x2="582.0" y2="2104.9" stroke="#000080" stroke-width="8.0" stroke-linecap="round"/>
<text transform="matrix(0.9200 0 0 1 600.02 2126.90)" font-size="67.00" fill="#000"><tspan>10</tspan><tspan font-size="39.53" dy="-35.11">-5</tspan></text>
<line x1="438.0" y1="2197.7" x2="582.0" y2="2197.7" stroke="#8000FF" stroke-width="8.0" stroke-linecap="round"/>
<text transform="matrix(0.9200 0 0 1 601.76 2219.70)" font-size="67.00" fill="#000"><tspan>2.5x10</tspan><tspan font-size="39.53" dy="-35.11">-5</tspan></text>
<line x1="438.0" y1="2290.5" x2="582.0" y2="2290.5" stroke="#800080" stroke-width="8.0" stroke-linecap="round"/>
<text transform="matrix(0.9200 0 0 1 602.00 2312.50)" font-size="67.00" fill="#000"><tspan>5x10</tspan><tspan font-size="39.53" dy="-35.11">-5</tspan></text>
<line x1="438.0" y1="2383.3" x2="582.0" y2="2383.3" stroke="#FF8000" stroke-width="8.0" stroke-linecap="round"/>
<text transform="matrix(0.9200 0 0 1 600.02 2405.30)" font-size="67.00" fill="#000"><tspan>10</tspan><tspan font-size="39.53" dy="-35.11">-4</tspan></text>
<line x1="438.0" y1="2476.1" x2="582.0" y2="2476.1" stroke="#808000" stroke-width="8.0" stroke-linecap="round"/>
<text transform="matrix(0.9200 0 0 1 601.76 2498.10)" font-size="67.00" fill="#000"><tspan>2.5x10</tspan><tspan font-size="39.53" dy="-35.11">-4</tspan></text>
<line x1="438.0" y1="2568.9" x2="582.0" y2="2568.9" stroke="#2B63A3" stroke-width="8.0" stroke-linecap="round"/>
<text transform="matrix(0.9200 0 0 1 602.00 2590.90)" font-size="67.00" fill="#000"><tspan>5x10</tspan><tspan font-size="39.53" dy="-35.11">-4</tspan></text>
<line x1="438.0" y1="2661.7" x2="582.0" y2="2661.7" stroke="#1F9696" stroke-width="8.0" stroke-linecap="round"/>
<text transform="matrix(0.9200 0 0 1 600.02 2683.70)" font-size="67.00" fill="#000"><tspan>10</tspan><tspan font-size="39.53" dy="-35.11">-3</tspan></text>
<text transform="matrix(0.9400 0 0 1 112.36 1787.80)" font-size="72.50" fill="#000"><tspan>9.0x10</tspan><tspan font-size="42.77" dy="-37.99">-6</tspan></text>
<text transform="matrix(0.9400 0 0 1 112.36 2138.37)" font-size="72.50" fill="#000"><tspan>8.0x10</tspan><tspan font-size="42.77" dy="-37.99">-6</tspan></text>
<text transform="matrix(0.9400 0 0 1 112.36 2488.94)" font-size="72.50" fill="#000"><tspan>7.0x10</tspan><tspan font-size="42.77" dy="-37.99">-6</tspan></text>
<text transform="matrix(0.9400 0 0 1 112.36 2839.51)" font-size="72.50" fill="#000"><tspan>6.0x10</tspan><tspan font-size="42.77" dy="-37.99">-6</tspan></text>
<text transform="matrix(0.9400 0 0 1 629.98 3207.50)" font-size="72.50" fill="#000"><tspan>0.45</tspan></text>
<text transform="matrix(0.9400 0 0 1 973.63 3207.50)" font-size="72.50" fill="#000"><tspan>0.50</tspan></text>
<text transform="matrix(0.9400 0 0 1 1316.38 3207.50)" font-size="72.50" fill="#000"><tspan>0.55</tspan></text>
<text transform="matrix(0.9400 0 0 1 1660.03 3207.50)" font-size="72.50" fill="#000"><tspan>0.60</tspan></text>
<text transform="matrix(0.9400 0 0 1 2002.78 3207.50)" font-size="72.50" fill="#000"><tspan>0.65</tspan></text>
<text transform="matrix(0.9384 0 0 1 946.91 3337.10)" font-size="71.51" fill="#000"><tspan>E (V) vs Ag/AgCl</tspan></text>
<text transform="matrix(0.9181 0 0 1 1141.40 1830.70)" font-size="73.26" fill="#FF0000"><tspan>NGr/GC</tspan></text>
<text transform="matrix(0.9745 0 0 1 1957.54 1860.10)" font-size="69.42" fill="#000"><tspan>b.</tspan></text>
<text transform="matrix(0.8971 0 0 1 1152.90 2024.10)" font-size="69.04" fill="#000"><tspan>+0.54 V</tspan></text>
<text transform="translate(84.10 2424.35) rotate(-90) scale(0.9538 1)" font-size="72.82">I (A)</text>
<line x1="397.3" y1="3390.2" x2="2063.5" y2="3390.2" stroke="#000" stroke-width="2.2" stroke-linecap="butt"/>
<line x1="2063.5" y1="3389.1" x2="2063.5" y2="4615.0" stroke="#000" stroke-width="2.8" stroke-linecap="butt"/>
<line x1="397.3" y1="3388.7" x2="397.3" y2="4617.5" stroke="#000" stroke-width="4.6" stroke-linecap="butt"/>
<line x1="395.0" y1="4615.0" x2="2064.9" y2="4615.0" stroke="#000" stroke-width="5.0" stroke-linecap="butt"/>
<line x1="383.3" y1="3390.4" x2="397.3" y2="3390.4" stroke="#000" stroke-width="4.5" stroke-linecap="butt"/>
<line x1="371.3" y1="3539.7" x2="397.3" y2="3539.7" stroke="#000" stroke-width="4.5" stroke-linecap="butt"/>
<line x1="383.3" y1="3689.0" x2="397.3" y2="3689.0" stroke="#000" stroke-width="4.5" stroke-linecap="butt"/>
<line x1="371.3" y1="3838.4" x2="397.3" y2="3838.4" stroke="#000" stroke-width="4.5" stroke-linecap="butt"/>
<line x1="383.3" y1="3987.7" x2="397.3" y2="3987.7" stroke="#000" stroke-width="4.5" stroke-linecap="butt"/>
<line x1="371.3" y1="4137.0" x2="397.3" y2="4137.0" stroke="#000" stroke-width="4.5" stroke-linecap="butt"/>
<line x1="383.3" y1="4286.4" x2="397.3" y2="4286.4" stroke="#000" stroke-width="4.5" stroke-linecap="butt"/>
<line x1="371.3" y1="4435.7" x2="397.3" y2="4435.7" stroke="#000" stroke-width="4.5" stroke-linecap="butt"/>
<line x1="383.3" y1="4585.0" x2="397.3" y2="4585.0" stroke="#000" stroke-width="4.5" stroke-linecap="butt"/>
<line x1="397.1" y1="4615.0" x2="397.1" y2="4629.0" stroke="#000" stroke-width="4.5" stroke-linecap="butt"/>
<line x1="536.0" y1="4615.0" x2="536.0" y2="4642.0" stroke="#000" stroke-width="4.5" stroke-linecap="butt"/>
<line x1="674.9" y1="4615.0" x2="674.9" y2="4629.0" stroke="#000" stroke-width="4.5" stroke-linecap="butt"/>
<line x1="813.8" y1="4615.0" x2="813.8" y2="4642.0" stroke="#000" stroke-width="4.5" stroke-linecap="butt"/>
<line x1="952.6" y1="4615.0" x2="952.6" y2="4629.0" stroke="#000" stroke-width="4.5" stroke-linecap="butt"/>
<line x1="1091.5" y1="4615.0" x2="1091.5" y2="4642.0" stroke="#000" stroke-width="4.5" stroke-linecap="butt"/>
<line x1="1230.4" y1="4615.0" x2="1230.4" y2="4629.0" stroke="#000" stroke-width="4.5" stroke-linecap="butt"/>
<line x1="1369.3" y1="4615.0" x2="1369.3" y2="4642.0" stroke="#000" stroke-width="4.5" stroke-linecap="butt"/>
<line x1="1508.2" y1="4615.0" x2="1508.2" y2="4629.0" stroke="#000" stroke-width="4.5" stroke-linecap="butt"/>
<line x1="1647.0" y1="4615.0" x2="1647.0" y2="4642.0" stroke="#000" stroke-width="4.5" stroke-linecap="butt"/>
<line x1="1785.9" y1="4615.0" x2="1785.9" y2="4629.0" stroke="#000" stroke-width="4.5" stroke-linecap="butt"/>
<line x1="1924.8" y1="4615.0" x2="1924.8" y2="4642.0" stroke="#000" stroke-width="4.5" stroke-linecap="butt"/>
<line x1="2063.7" y1="4615.0" x2="2063.7" y2="4629.0" stroke="#000" stroke-width="4.5" stroke-linecap="butt"/>
<clipPath id="cc"><rect x="399.5" y="3391.5" width="1663.0" height="1221.0"/></clipPath>
<g clip-path="url(#cc)" fill="none" stroke-width="8.0" stroke-linejoin="round" stroke-linecap="round">
<path d="M544.5 4563.3 L546.0 4558.6 547.7 4553.8 549.4 4549.2 551.2 4544.5 553.2 4539.9 555.3 4535.4 557.5 4530.9 559.8 4526.4 562.2 4522.1 564.7 4517.8 567.4 4513.5 570.2 4509.4 573.0 4505.3 576.0 4501.3 579.1 4497.3 582.3 4493.5 585.6 4489.7 588.9 4486.0 592.4 4482.4 596.0 4478.9 599.6 4475.5 603.3 4472.1 607.1 4468.9 611.0 4465.7 614.9 4462.6 619.0 4459.6 623.0 4456.7 627.2 4453.9 631.3 4451.2 635.6 4448.5 639.9 4446.0 644.2 4443.5 648.6 4441.1 653.0 4438.7 657.5 4436.4 661.9 4434.2 666.5 4432.1 671.0 4430.0 675.6 4428.0 680.2 4426.1 684.8 4424.2 689.5 4422.3 694.1 4420.5 698.8 4418.7 703.5 4417.0 708.2 4415.4 712.9 4413.7 717.7 4412.1 722.4 4410.6 727.2 4409.1 732.0 4407.6 736.7 4406.1 741.5 4404.7 746.3 4403.3 751.1 4401.9 756.0 4400.5 760.8 4399.2 765.6 4397.9 770.4 4396.6 775.3 4395.4 780.1 4394.2 785.0 4393.0 789.9 4391.8 794.7 4390.7 799.6 4389.6 804.5 4388.5 809.4 4387.4 814.3 4386.4 819.1 4385.3 824.0 4384.3 828.9 4383.4 833.9 4382.4 838.8 4381.5 843.7 4380.6 848.6 4379.7 853.5 4378.8 858.5 4377.9 863.4 4377.1 868.3 4376.3 873.3 4375.5 878.2 4374.7 883.1 4373.9 888.1 4373.2 893.0 4372.5 898.0 4371.8 902.9 4371.1 907.9 4370.4 912.8 4369.7 917.8 4369.0 922.7 4368.4 927.7 4367.8 932.7 4367.1 937.6 4366.5 942.6 4365.9 947.6 4365.3 952.5 4364.8 957.5 4364.2 962.5 4363.7 967.4 4363.1 972.4 4362.6 977.4 4362.0 982.3 4361.5 987.3 4361.0 992.3 4360.5 997.3 4360.0 1002.2 4359.5 1007.2 4359.0 1012.2 4358.5 1017.2 4358.1 1022.2 4357.6 1027.1 4357.1 1032.1 4356.6 1037.1 4356.2 1042.1 4355.7 1047.0 4355.2 1052.0 4354.8 1057.0 4354.3 1062.0 4353.9 1067.0 4353.4 1071.9 4353.0 1076.9 4352.5 1081.9 4352.0 1086.9 4351.6 1091.9 4351.1 1096.8 4350.6 1101.8 4350.2 1106.8 4349.7 1111.8 4349.2 1116.7 4348.7 1121.7 4348.2 1126.7 4347.7 1131.7 4347.2 1136.6 4346.7 1141.6 4346.2 1146.6 4345.7 1151.6 4345.2 1156.5 4344.6 1161.5 4344.1 1166.5 4343.5 1171.4 4343.0 1176.4 4342.4 1181.4 4341.8 1186.3 4341.2 1191.3 4340.6 1196.3 4340.0 1201.2 4339.4 1206.2 4338.8 1211.1 4338.1 1216.1 4337.5 1221.1 4336.8 1226.0 4336.2 1231.0 4335.5 1235.9 4334.8 1240.9 4334.2 1245.8 4333.5 1250.8 4332.8 1255.7 4332.0 1260.7 4331.3 1265.6 4330.6 1270.6 4329.9 1275.5 4329.1 1280.5 4328.4 1285.4 4327.6 1290.3 4326.8 1295.3 4326.0 1300.2 4325.2 1305.1 4324.5 1310.1 4323.6 1315.0 4322.8 1319.9 4322.0 1324.9 4321.2 1329.8 4320.3 1334.7 4319.5 1339.7 4318.6 1344.6 4317.8 1349.5 4316.9 1354.4 4316.0 1359.4 4315.2 1364.3 4314.3 1369.2 4313.4 1374.1 4312.5 1379.0 4311.5 1383.9 4310.6 1388.9 4309.7 1393.8 4308.7 1398.7 4307.8 1403.6 4306.9 1408.5 4305.9 1413.4 4304.9 1418.3 4304.0 1423.2 4303.0 1428.1 4302.0 1433.0 4301.0 1437.9 4300.0 1442.8 4299.0 1447.7 4298.0 1452.6 4297.0 1457.5 4296.0 1462.4 4295.0 1467.3 4294.0 1472.2 4293.0 1477.1 4292.0 1482.0 4290.9 1486.9 4289.9 1491.8 4288.9 1496.7 4287.8 1501.5 4286.8 1506.4 4285.7 1511.3 4284.7 1516.2 4283.7 1521.1 4282.6 1526.0 4281.6 1530.9 4280.5 1535.8 4279.5 1540.7 4278.4 1545.5 4277.4 1550.4 4276.3 1555.3 4275.3 1560.2 4274.2 1565.1 4273.2 1570.0 4272.1 1574.9 4271.1 1579.8 4270.0 1584.7 4268.9 1589.5 4267.9 1594.4 4266.8 1599.3 4265.8 1604.2 4264.7 1609.1 4263.6 1614.0 4262.5 1618.8 4261.4 1623.7 4260.3 1628.6 4259.2 1633.4 4258.0 1638.3 4256.9 1643.2 4255.7 1648.0 4254.5 1652.9 4253.3 1657.7 4252.0 1662.6 4250.8 1667.4 4249.5 1672.2 4248.2 1677.0 4246.8 1681.8 4245.4 1686.6 4244.0 1691.4 4242.6 1696.2 4241.1 1701.0 4239.6 1705.7 4238.1 1710.5 4236.5 1715.2 4234.9 1719.9 4233.2 1724.6 4231.5 1729.3 4229.8 1734.0 4228.0 1738.6 4226.1 1743.2 4224.2 1747.9 4222.3 1752.4 4220.3 1757.0 4218.3 1761.6 4216.2 1766.1 4214.1 1770.6 4211.9 1775.0 4209.6 1779.5 4207.3 1783.9 4204.9 1788.2 4202.5 1792.6 4200.0 1796.9 4197.5 1801.2 4194.9 1805.4 4192.3 1809.6 4189.6 1813.8 4186.8 1817.9 4184.0 1822.0 4181.1 1826.1 4178.2 1830.1 4175.2 1834.0 4172.1 1838.0 4169.0 1841.8 4165.9 1845.7 4162.7 1849.5 4159.4 1853.2 4156.1 1856.9 4152.7 1860.5 4149.3 1864.1 4145.8 1867.6 4142.3 1871.1 4138.7 1874.5 4135.0 1877.9 4131.3 1881.2 4127.6 1884.5 4123.8 1887.6 4119.9 1890.8 4116.0 1893.8 4112.1 1896.8 4108.1 1899.8 4104.0 1902.6 4099.9 1905.4 4095.8 1908.1 4091.6 1910.8 4087.3 1913.4 4083.1 1915.9 4078.7 1918.3 4074.4 1920.7 4070.0 1923.0 4065.5 1924.5 4062.4" stroke="#000000"/>
<path d="M543.9 4533.7 L545.4 4529.0 547.0 4524.2 548.7 4519.5 550.6 4514.9 552.7 4510.4 554.9 4505.9 557.3 4501.5 559.8 4497.1 562.4 4492.9 565.2 4488.8 568.2 4484.7 571.2 4480.8 574.4 4476.9 577.7 4473.2 581.1 4469.5 584.7 4466.0 588.3 4462.6 592.1 4459.2 595.9 4456.0 599.8 4452.9 603.8 4449.9 607.9 4447.1 612.1 4444.3 616.3 4441.6 620.6 4439.1 625.0 4436.6 629.4 4434.3 633.8 4432.0 638.3 4429.8 642.9 4427.7 647.4 4425.7 652.1 4423.8 656.7 4421.9 661.4 4420.1 666.1 4418.4 670.8 4416.8 675.5 4415.2 680.3 4413.6 685.0 4412.1 689.8 4410.7 694.6 4409.3 699.4 4407.9 704.3 4406.6 709.1 4405.3 713.9 4404.0 718.8 4402.8 723.6 4401.6 728.5 4400.4 733.3 4399.2 738.2 4398.0 743.1 4396.8 747.9 4395.7 752.8 4394.6 757.7 4393.5 762.6 4392.4 767.4 4391.3 772.3 4390.2 777.2 4389.2 782.1 4388.1 787.0 4387.1 791.9 4386.1 796.8 4385.1 801.7 4384.1 806.6 4383.2 811.5 4382.2 816.4 4381.3 821.3 4380.3 826.2 4379.4 831.2 4378.5 836.1 4377.6 841.0 4376.7 845.9 4375.9 850.9 4375.0 855.8 4374.2 860.7 4373.3 865.6 4372.5 870.6 4371.7 875.5 4370.9 880.4 4370.1 885.4 4369.3 890.3 4368.5 895.3 4367.8 900.2 4367.0 905.2 4366.3 910.1 4365.5 915.0 4364.8 920.0 4364.1 924.9 4363.4 929.9 4362.7 934.8 4362.0 939.8 4361.3 944.8 4360.6 949.7 4360.0 954.7 4359.3 959.6 4358.7 964.6 4358.0 969.5 4357.4 974.5 4356.7 979.5 4356.1 984.4 4355.5 989.4 4354.9 994.3 4354.3 999.3 4353.7 1004.3 4353.1 1009.2 4352.5 1014.2 4351.9 1019.2 4351.3 1024.1 4350.7 1029.1 4350.1 1034.1 4349.6 1039.0 4349.0 1044.0 4348.4 1049.0 4347.9 1053.9 4347.3 1058.9 4346.8 1063.9 4346.2 1068.9 4345.7 1073.8 4345.1 1078.8 4344.6 1083.8 4344.0 1088.7 4343.5 1093.7 4343.0 1098.7 4342.4 1103.6 4341.9 1108.6 4341.3 1113.6 4340.8 1118.6 4340.3 1123.5 4339.7 1128.5 4339.2 1133.5 4338.7 1138.4 4338.1 1143.4 4337.6 1148.4 4337.1 1153.4 4336.5 1158.3 4336.0 1163.3 4335.4 1168.3 4334.9 1173.2 4334.3 1178.2 4333.8 1183.2 4333.2 1188.1 4332.7 1193.1 4332.1 1198.1 4331.6 1203.1 4331.0 1208.0 4330.4 1213.0 4329.9 1218.0 4329.3 1222.9 4328.7 1227.9 4328.1 1232.9 4327.6 1237.8 4327.0 1242.8 4326.4 1247.7 4325.8 1252.7 4325.2 1257.7 4324.5 1262.6 4323.9 1267.6 4323.3 1272.6 4322.7 1277.5 4322.0 1282.5 4321.4 1287.4 4320.7 1292.4 4320.1 1297.3 4319.4 1302.3 4318.7 1307.2 4318.0 1312.2 4317.4 1317.1 4316.7 1322.1 4315.9 1327.0 4315.2 1332.0 4314.5 1336.9 4313.8 1341.9 4313.0 1346.8 4312.3 1351.8 4311.5 1356.7 4310.7 1361.6 4309.9 1366.6 4309.1 1371.5 4308.3 1376.4 4307.5 1381.4 4306.7 1386.3 4305.9 1391.2 4305.0 1396.2 4304.1 1401.1 4303.3 1406.0 4302.4 1410.9 4301.5 1415.8 4300.6 1420.8 4299.6 1425.7 4298.7 1430.6 4297.7 1435.5 4296.8 1440.4 4295.8 1445.3 4294.8 1450.2 4293.8 1455.1 4292.8 1460.0 4291.7 1464.9 4290.7 1469.7 4289.6 1474.6 4288.5 1479.5 4287.4 1484.4 4286.3 1489.2 4285.2 1494.1 4284.1 1499.0 4282.9 1503.8 4281.7 1508.7 4280.5 1513.5 4279.3 1518.4 4278.1 1523.2 4276.8 1528.1 4275.6 1532.9 4274.3 1537.7 4273.0 1542.6 4271.7 1547.4 4270.3 1552.2 4269.0 1557.0 4267.6 1561.8 4266.2 1566.6 4264.8 1571.4 4263.4 1576.2 4261.9 1581.0 4260.5 1585.7 4259.0 1590.5 4257.5 1595.3 4256.0 1600.0 4254.4 1604.8 4252.8 1609.5 4251.3 1614.2 4249.6 1619.0 4248.0 1623.7 4246.3 1628.4 4244.7 1633.1 4242.9 1637.8 4241.2 1642.4 4239.5 1647.1 4237.7 1651.8 4235.9 1656.4 4234.0 1661.1 4232.2 1665.7 4230.3 1670.3 4228.3 1674.9 4226.4 1679.5 4224.4 1684.1 4222.4 1688.7 4220.4 1693.2 4218.3 1697.8 4216.2 1702.3 4214.1 1706.8 4211.9 1711.3 4209.7 1715.8 4207.5 1720.2 4205.3 1724.7 4203.0 1729.1 4200.7 1733.5 4198.3 1737.9 4195.9 1742.3 4193.5 1746.6 4191.0 1751.0 4188.5 1755.3 4186.0 1759.6 4183.4 1763.8 4180.8 1768.1 4178.2 1772.3 4175.5 1776.5 4172.8 1780.6 4170.0 1784.8 4167.2 1788.9 4164.4 1793.0 4161.5 1797.1 4158.6 1801.1 4155.6 1805.1 4152.6 1809.1 4149.6 1813.0 4146.5 1816.9 4143.4 1820.8 4140.3 1824.7 4137.1 1828.5 4133.8 1832.2 4130.6 1836.0 4127.2 1839.7 4123.9 1843.4 4120.5 1847.0 4117.1 1850.6 4113.6 1854.1 4110.1 1857.6 4106.5 1861.1 4102.9 1864.5 4099.2 1867.9 4095.6 1871.3 4091.8 1874.6 4088.1 1877.8 4084.3 1881.0 4080.4 1884.2 4076.6 1887.3 4072.7 1890.4 4068.7 1893.4 4064.7 1896.3 4060.7 1899.3 4056.6 1902.1 4052.5 1904.9 4048.4 1907.7 4044.3 1910.4 4040.1 1913.1 4035.8 1915.7 4031.6 1918.3 4027.3 1920.8 4023.0 1923.3 4018.6 1924.4 4016.6" stroke="#FF0000"/>
<path d="M544.2 4589.2 L545.1 4584.2 546.2 4579.4 547.3 4574.5 548.6 4569.6 549.9 4564.8 551.4 4560.1 553.0 4555.3 554.8 4550.6 556.6 4546.0 558.6 4541.4 560.7 4536.9 562.9 4532.4 565.2 4527.9 567.6 4523.5 570.1 4519.2 572.7 4515.0 575.5 4510.8 578.3 4506.7 581.2 4502.6 584.3 4498.6 587.4 4494.7 590.6 4490.9 593.9 4487.1 597.3 4483.5 600.7 4479.9 604.3 4476.3 607.9 4472.9 611.6 4469.5 615.3 4466.2 619.1 4463.0 623.0 4459.8 627.0 4456.7 631.0 4453.7 635.0 4450.8 639.1 4447.9 643.3 4445.2 647.5 4442.5 651.7 4439.8 656.0 4437.3 660.4 4434.8 664.8 4432.4 669.2 4430.0 673.6 4427.7 678.1 4425.5 682.6 4423.4 687.1 4421.3 691.7 4419.2 696.3 4417.3 700.9 4415.3 705.6 4413.5 710.2 4411.7 714.9 4409.9 719.6 4408.2 724.3 4406.5 729.0 4404.9 733.8 4403.3 738.5 4401.8 743.3 4400.3 748.1 4398.8 752.9 4397.4 757.7 4396.0 762.5 4394.7 767.3 4393.4 772.2 4392.1 777.0 4390.8 781.9 4389.6 786.7 4388.4 791.6 4387.2 796.4 4386.1 801.3 4384.9 806.2 4383.8 811.0 4382.7 815.9 4381.6 820.8 4380.5 825.7 4379.5 830.6 4378.4 835.5 4377.4 840.4 4376.3 845.3 4375.3 850.2 4374.3 855.0 4373.2 859.9 4372.2 864.8 4371.2 869.7 4370.2 874.6 4369.2 879.5 4368.1 884.4 4367.1 889.3 4366.1 894.2 4365.0 899.1 4364.0 904.0 4363.0 908.9 4362.0 913.8 4360.9 918.7 4359.9 923.6 4358.9 928.5 4357.9 933.4 4356.9 938.3 4355.9 943.2 4354.9 948.1 4353.9 953.0 4353.0 957.9 4352.0 962.8 4351.0 967.7 4350.1 972.6 4349.2 977.5 4348.2 982.4 4347.3 987.4 4346.4 992.3 4345.5 997.2 4344.7 1002.1 4343.8 1007.1 4343.0 1012.0 4342.2 1016.9 4341.3 1021.9 4340.6 1026.8 4339.8 1031.7 4339.0 1036.7 4338.3 1041.6 4337.6 1046.6 4336.9 1051.5 4336.3 1056.5 4335.6 1061.5 4335.0 1066.4 4334.4 1071.4 4333.8 1076.4 4333.2 1081.3 4332.7 1086.3 4332.2 1091.3 4331.6 1096.2 4331.1 1101.2 4330.6 1106.2 4330.1 1111.2 4329.6 1116.2 4329.1 1121.1 4328.7 1126.1 4328.2 1131.1 4327.7 1136.1 4327.2 1141.0 4326.7 1146.0 4326.2 1151.0 4325.7 1156.0 4325.2 1160.9 4324.7 1165.9 4324.2 1170.9 4323.6 1175.8 4323.0 1180.8 4322.5 1185.8 4321.9 1190.7 4321.3 1195.7 4320.7 1200.7 4320.1 1205.6 4319.5 1210.6 4318.9 1215.5 4318.2 1220.5 4317.6 1225.5 4316.9 1230.4 4316.2 1235.4 4315.5 1240.3 4314.9 1245.3 4314.2 1250.2 4313.5 1255.2 4312.7 1260.1 4312.0 1265.1 4311.3 1270.0 4310.6 1275.0 4309.8 1279.9 4309.0 1284.8 4308.3 1289.8 4307.5 1294.7 4306.7 1299.7 4306.0 1304.6 4305.2 1309.5 4304.4 1314.5 4303.6 1319.4 4302.8 1324.3 4301.9 1329.3 4301.1 1334.2 4300.3 1339.1 4299.5 1344.1 4298.6 1349.0 4297.8 1353.9 4296.9 1358.8 4296.1 1363.8 4295.2 1368.7 4294.4 1373.6 4293.5 1378.5 4292.6 1383.5 4291.8 1388.4 4290.9 1393.3 4290.0 1398.2 4289.1 1403.2 4288.3 1408.1 4287.4 1413.0 4286.5 1417.9 4285.6 1422.8 4284.7 1427.8 4283.8 1432.7 4282.9 1437.6 4282.0 1442.5 4281.1 1447.4 4280.2 1452.3 4279.3 1457.3 4278.4 1462.2 4277.5 1467.1 4276.6 1472.0 4275.7 1476.9 4274.8 1481.8 4273.9 1486.8 4273.0 1491.7 4272.1 1496.6 4271.1 1501.5 4270.2 1506.4 4269.3 1511.4 4268.4 1516.3 4267.5 1521.2 4266.6 1526.1 4265.7 1531.0 4264.8 1535.9 4263.9 1540.9 4263.0 1545.8 4262.1 1550.7 4261.1 1555.6 4260.2 1560.5 4259.2 1565.4 4258.3 1570.3 4257.3 1575.2 4256.3 1580.1 4255.4 1585.0 4254.3 1589.9 4253.3 1594.8 4252.3 1599.7 4251.2 1604.6 4250.2 1609.5 4249.1 1614.3 4248.0 1619.2 4246.9 1624.1 4245.7 1628.9 4244.5 1633.8 4243.3 1638.6 4242.1 1643.5 4240.9 1648.3 4239.6 1653.1 4238.3 1658.0 4237.0 1662.8 4235.7 1667.6 4234.3 1672.4 4232.9 1677.2 4231.4 1681.9 4229.9 1686.7 4228.4 1691.5 4226.9 1696.2 4225.3 1700.9 4223.7 1705.7 4222.0 1710.4 4220.3 1715.1 4218.6 1719.7 4216.8 1724.4 4215.0 1729.0 4213.2 1733.7 4211.2 1738.3 4209.3 1742.8 4207.3 1747.4 4205.3 1752.0 4203.2 1756.5 4201.1 1761.0 4198.9 1765.4 4196.6 1769.9 4194.4 1774.3 4192.0 1778.7 4189.7 1783.1 4187.2 1787.4 4184.7 1791.7 4182.2 1796.0 4179.6 1800.3 4177.0 1804.5 4174.3 1808.7 4171.5 1812.8 4168.8 1816.9 4165.9 1821.0 4163.0 1825.0 4160.0 1829.0 4157.0 1833.0 4154.0 1836.9 4150.9 1840.8 4147.7 1844.6 4144.5 1848.4 4141.2 1852.1 4137.9 1855.8 4134.5 1859.4 4131.1 1863.0 4127.6 1866.5 4124.0 1870.0 4120.4 1873.4 4116.8 1876.8 4113.1 1880.1 4109.3 1883.3 4105.5 1886.5 4101.7 1889.6 4097.8 1892.7 4093.8 1895.7 4089.8 1898.6 4085.8 1901.5 4081.7 1904.3 4077.5 1907.0 4073.4 1909.7 4069.1 1912.3 4064.9 1914.8 4060.5 1917.3 4056.2 1919.6 4051.8 1921.9 4047.3 1924.2 4042.9 1924.5 4042.2" stroke="#FF8000"/>
<path d="M544.5 4572.4 L545.4 4567.5 546.5 4562.7 547.8 4557.8 549.1 4553.0 550.6 4548.2 552.2 4543.5 554.0 4538.8 555.9 4534.2 557.9 4529.6 560.1 4525.1 562.4 4520.7 564.8 4516.3 567.3 4512.0 570.0 4507.8 572.8 4503.6 575.7 4499.5 578.7 4495.5 581.8 4491.6 585.0 4487.8 588.3 4484.0 591.7 4480.3 595.1 4476.7 598.7 4473.2 602.3 4469.8 606.1 4466.5 609.9 4463.2 613.7 4460.0 617.7 4457.0 621.7 4454.0 625.7 4451.0 629.8 4448.2 634.0 4445.4 638.2 4442.7 642.5 4440.1 646.8 4437.6 651.1 4435.1 655.5 4432.7 660.0 4430.4 664.4 4428.2 668.9 4426.0 673.5 4423.9 678.0 4421.8 682.6 4419.9 687.2 4418.0 691.9 4416.1 696.6 4414.3 701.2 4412.6 706.0 4410.9 710.7 4409.3 715.4 4407.8 720.2 4406.3 725.0 4404.8 729.8 4403.4 734.6 4402.1 739.4 4400.7 744.3 4399.5 749.1 4398.2 754.0 4397.0 758.8 4395.8 763.7 4394.7 768.6 4393.6 773.4 4392.5 778.3 4391.4 783.2 4390.4 788.1 4389.4 793.0 4388.4 797.9 4387.4 802.8 4386.4 807.7 4385.4 812.6 4384.5 817.5 4383.5 822.4 4382.6 827.4 4381.6 832.3 4380.7 837.2 4379.7 842.1 4378.7 847.0 4377.8 851.9 4376.8 856.8 4375.8 861.7 4374.8 866.6 4373.8 871.5 4372.7 876.3 4371.6 881.2 4370.5 886.1 4369.4 891.0 4368.3 895.8 4367.2 900.7 4366.0 905.6 4364.8 910.4 4363.7 915.3 4362.5 920.1 4361.3 925.0 4360.0 929.8 4358.8 934.7 4357.6 939.5 4356.3 944.4 4355.1 949.2 4353.8 954.0 4352.6 958.9 4351.3 963.7 4350.1 968.6 4348.8 973.4 4347.6 978.2 4346.3 983.1 4345.1 987.9 4343.8 992.8 4342.6 997.6 4341.3 1002.5 4340.1 1007.3 4338.9 1012.2 4337.6 1017.0 4336.4 1021.9 4335.3 1026.7 4334.1 1031.6 4332.9 1036.5 4331.8 1041.3 4330.7 1046.2 4329.6 1051.1 4328.6 1056.0 4327.7 1060.9 4326.7 1065.9 4325.9 1070.8 4325.1 1075.7 4324.4 1080.7 4323.7 1085.7 4323.0 1090.6 4322.4 1095.6 4321.9 1100.6 4321.4 1105.6 4321.0 1110.5 4320.6 1115.5 4320.2 1120.5 4319.9 1125.5 4319.6 1130.5 4319.3 1135.5 4319.1 1140.5 4319.0 1145.5 4318.8 1150.5 4318.7 1155.5 4318.6 1160.5 4318.6 1165.5 4318.5 1170.5 4318.5 1175.5 4318.6 1180.5 4318.6 1185.5 4318.6 1190.5 4318.7 1195.5 4318.8 1200.5 4318.8 1205.5 4318.9 1210.5 4319.0 1215.5 4319.0 1220.5 4319.1 1225.5 4319.1 1230.5 4319.1 1235.5 4319.1 1240.5 4319.1 1245.5 4319.0 1250.5 4318.9 1255.5 4318.8 1260.5 4318.6 1265.5 4318.4 1270.5 4318.1 1275.5 4317.8 1280.4 4317.5 1285.4 4317.1 1290.4 4316.6 1295.4 4316.1 1300.3 4315.4 1305.3 4314.8 1310.2 4314.0 1315.2 4313.2 1320.1 4312.4 1325.0 4311.5 1329.9 4310.5 1334.8 4309.5 1339.7 4308.5 1344.6 4307.4 1349.5 4306.3 1354.3 4305.2 1359.2 4304.0 1364.1 4302.8 1368.9 4301.6 1373.8 4300.4 1378.6 4299.1 1383.4 4297.9 1388.3 4296.6 1393.1 4295.4 1398.0 4294.1 1402.8 4292.9 1407.7 4291.7 1412.5 4290.5 1417.4 4289.3 1422.2 4288.1 1427.1 4286.9 1432.0 4285.8 1436.8 4284.7 1441.7 4283.7 1446.6 4282.6 1451.5 4281.6 1456.4 4280.7 1461.3 4279.7 1466.3 4278.8 1471.2 4277.9 1476.1 4277.1 1481.0 4276.2 1486.0 4275.4 1490.9 4274.6 1495.8 4273.8 1500.8 4273.0 1505.7 4272.3 1510.7 4271.5 1515.6 4270.7 1520.5 4270.0 1525.5 4269.2 1530.4 4268.5 1535.4 4267.7 1540.3 4266.9 1545.2 4266.2 1550.2 4265.4 1555.1 4264.6 1560.1 4263.8 1565.0 4263.0 1569.9 4262.1 1574.8 4261.3 1579.8 4260.4 1584.7 4259.5 1589.6 4258.6 1594.5 4257.7 1599.4 4256.7 1604.3 4255.7 1609.2 4254.7 1614.1 4253.7 1619.0 4252.7 1623.9 4251.6 1628.8 4250.5 1633.6 4249.3 1638.5 4248.2 1643.4 4247.0 1648.2 4245.8 1653.1 4244.6 1657.9 4243.3 1662.7 4242.0 1667.5 4240.7 1672.4 4239.3 1677.2 4237.9 1681.9 4236.5 1686.7 4235.0 1691.5 4233.5 1696.3 4232.0 1701.0 4230.5 1705.8 4228.9 1710.5 4227.3 1715.2 4225.6 1719.9 4223.9 1724.6 4222.1 1729.3 4220.4 1733.9 4218.6 1738.6 4216.7 1743.2 4214.8 1747.8 4212.9 1752.4 4210.9 1757.0 4208.9 1761.5 4206.8 1766.1 4204.7 1770.6 4202.6 1775.1 4200.4 1779.5 4198.1 1784.0 4195.9 1788.4 4193.5 1792.8 4191.2 1797.2 4188.7 1801.5 4186.3 1805.9 4183.8 1810.2 4181.2 1814.4 4178.6 1818.7 4175.9 1822.9 4173.2 1827.0 4170.4 1831.2 4167.6 1835.3 4164.8 1839.3 4161.9 1843.4 4158.9 1847.3 4155.9 1851.3 4152.8 1855.2 4149.7 1859.1 4146.6 1862.9 4143.3 1866.7 4140.1 1870.4 4136.8 1874.1 4133.4 1877.8 4130.0 1881.4 4126.5 1885.0 4123.0 1888.5 4119.4 1891.9 4115.8 1895.3 4112.2 1898.7 4108.5 1902.0 4104.7 1905.3 4100.9 1908.5 4097.1 1911.6 4093.2 1914.7 4089.3 1917.7 4085.3 1920.7 4081.3 1923.6 4077.2 1924.4 4076.0" stroke="#008000"/>
<path d="M544.5 4569.5 L545.5 4564.6 546.7 4559.8 547.9 4554.9 549.3 4550.1 550.9 4545.4 552.6 4540.7 554.4 4536.0 556.3 4531.4 558.4 4526.9 560.6 4522.4 563.0 4518.0 565.4 4513.6 568.0 4509.3 570.7 4505.1 573.6 4501.0 576.5 4497.0 579.6 4493.0 582.7 4489.1 586.0 4485.3 589.3 4481.6 592.8 4478.0 596.3 4474.5 600.0 4471.0 603.7 4467.7 607.4 4464.4 611.3 4461.2 615.2 4458.1 619.2 4455.1 623.2 4452.1 627.3 4449.3 631.5 4446.5 635.7 4443.8 639.9 4441.2 644.2 4438.6 648.6 4436.1 653.0 4433.7 657.4 4431.4 661.8 4429.1 666.3 4426.9 670.9 4424.8 675.4 4422.7 680.0 4420.7 684.6 4418.8 689.2 4416.9 693.9 4415.1 698.6 4413.3 703.2 4411.6 708.0 4409.9 712.7 4408.3 717.4 4406.7 722.2 4405.2 727.0 4403.7 731.8 4402.3 736.6 4400.9 741.4 4399.6 746.2 4398.3 751.1 4397.1 755.9 4395.8 760.8 4394.7 765.6 4393.5 770.5 4392.4 775.4 4391.3 780.3 4390.2 785.2 4389.2 790.1 4388.2 795.0 4387.2 799.9 4386.2 804.8 4385.2 809.7 4384.3 814.6 4383.4 819.5 4382.4 824.4 4381.5 829.4 4380.6 834.3 4379.8 839.2 4378.9 844.1 4378.0 849.0 4377.1 854.0 4376.2 858.9 4375.4 863.8 4374.5 868.7 4373.6 873.6 4372.7 878.6 4371.8 883.5 4370.9 888.4 4370.0 893.3 4369.0 898.2 4368.0 903.1 4367.1 908.0 4366.1 912.9 4365.0 917.8 4364.0 922.7 4362.9 927.6 4361.8 932.4 4360.7 937.3 4359.5 942.1 4358.3 947.0 4357.1 951.8 4355.8 956.6 4354.5 961.5 4353.1 966.3 4351.7 971.0 4350.2 975.8 4348.7 980.6 4347.2 985.3 4345.6 990.0 4343.9 994.7 4342.2 999.4 4340.5 1004.1 4338.7 1008.7 4336.9 1013.4 4335.1 1018.0 4333.3 1022.7 4331.4 1027.3 4329.5 1032.0 4327.7 1036.6 4325.8 1041.3 4324.0 1045.9 4322.1 1050.6 4320.3 1055.2 4318.5 1059.9 4316.8 1064.6 4315.1 1069.3 4313.4 1074.1 4311.9 1078.9 4310.4 1083.7 4309.0 1088.5 4307.8 1093.4 4306.7 1098.3 4305.8 1103.3 4305.0 1108.2 4304.5 1113.2 4304.2 1118.2 4304.1 1123.2 4304.4 1128.2 4304.9 1133.1 4305.6 1138.0 4306.5 1142.9 4307.5 1147.8 4308.6 1152.7 4309.6 1157.6 4310.5 1162.6 4311.4 1167.5 4312.1 1172.5 4312.8 1177.4 4313.5 1182.4 4314.0 1187.4 4314.5 1192.4 4314.9 1197.3 4315.2 1202.3 4315.4 1207.3 4315.6 1212.3 4315.8 1217.3 4315.8 1222.3 4315.8 1227.3 4315.8 1232.3 4315.7 1237.3 4315.6 1242.3 4315.4 1247.3 4315.2 1252.3 4314.9 1257.3 4314.6 1262.3 4314.2 1267.3 4313.9 1272.3 4313.5 1277.2 4313.0 1282.2 4312.6 1287.2 4312.1 1292.2 4311.6 1297.1 4311.1 1302.1 4310.6 1307.1 4310.0 1312.1 4309.5 1317.0 4308.9 1322.0 4308.3 1327.0 4307.8 1331.9 4307.2 1336.9 4306.5 1341.8 4305.9 1346.8 4305.3 1351.8 4304.6 1356.7 4304.0 1361.7 4303.3 1366.6 4302.6 1371.6 4302.0 1376.5 4301.3 1381.5 4300.5 1386.4 4299.8 1391.4 4299.1 1396.3 4298.3 1401.3 4297.6 1406.2 4296.8 1411.1 4296.0 1416.1 4295.3 1421.0 4294.5 1426.0 4293.7 1430.9 4292.8 1435.8 4292.0 1440.7 4291.2 1445.7 4290.3 1450.6 4289.5 1455.5 4288.6 1460.5 4287.7 1465.4 4286.9 1470.3 4286.0 1475.2 4285.1 1480.1 4284.2 1485.0 4283.2 1490.0 4282.3 1494.9 4281.4 1499.8 4280.4 1504.7 4279.5 1509.6 4278.5 1514.5 4277.5 1519.4 4276.5 1524.3 4275.6 1529.2 4274.6 1534.1 4273.5 1539.0 4272.5 1543.9 4271.5 1548.8 4270.5 1553.7 4269.4 1558.6 4268.4 1563.4 4267.3 1568.3 4266.3 1573.2 4265.2 1578.1 4264.1 1583.0 4263.1 1587.9 4262.0 1592.7 4260.9 1597.6 4259.8 1602.5 4258.6 1607.4 4257.5 1612.2 4256.3 1617.1 4255.2 1621.9 4254.0 1626.8 4252.8 1631.7 4251.6 1636.5 4250.4 1641.3 4249.2 1646.2 4247.9 1651.0 4246.6 1655.8 4245.3 1660.7 4244.0 1665.5 4242.7 1670.3 4241.3 1675.1 4240.0 1679.9 4238.6 1684.7 4237.1 1689.5 4235.7 1694.3 4234.2 1699.0 4232.7 1703.8 4231.2 1708.6 4229.7 1713.3 4228.1 1718.0 4226.5 1722.8 4224.9 1727.5 4223.2 1732.2 4221.5 1736.9 4219.8 1741.6 4218.0 1746.2 4216.2 1750.9 4214.4 1755.5 4212.6 1760.2 4210.7 1764.8 4208.7 1769.4 4206.8 1774.0 4204.8 1778.5 4202.7 1783.1 4200.7 1787.6 4198.5 1792.1 4196.4 1796.6 4194.2 1801.1 4192.0 1805.5 4189.7 1810.0 4187.4 1814.4 4185.0 1818.8 4182.6 1823.1 4180.2 1827.5 4177.7 1831.8 4175.2 1836.1 4172.6 1840.3 4170.0 1844.6 4167.3 1848.8 4164.6 1853.0 4161.9 1857.1 4159.1 1861.2 4156.3 1865.3 4153.4 1869.4 4150.4 1873.4 4147.5 1877.4 4144.5 1881.3 4141.4 1885.2 4138.3 1889.1 4135.1 1893.0 4131.9 1896.8 4128.7 1900.5 4125.4 1904.3 4122.1 1908.0 4118.7 1911.6 4115.3 1915.2 4111.8 1918.8 4108.3 1922.3 4104.8 1924.5 4102.5" stroke="#000080"/>
<path d="M543.3 4557.3 L544.6 4552.5 546.1 4547.7 547.7 4543.0 549.5 4538.3 551.3 4533.7 553.3 4529.1 555.4 4524.5 557.6 4520.0 559.9 4515.6 562.3 4511.2 564.9 4506.9 567.5 4502.7 570.3 4498.5 573.2 4494.4 576.1 4490.4 579.2 4486.5 582.4 4482.6 585.6 4478.8 589.0 4475.1 592.4 4471.4 595.9 4467.9 599.5 4464.4 603.2 4461.0 606.9 4457.7 610.7 4454.5 614.6 4451.3 618.6 4448.3 622.6 4445.3 626.7 4442.4 630.8 4439.6 635.0 4436.8 639.2 4434.2 643.5 4431.6 647.8 4429.1 652.2 4426.7 656.6 4424.4 661.1 4422.1 665.6 4420.0 670.2 4417.9 674.7 4415.9 679.3 4413.9 684.0 4412.1 688.7 4410.3 693.4 4408.6 698.1 4407.0 702.8 4405.4 707.6 4403.9 712.4 4402.4 717.2 4401.0 722.0 4399.7 726.8 4398.3 731.7 4397.1 736.5 4395.8 741.3 4394.6 746.2 4393.4 751.1 4392.2 755.9 4391.1 760.8 4389.9 765.7 4388.8 770.5 4387.6 775.4 4386.5 780.2 4385.3 785.1 4384.1 790.0 4382.9 794.8 4381.7 799.7 4380.6 804.5 4379.4 809.4 4378.2 814.3 4377.0 819.1 4375.8 824.0 4374.7 828.8 4373.5 833.7 4372.4 838.6 4371.3 843.5 4370.3 848.4 4369.3 853.3 4368.3 858.2 4367.3 863.1 4366.4 868.0 4365.6 873.0 4364.8 877.9 4364.0 882.9 4363.2 887.8 4362.5 892.7 4361.7 897.7 4361.0 902.6 4360.2 907.6 4359.4 912.5 4358.5 917.4 4357.5 922.3 4356.5 927.2 4355.4 932.0 4354.2 936.8 4352.8 941.6 4351.4 946.3 4349.7 951.0 4348.0 955.6 4346.0 960.1 4343.9 964.6 4341.6 968.9 4339.1 973.2 4336.5 977.4 4333.8 981.5 4330.9 985.5 4328.0 989.4 4324.9 993.3 4321.7 997.1 4318.4 1000.8 4315.1 1004.5 4311.7 1008.0 4308.2 1011.6 4304.6 1015.0 4301.0 1018.5 4297.4 1021.8 4293.7 1025.2 4290.0 1028.5 4286.2 1031.7 4282.5 1035.0 4278.7 1038.3 4274.9 1041.6 4271.1 1044.9 4267.4 1048.2 4263.7 1051.6 4260.0 1055.0 4256.3 1058.5 4252.8 1062.1 4249.2 1065.7 4245.8 1069.4 4242.5 1073.3 4239.3 1077.2 4236.2 1081.3 4233.2 1085.4 4230.5 1089.7 4228.0 1094.2 4225.7 1098.8 4223.7 1103.5 4221.9 1108.2 4220.5 1113.1 4219.5 1118.1 4218.8 1123.1 4218.6 1128.1 4218.9 1133.0 4219.6 1137.9 4220.7 1142.7 4222.2 1147.3 4224.1 1151.8 4226.2 1156.2 4228.6 1160.6 4231.1 1164.8 4233.7 1169.0 4236.4 1173.2 4239.2 1177.3 4242.0 1181.4 4244.8 1185.6 4247.6 1189.8 4250.3 1194.1 4252.9 1198.4 4255.4 1202.8 4257.7 1207.3 4259.9 1212.0 4261.8 1216.6 4263.6 1221.4 4265.2 1226.2 4266.6 1231.0 4267.8 1235.9 4269.0 1240.8 4269.9 1245.7 4270.8 1250.7 4271.6 1255.6 4272.2 1260.6 4272.8 1265.5 4273.3 1270.5 4273.8 1275.5 4274.2 1280.5 4274.5 1285.5 4274.8 1290.5 4275.1 1295.5 4275.3 1300.5 4275.4 1305.5 4275.5 1310.5 4275.6 1315.5 4275.6 1320.5 4275.5 1325.5 4275.4 1330.5 4275.3 1335.5 4275.1 1340.5 4274.9 1345.5 4274.7 1350.4 4274.4 1355.4 4274.1 1360.4 4273.7 1365.4 4273.3 1370.4 4272.9 1375.4 4272.5 1380.4 4272.0 1385.3 4271.5 1390.3 4270.9 1395.3 4270.4 1400.2 4269.8 1405.2 4269.2 1410.2 4268.6 1415.1 4268.0 1420.1 4267.3 1425.0 4266.7 1430.0 4266.0 1434.9 4265.3 1439.9 4264.6 1444.8 4263.8 1449.8 4263.1 1454.7 4262.4 1459.7 4261.6 1464.6 4260.9 1469.6 4260.1 1474.5 4259.4 1479.4 4258.6 1484.4 4257.9 1489.3 4257.1 1494.3 4256.4 1499.2 4255.6 1504.2 4254.9 1509.1 4254.1 1514.1 4253.4 1519.0 4252.7 1523.9 4252.0 1528.9 4251.2 1533.8 4250.5 1538.8 4249.8 1543.7 4249.1 1548.7 4248.3 1553.6 4247.6 1558.6 4246.9 1563.5 4246.2 1568.5 4245.4 1573.4 4244.7 1578.4 4243.9 1583.3 4243.2 1588.2 4242.4 1593.2 4241.7 1598.1 4240.9 1603.1 4240.1 1608.0 4239.3 1612.9 4238.5 1617.9 4237.6 1622.8 4236.8 1627.7 4235.9 1632.6 4235.1 1637.6 4234.2 1642.5 4233.3 1647.4 4232.3 1652.3 4231.4 1657.2 4230.4 1662.1 4229.4 1667.0 4228.4 1671.9 4227.4 1676.8 4226.3 1681.7 4225.2 1686.5 4224.1 1691.4 4223.0 1696.3 4221.8 1701.1 4220.6 1706.0 4219.4 1710.8 4218.1 1715.6 4216.8 1720.5 4215.5 1725.3 4214.1 1730.1 4212.8 1734.9 4211.3 1739.6 4209.9 1744.4 4208.4 1749.2 4206.8 1753.9 4205.2 1758.6 4203.6 1763.3 4201.9 1768.0 4200.2 1772.7 4198.5 1777.4 4196.7 1782.0 4194.9 1786.7 4193.0 1791.3 4191.0 1795.9 4189.1 1800.5 4187.0 1805.0 4185.0 1809.5 4182.9 1814.0 4180.7 1818.5 4178.5 1823.0 4176.2 1827.4 4173.9 1831.8 4171.5 1836.2 4169.1 1840.5 4166.6 1844.8 4164.1 1849.1 4161.5 1853.4 4158.9 1857.6 4156.2 1861.8 4153.4 1865.9 4150.7 1870.0 4147.8 1874.1 4144.9 1878.2 4142.0 1882.2 4139.0 1886.1 4135.9 1890.1 4132.8 1893.9 4129.7 1897.8 4126.5 1901.6 4123.2 1905.3 4119.9 1909.0 4116.6 1912.7 4113.2 1916.3 4109.7 1919.9 4106.3 1923.5 4102.7 1925.4 4100.8" stroke="#8000FF"/>
<path d="M544.6 4531.4 L545.7 4526.6 547.1 4521.8 548.7 4517.0 550.5 4512.4 552.5 4507.8 554.6 4503.3 557.0 4498.9 559.5 4494.5 562.2 4490.3 565.0 4486.2 568.0 4482.2 571.2 4478.3 574.4 4474.5 577.8 4470.8 581.3 4467.2 584.9 4463.7 588.5 4460.4 592.3 4457.1 596.2 4453.9 600.1 4450.8 604.1 4447.8 608.2 4444.9 612.3 4442.1 616.5 4439.3 620.7 4436.7 625.0 4434.0 629.3 4431.5 633.6 4429.1 638.0 4426.7 642.4 4424.3 646.9 4422.1 651.4 4419.9 655.9 4417.8 660.5 4415.7 665.1 4413.7 669.7 4411.8 674.3 4409.9 679.0 4408.1 683.6 4406.3 688.3 4404.6 693.0 4402.9 697.8 4401.3 702.5 4399.7 707.3 4398.2 712.1 4396.7 716.9 4395.3 721.7 4393.9 726.5 4392.6 731.3 4391.3 736.1 4390.0 741.0 4388.8 745.8 4387.5 750.7 4386.4 755.6 4385.2 760.4 4384.1 765.3 4383.0 770.2 4381.9 775.1 4380.8 780.0 4379.8 784.9 4378.8 789.8 4377.8 794.7 4376.8 799.6 4375.8 804.5 4374.8 809.4 4373.9 814.3 4372.9 819.2 4371.9 824.1 4371.0 829.0 4370.0 833.9 4369.1 838.8 4368.1 843.7 4367.2 848.6 4366.2 853.5 4365.2 858.4 4364.2 863.3 4363.2 868.2 4362.2 873.1 4361.2 878.0 4360.1 882.9 4359.0 887.8 4357.9 892.6 4356.8 897.5 4355.6 902.3 4354.3 907.2 4353.0 912.0 4351.6 916.7 4350.2 921.5 4348.6 926.2 4347.0 930.9 4345.3 935.6 4343.5 940.2 4341.6 944.8 4339.6 949.3 4337.5 953.8 4335.3 958.2 4333.0 962.6 4330.5 966.9 4328.0 971.1 4325.3 975.3 4322.5 979.4 4319.6 983.4 4316.7 987.3 4313.6 991.2 4310.4 994.9 4307.1 998.6 4303.7 1002.2 4300.2 1005.7 4296.6 1009.1 4293.0 1012.4 4289.2 1015.6 4285.4 1018.7 4281.4 1021.6 4277.4 1024.5 4273.3 1027.3 4269.1 1030.0 4264.9 1032.6 4260.7 1035.1 4256.4 1037.6 4252.1 1040.1 4247.7 1042.6 4243.4 1045.0 4239.0 1047.5 4234.6 1050.0 4230.3 1052.5 4226.0 1055.0 4221.7 1057.7 4217.4 1060.3 4213.2 1063.1 4209.0 1066.0 4204.9 1068.9 4200.9 1072.0 4197.0 1075.2 4193.1 1078.5 4189.4 1082.0 4185.8 1085.6 4182.3 1089.3 4179.0 1093.2 4175.9 1097.3 4173.0 1101.6 4170.4 1106.1 4168.2 1110.8 4166.6 1115.7 4165.6 1120.7 4165.6 1125.6 4166.5 1130.3 4168.1 1134.8 4170.4 1139.0 4173.0 1143.1 4175.9 1147.0 4179.0 1150.8 4182.3 1154.6 4185.6 1158.3 4189.0 1161.9 4192.3 1165.7 4195.7 1169.4 4199.0 1173.3 4202.2 1177.2 4205.3 1181.1 4208.4 1185.1 4211.4 1189.1 4214.3 1193.3 4217.2 1197.4 4219.9 1201.6 4222.6 1205.9 4225.2 1210.3 4227.7 1214.6 4230.1 1219.1 4232.4 1223.6 4234.6 1228.1 4236.7 1232.7 4238.7 1237.3 4240.5 1242.0 4242.3 1246.8 4243.9 1251.5 4245.4 1256.3 4246.9 1261.1 4248.2 1266.0 4249.4 1270.9 4250.5 1275.8 4251.5 1280.7 4252.4 1285.6 4253.3 1290.5 4254.0 1295.5 4254.7 1300.5 4255.2 1305.4 4255.7 1310.4 4256.1 1315.4 4256.4 1320.4 4256.7 1325.4 4256.9 1330.4 4257.0 1335.4 4257.1 1340.4 4257.1 1345.4 4257.1 1350.4 4257.0 1355.4 4256.8 1360.4 4256.6 1365.4 4256.4 1370.4 4256.1 1375.4 4255.8 1380.4 4255.5 1385.3 4255.1 1390.3 4254.7 1395.3 4254.3 1400.3 4253.8 1405.3 4253.3 1410.2 4252.8 1415.2 4252.3 1420.2 4251.8 1425.2 4251.3 1430.1 4250.7 1435.1 4250.1 1440.1 4249.6 1445.0 4249.0 1450.0 4248.5 1455.0 4247.9 1459.9 4247.3 1464.9 4246.7 1469.9 4246.1 1474.8 4245.5 1479.8 4244.9 1484.8 4244.3 1489.7 4243.7 1494.7 4243.1 1499.6 4242.5 1504.6 4241.9 1509.6 4241.2 1514.5 4240.6 1519.5 4239.9 1524.4 4239.3 1529.4 4238.6 1534.3 4237.9 1539.3 4237.2 1544.2 4236.5 1549.2 4235.8 1554.1 4235.1 1559.1 4234.3 1564.0 4233.6 1569.0 4232.8 1573.9 4232.1 1578.9 4231.3 1583.8 4230.5 1588.7 4229.7 1593.7 4228.9 1598.6 4228.1 1603.5 4227.2 1608.5 4226.4 1613.4 4225.5 1618.3 4224.6 1623.2 4223.7 1628.1 4222.8 1633.0 4221.9 1638.0 4221.0 1642.9 4220.0 1647.8 4219.0 1652.7 4218.0 1657.6 4217.0 1662.5 4216.0 1667.4 4215.0 1672.2 4213.9 1677.1 4212.9 1682.0 4211.8 1686.9 4210.7 1691.8 4209.6 1696.6 4208.4 1701.5 4207.3 1706.4 4206.1 1711.2 4204.9 1716.1 4203.7 1720.9 4202.4 1725.7 4201.2 1730.6 4199.9 1735.4 4198.6 1740.2 4197.3 1745.0 4195.9 1749.8 4194.5 1754.6 4193.1 1759.4 4191.7 1764.2 4190.2 1769.0 4188.7 1773.7 4187.1 1778.4 4185.5 1783.2 4183.9 1787.9 4182.2 1792.6 4180.5 1797.3 4178.7 1801.9 4176.9 1806.6 4175.1 1811.2 4173.2 1815.8 4171.2 1820.4 4169.2 1824.9 4167.1 1829.5 4165.0 1834.0 4162.9 1838.4 4160.6 1842.9 4158.4 1847.3 4156.0 1851.7 4153.6 1856.0 4151.2 1860.4 4148.6 1864.6 4146.0 1868.9 4143.4 1873.1 4140.7 1877.2 4137.9 1881.3 4135.0 1885.4 4132.1 1889.4 4129.1 1893.3 4126.0 1897.2 4122.9 1901.1 4119.7 1904.9 4116.4 1908.6 4113.1 1912.2 4109.7 1915.8 4106.2 1919.4 4102.7 1922.8 4099.1 1924.9 4096.9" stroke="#800080"/>
<path d="M544.4 4562.3 L545.7 4557.4 547.1 4552.6 548.5 4547.9 550.1 4543.1 551.8 4538.4 553.6 4533.7 555.4 4529.1 557.4 4524.5 559.4 4519.9 561.6 4515.4 563.8 4510.9 566.1 4506.5 568.6 4502.1 571.1 4497.8 573.7 4493.6 576.4 4489.3 579.2 4485.2 582.0 4481.1 585.0 4477.1 588.0 4473.1 591.1 4469.2 594.3 4465.3 597.6 4461.5 600.9 4457.8 604.3 4454.1 607.8 4450.6 611.3 4447.0 614.9 4443.6 618.6 4440.2 622.4 4436.9 626.2 4433.6 630.0 4430.4 633.9 4427.3 637.9 4424.3 641.9 4421.3 646.0 4418.4 650.1 4415.5 654.2 4412.7 658.4 4410.0 662.6 4407.3 666.9 4404.7 671.2 4402.2 675.6 4399.7 680.0 4397.3 684.4 4395.0 688.8 4392.7 693.3 4390.5 697.8 4388.3 702.3 4386.2 706.9 4384.1 711.5 4382.1 716.1 4380.2 720.7 4378.3 725.3 4376.4 730.0 4374.6 734.7 4372.9 739.4 4371.2 744.1 4369.6 748.9 4368.0 753.6 4366.4 758.4 4364.9 763.2 4363.5 768.0 4362.1 772.8 4360.7 777.6 4359.4 782.5 4358.2 787.3 4357.0 792.2 4355.8 797.0 4354.6 801.9 4353.5 806.8 4352.5 811.7 4351.4 816.6 4350.4 821.5 4349.4 826.4 4348.4 831.3 4347.4 836.2 4346.4 841.1 4345.4 846.0 4344.4 850.9 4343.3 855.7 4342.3 860.6 4341.2 865.5 4340.1 870.4 4339.0 875.2 4337.8 880.1 4336.6 884.9 4335.3 889.7 4333.9 894.5 4332.5 899.3 4331.1 904.1 4329.5 908.8 4327.9 913.5 4326.2 918.2 4324.4 922.8 4322.5 927.4 4320.5 931.9 4318.4 936.4 4316.2 940.8 4313.9 945.2 4311.5 949.5 4308.9 953.7 4306.2 957.9 4303.5 962.0 4300.6 966.0 4297.6 969.9 4294.5 973.7 4291.3 977.5 4288.0 981.2 4284.6 984.8 4281.1 988.3 4277.6 991.7 4273.9 995.1 4270.2 998.3 4266.4 1001.5 4262.5 1004.5 4258.6 1007.5 4254.6 1010.4 4250.5 1013.1 4246.3 1015.8 4242.1 1018.4 4237.8 1020.8 4233.4 1023.2 4229.0 1025.4 4224.6 1027.6 4220.0 1029.6 4215.5 1031.6 4210.9 1033.5 4206.3 1035.4 4201.6 1037.2 4197.0 1039.0 4192.3 1040.7 4187.6 1042.5 4182.9 1044.2 4178.2 1045.9 4173.5 1047.6 4168.9 1049.4 4164.2 1051.2 4159.5 1053.0 4154.8 1054.9 4150.2 1056.8 4145.6 1058.8 4141.0 1060.9 4136.5 1063.1 4132.0 1065.3 4127.5 1067.7 4123.1 1070.2 4118.8 1072.8 4114.5 1075.6 4110.4 1078.5 4106.3 1081.5 4102.3 1084.7 4098.4 1088.0 4094.7 1091.4 4091.1 1095.1 4087.7 1099.0 4084.5 1103.1 4081.7 1107.5 4079.3 1112.2 4077.6 1117.1 4076.7 1122.1 4076.9 1126.9 4078.1 1131.5 4080.1 1135.7 4082.7 1139.7 4085.7 1143.5 4089.0 1147.1 4092.5 1150.5 4096.2 1153.7 4100.0 1156.9 4103.9 1159.9 4107.8 1162.9 4111.9 1165.9 4115.9 1168.8 4120.0 1171.7 4124.0 1174.7 4128.0 1177.8 4131.9 1181.0 4135.8 1184.3 4139.5 1187.8 4143.1 1191.5 4146.5 1195.2 4149.8 1199.1 4152.9 1203.1 4155.9 1207.2 4158.8 1211.4 4161.5 1215.7 4164.1 1220.1 4166.6 1224.5 4168.9 1228.9 4171.2 1233.4 4173.3 1238.0 4175.4 1242.6 4177.3 1247.3 4179.1 1251.9 4180.9 1256.7 4182.5 1261.4 4184.1 1266.2 4185.6 1271.0 4186.9 1275.8 4188.2 1280.7 4189.4 1285.6 4190.5 1290.5 4191.5 1295.4 4192.4 1300.3 4193.2 1305.3 4194.0 1310.2 4194.7 1315.2 4195.3 1320.2 4195.8 1325.1 4196.2 1330.1 4196.6 1335.1 4196.9 1340.1 4197.1 1345.1 4197.3 1350.1 4197.4 1355.1 4197.4 1360.1 4197.4 1365.1 4197.3 1370.1 4197.2 1375.1 4197.0 1380.1 4196.7 1385.1 4196.4 1390.1 4196.1 1395.1 4195.6 1400.0 4195.2 1405.0 4194.7 1410.0 4194.1 1414.9 4193.5 1419.9 4192.9 1424.9 4192.2 1429.8 4191.5 1434.7 4190.7 1439.7 4189.9 1444.6 4189.1 1449.5 4188.2 1454.5 4187.3 1459.4 4186.4 1464.3 4185.4 1469.2 4184.4 1474.1 4183.4 1479.0 4182.4 1483.9 4181.3 1488.7 4180.3 1493.6 4179.2 1498.5 4178.1 1503.4 4177.0 1508.3 4175.9 1513.1 4174.8 1518.0 4173.7 1522.9 4172.6 1527.8 4171.5 1532.6 4170.4 1537.5 4169.3 1542.4 4168.3 1547.3 4167.2 1552.2 4166.1 1557.1 4165.1 1562.0 4164.1 1566.9 4163.1 1571.8 4162.2 1576.7 4161.3 1581.6 4160.4 1586.5 4159.5 1591.5 4158.6 1596.4 4157.8 1601.3 4156.9 1606.3 4156.1 1611.2 4155.3 1616.1 4154.5 1621.1 4153.7 1626.0 4152.9 1630.9 4152.1 1635.9 4151.2 1640.8 4150.4 1645.7 4149.6 1650.6 4148.7 1655.6 4147.8 1660.5 4146.9 1665.4 4146.0 1670.3 4145.0 1675.2 4144.0 1680.1 4143.0 1685.0 4142.0 1689.9 4140.9 1694.7 4139.7 1699.6 4138.5 1704.4 4137.3 1709.3 4136.0 1714.1 4134.6 1718.9 4133.2 1723.7 4131.8 1728.4 4130.3 1733.2 4128.7 1737.9 4127.1 1742.6 4125.4 1747.3 4123.7 1752.0 4121.9 1756.6 4120.0 1761.2 4118.2 1765.8 4116.2 1770.4 4114.2 1775.0 4112.1 1779.5 4110.0 1784.0 4107.8 1788.5 4105.6 1792.9 4103.3 1797.3 4101.0 1801.7 4098.6 1806.1 4096.1 1810.4 4093.6 1814.7 4091.0 1818.9 4088.4 1823.2 4085.7 1827.3 4083.0 1831.5 4080.2 1835.6 4077.3 1839.7 4074.4 1843.7 4071.4 1847.7 4068.4 1851.6 4065.3 1855.5 4062.2 1859.3 4059.0 1863.1 4055.8 1866.9 4052.4 1870.6 4049.1 1874.3 4045.7 1877.8 4042.2 1881.4 4038.7 1884.9 4035.1 1888.3 4031.5 1891.7 4027.8 1895.0 4024.0 1898.3 4020.2 1901.5 4016.4 1904.6 4012.5 1907.7 4008.6 1910.7 4004.6 1913.6 4000.5 1916.5 3996.4 1919.3 3992.3 1922.1 3988.1 1924.8 3983.9 1924.8 3983.9" stroke="#00FFFF"/>
<path d="M544.3 4525.7 L545.8 4520.9 547.5 4516.2 549.3 4511.6 551.3 4507.0 553.5 4502.5 555.9 4498.1 558.4 4493.7 561.0 4489.5 563.8 4485.3 566.7 4481.3 569.8 4477.3 573.0 4473.5 576.3 4469.7 579.7 4466.0 583.2 4462.5 586.8 4459.0 590.5 4455.7 594.3 4452.4 598.1 4449.2 602.1 4446.2 606.1 4443.2 610.2 4440.3 614.3 4437.5 618.5 4434.7 622.7 4432.1 627.0 4429.5 631.4 4427.0 635.7 4424.6 640.2 4422.3 644.6 4420.0 649.1 4417.8 653.6 4415.7 658.2 4413.6 662.8 4411.6 667.4 4409.7 672.0 4407.8 676.7 4406.0 681.4 4404.2 686.0 4402.5 690.8 4400.9 695.5 4399.2 700.2 4397.7 705.0 4396.2 709.8 4394.7 714.6 4393.3 719.4 4391.9 724.2 4390.6 729.1 4389.3 733.9 4388.1 738.8 4386.9 743.6 4385.7 748.5 4384.6 753.4 4383.5 758.2 4382.4 763.1 4381.4 768.0 4380.3 772.9 4379.3 777.8 4378.3 782.7 4377.4 787.6 4376.4 792.6 4375.5 797.5 4374.5 802.4 4373.6 807.3 4372.7 812.2 4371.7 817.1 4370.7 822.0 4369.7 826.9 4368.7 831.8 4367.6 836.6 4366.5 841.5 4365.3 846.3 4364.1 851.2 4362.8 856.0 4361.4 860.8 4359.9 865.5 4358.4 870.2 4356.7 874.9 4354.9 879.5 4353.1 884.1 4351.0 888.6 4348.9 893.1 4346.6 897.4 4344.1 901.7 4341.5 905.9 4338.8 909.9 4335.9 913.9 4332.8 917.8 4329.6 921.5 4326.3 925.1 4322.9 928.7 4319.4 932.1 4315.7 935.4 4312.0 938.6 4308.1 941.7 4304.2 944.7 4300.2 947.6 4296.1 950.4 4292.0 953.1 4287.8 955.7 4283.5 958.2 4279.2 960.6 4274.8 963.0 4270.4 965.3 4266.0 967.4 4261.5 969.6 4256.9 971.6 4252.4 973.6 4247.8 975.5 4243.2 977.4 4238.5 979.2 4233.9 980.9 4229.2 982.6 4224.5 984.2 4219.7 985.8 4215.0 987.4 4210.3 988.9 4205.5 990.4 4200.7 991.8 4195.9 993.2 4191.1 994.6 4186.3 995.9 4181.5 997.2 4176.7 998.5 4171.8 999.8 4167.0 1001.0 4162.2 1002.3 4157.3 1003.5 4152.5 1004.7 4147.6 1005.8 4142.7 1007.0 4137.9 1008.2 4133.0 1009.3 4128.1 1010.4 4123.3 1011.6 4118.4 1012.7 4113.5 1013.8 4108.7 1014.9 4103.8 1016.0 4098.9 1017.1 4094.0 1018.2 4089.1 1019.2 4084.3 1020.3 4079.4 1021.4 4074.5 1022.5 4069.6 1023.5 4064.7 1024.6 4059.8 1025.7 4055.0 1026.7 4050.1 1027.8 4045.2 1028.9 4040.3 1030.0 4035.4 1031.0 4030.5 1032.1 4025.7 1033.2 4020.8 1034.3 4015.9 1035.4 4011.0 1036.5 4006.1 1037.7 4001.3 1038.8 3996.4 1039.9 3991.5 1041.1 3986.7 1042.3 3981.8 1043.4 3977.0 1044.6 3972.1 1045.9 3967.3 1047.1 3962.4 1048.3 3957.6 1049.6 3952.7 1050.9 3947.9 1052.1 3943.1 1053.5 3938.2 1054.8 3933.4 1056.1 3928.6 1057.5 3923.8 1058.9 3919.0 1060.3 3914.2 1061.7 3909.4 1063.2 3904.6 1064.7 3899.8 1066.2 3895.1 1067.7 3890.3 1069.2 3885.5 1070.8 3880.8 1072.4 3876.0 1074.0 3871.3 1075.6 3866.6 1077.4 3861.9 1079.3 3857.3 1081.3 3852.7 1083.5 3848.2 1085.9 3843.8 1088.5 3839.6 1091.4 3835.5 1094.6 3831.6 1098.0 3828.0 1101.9 3824.8 1106.1 3822.3 1110.9 3820.8 1115.9 3821.2 1120.4 3823.3 1124.4 3826.3 1127.9 3829.8 1131.2 3833.6 1134.3 3837.5 1137.3 3841.5 1140.1 3845.7 1142.8 3849.9 1145.3 3854.2 1147.8 3858.5 1150.1 3862.9 1152.4 3867.4 1154.6 3871.9 1156.8 3876.4 1158.8 3880.9 1160.9 3885.5 1162.9 3890.1 1165.0 3894.6 1167.0 3899.2 1169.0 3903.8 1171.1 3908.3 1173.2 3912.9 1175.4 3917.4 1177.6 3921.8 1179.9 3926.3 1182.3 3930.7 1184.8 3935.0 1187.4 3939.3 1190.0 3943.5 1192.7 3947.7 1195.5 3951.9 1198.4 3956.0 1201.4 3960.0 1204.4 3964.0 1207.5 3967.9 1210.6 3971.8 1213.9 3975.6 1217.1 3979.4 1220.5 3983.1 1223.9 3986.7 1227.4 3990.3 1230.9 3993.9 1234.5 3997.4 1238.1 4000.8 1241.8 4004.2 1245.6 4007.5 1249.4 4010.8 1253.2 4014.0 1257.1 4017.1 1261.0 4020.2 1265.0 4023.2 1269.0 4026.2 1273.1 4029.1 1277.2 4032.0 1281.3 4034.8 1285.5 4037.5 1289.7 4040.2 1293.9 4042.9 1298.2 4045.5 1302.5 4048.0 1306.9 4050.5 1311.2 4052.9 1315.6 4055.3 1320.1 4057.6 1324.5 4059.8 1329.0 4062.0 1333.5 4064.2 1338.1 4066.3 1342.7 4068.3 1347.2 4070.3 1351.9 4072.2 1356.5 4074.1 1361.1 4075.9 1365.8 4077.7 1370.5 4079.4 1375.2 4081.1 1380.0 4082.7 1384.7 4084.2 1389.5 4085.7 1394.3 4087.2 1399.1 4088.6 1403.9 4089.9 1408.7 4091.2 1413.6 4092.4 1418.4 4093.6 1423.3 4094.7 1428.2 4095.8 1433.1 4096.8 1438.0 4097.8 1442.9 4098.7 1447.8 4099.6 1452.8 4100.4 1457.7 4101.2 1462.6 4102.0 1467.6 4102.6 1472.5 4103.3 1477.5 4103.9 1482.5 4104.4 1487.5 4104.9 1492.4 4105.4 1497.4 4105.8 1502.4 4106.2 1507.4 4106.5 1512.4 4106.8 1517.4 4107.1 1522.4 4107.3 1527.4 4107.5 1532.4 4107.6 1537.4 4107.7 1542.4 4107.8 1547.4 4107.8 1552.4 4107.8 1557.4 4107.8 1562.4 4107.7 1567.4 4107.6 1572.4 4107.4 1577.4 4107.3 1582.4 4107.0 1587.3 4106.8 1592.3 4106.5 1597.3 4106.2 1602.3 4105.9 1607.3 4105.6 1612.3 4105.2 1617.3 4104.8 1622.3 4104.3 1627.2 4103.9 1632.2 4103.4 1637.2 4102.8 1642.2 4102.3 1647.1 4101.7 1652.1 4101.2 1657.1 4100.5 1662.0 4099.9 1667.0 4099.3 1671.9 4098.6 1676.9 4097.9 1681.8 4097.2 1686.8 4096.4 1691.7 4095.7 1696.7 4094.9 1701.6 4094.1 1706.5 4093.3 1711.5 4092.5 1716.4 4091.7 1721.3 4090.8 1726.2 4089.9 1731.2 4089.0 1736.1 4088.1 1741.0 4087.1 1745.9 4086.2 1750.8 4085.1 1755.7 4084.1 1760.5 4083.0 1765.4 4081.9 1770.3 4080.7 1775.1 4079.5 1780.0 4078.2 1784.8 4076.9 1789.6 4075.5 1794.4 4074.1 1799.2 4072.6 1803.9 4071.1 1808.7 4069.5 1813.4 4067.9 1818.1 4066.2 1822.8 4064.4 1827.4 4062.5 1832.0 4060.6 1836.6 4058.6 1841.2 4056.6 1845.7 4054.4 1850.2 4052.2 1854.6 4049.9 1859.0 4047.6 1863.4 4045.1 1867.7 4042.6 1871.9 4040.0 1876.2 4037.3 1880.3 4034.5 1884.4 4031.6 1888.5 4028.7 1892.4 4025.7 1896.4 4022.6 1900.2 4019.4 1904.0 4016.1 1907.7 4012.8 1911.4 4009.4 1915.0 4005.9 1918.5 4002.3 1921.9 3998.7 1925.0 3995.3" stroke="#808000"/>
<path d="M544.3 4493.1 L546.1 4488.5 548.1 4483.9 550.2 4479.3 552.5 4474.9 555.0 4470.5 557.6 4466.3 560.4 4462.2 563.4 4458.1 566.5 4454.2 569.7 4450.4 573.1 4446.7 576.6 4443.2 580.2 4439.7 584.0 4436.4 587.8 4433.2 591.7 4430.1 595.7 4427.1 599.8 4424.2 604.0 4421.5 608.2 4418.8 612.5 4416.3 616.9 4413.8 621.3 4411.5 625.8 4409.2 630.3 4407.1 634.8 4405.0 639.4 4403.0 644.0 4401.1 648.7 4399.2 653.3 4397.4 658.0 4395.7 662.8 4394.1 667.5 4392.5 672.3 4391.0 677.1 4389.5 681.8 4388.1 686.7 4386.7 691.5 4385.4 696.3 4384.1 701.2 4382.9 706.0 4381.7 710.9 4380.5 715.7 4379.4 720.6 4378.3 725.5 4377.2 730.4 4376.1 735.3 4375.1 740.2 4374.1 745.1 4373.0 750.0 4372.0 754.9 4371.0 759.8 4370.0 764.7 4369.0 769.5 4368.0 774.4 4366.9 779.3 4365.9 784.2 4364.8 789.1 4363.7 794.0 4362.6 798.8 4361.5 803.7 4360.3 808.5 4359.1 813.4 4357.8 818.2 4356.5 823.0 4355.1 827.8 4353.6 832.6 4352.1 837.3 4350.5 842.0 4348.9 846.7 4347.1 851.3 4345.3 855.9 4343.3 860.5 4341.3 865.0 4339.1 869.4 4336.8 873.8 4334.4 878.1 4331.9 882.4 4329.2 886.5 4326.4 890.5 4323.4 894.4 4320.3 898.2 4317.0 901.9 4313.6 905.4 4310.1 908.8 4306.4 912.0 4302.6 915.1 4298.7 918.1 4294.6 921.0 4290.5 923.7 4286.4 926.3 4282.1 928.9 4277.8 931.3 4273.4 933.6 4269.0 935.8 4264.5 938.0 4260.0 940.0 4255.4 942.0 4250.9 943.9 4246.2 945.8 4241.6 947.6 4236.9 949.3 4232.2 951.0 4227.5 952.6 4222.8 954.2 4218.1 955.8 4213.3 957.3 4208.5 958.7 4203.8 960.2 4199.0 961.6 4194.2 963.0 4189.4 964.4 4184.6 965.8 4179.8 967.1 4175.0 968.5 4170.1 969.8 4165.3 971.1 4160.5 972.4 4155.7 973.7 4150.8 974.9 4146.0 976.1 4141.1 977.4 4136.3 978.6 4131.4 979.8 4126.6 980.9 4121.7 982.1 4116.9 983.3 4112.0 984.4 4107.1 985.5 4102.3 986.6 4097.4 987.7 4092.5 988.8 4087.6 989.9 4082.7 991.0 4077.9 992.0 4073.0 993.1 4068.1 994.1 4063.2 995.1 4058.3 996.2 4053.4 997.2 4048.5 998.2 4043.6 999.2 4038.7 1000.2 4033.8 1001.2 4028.9 1002.2 4024.0 1003.2 4019.1 1004.1 4014.2 1005.1 4009.3 1006.1 4004.4 1007.1 3999.5 1008.1 3994.6 1009.0 3989.7 1010.0 3984.8 1011.0 3979.9 1011.9 3975.0 1012.9 3970.1 1013.9 3965.2 1014.9 3960.3 1015.8 3955.4 1016.8 3950.5 1017.8 3945.5 1018.8 3940.6 1019.7 3935.7 1020.7 3930.8 1021.7 3925.9 1022.7 3921.0 1023.7 3916.1 1024.7 3911.2 1025.7 3906.3 1026.6 3901.4 1027.6 3896.5 1028.6 3891.6 1029.6 3886.7 1030.7 3881.8 1031.7 3876.9 1032.7 3872.0 1033.7 3867.1 1034.7 3862.3 1035.8 3857.4 1036.8 3852.5 1037.8 3847.6 1038.9 3842.7 1039.9 3837.8 1041.0 3832.9 1042.0 3828.0 1043.1 3823.1 1044.2 3818.3 1045.3 3813.4 1046.3 3808.5 1047.4 3803.6 1048.5 3798.7 1049.6 3793.9 1050.8 3789.0 1051.9 3784.1 1053.0 3779.2 1054.1 3774.4 1055.3 3769.5 1056.5 3764.6 1057.6 3759.8 1058.8 3754.9 1060.0 3750.1 1061.2 3745.2 1062.4 3740.4 1063.6 3735.5 1064.9 3730.7 1066.2 3725.9 1067.6 3721.1 1069.0 3716.3 1070.5 3711.5 1072.0 3706.7 1073.6 3702.0 1075.3 3697.3 1077.1 3692.6 1078.9 3687.9 1080.8 3683.3 1082.9 3678.8 1085.0 3674.2 1087.2 3669.7 1089.5 3665.3 1091.9 3660.9 1094.4 3656.6 1097.1 3652.4 1099.8 3648.2 1102.9 3644.3 1106.6 3640.8 1111.0 3638.6 1115.9 3638.9 1120.4 3641.0 1124.4 3644.0 1127.9 3647.6 1131.1 3651.4 1134.0 3655.5 1136.5 3659.8 1138.8 3664.3 1140.8 3668.8 1142.7 3673.5 1144.4 3678.2 1146.0 3682.9 1147.5 3687.7 1149.1 3692.4 1150.6 3697.2 1152.0 3702.0 1153.5 3706.8 1155.0 3711.5 1156.5 3716.3 1157.9 3721.1 1159.4 3725.9 1160.9 3730.7 1162.3 3735.4 1163.8 3740.2 1165.3 3745.0 1166.8 3749.7 1168.4 3754.5 1169.9 3759.3 1171.5 3764.0 1173.1 3768.7 1174.7 3773.5 1176.3 3778.2 1178.0 3782.9 1179.7 3787.6 1181.5 3792.3 1183.3 3796.9 1185.2 3801.6 1187.1 3806.2 1189.0 3810.8 1191.0 3815.4 1193.1 3819.9 1195.2 3824.5 1197.4 3829.0 1199.7 3833.4 1202.0 3837.9 1204.3 3842.3 1206.8 3846.6 1209.3 3850.9 1211.9 3855.2 1214.5 3859.5 1217.2 3863.7 1220.0 3867.8 1222.8 3872.0 1225.7 3876.1 1228.6 3880.1 1231.6 3884.1 1234.7 3888.1 1237.8 3892.0 1240.9 3895.9 1244.1 3899.7 1247.3 3903.5 1250.6 3907.3 1254.0 3911.0 1257.4 3914.7 1260.8 3918.3 1264.3 3921.9 1267.8 3925.5 1271.4 3929.0 1275.0 3932.4 1278.6 3935.9 1282.3 3939.2 1286.0 3942.6 1289.8 3945.9 1293.6 3949.1 1297.4 3952.3 1301.3 3955.5 1305.2 3958.6 1309.2 3961.7 1313.2 3964.7 1317.2 3967.7 1321.2 3970.6 1325.3 3973.5 1329.4 3976.4 1333.5 3979.2 1337.7 3981.9 1341.9 3984.7 1346.1 3987.3 1350.4 3989.9 1354.7 3992.5 1359.0 3995.1 1363.3 3997.6 1367.7 4000.0 1372.1 4002.4 1376.5 4004.7 1380.9 4007.1 1385.4 4009.3 1389.8 4011.5 1394.4 4013.7 1398.9 4015.8 1403.4 4017.9 1408.0 4019.9 1412.6 4021.9 1417.2 4023.8 1421.8 4025.7 1426.5 4027.6 1431.1 4029.4 1435.8 4031.1 1440.5 4032.8 1445.2 4034.5 1450.0 4036.1 1454.7 4037.7 1459.5 4039.2 1464.3 4040.7 1469.1 4042.1 1473.9 4043.5 1478.7 4044.8 1483.5 4046.1 1488.3 4047.4 1493.2 4048.6 1498.1 4049.7 1502.9 4050.8 1507.8 4051.9 1512.7 4052.9 1517.6 4053.9 1522.5 4054.8 1527.5 4055.7 1532.4 4056.5 1537.3 4057.3 1542.3 4058.0 1547.2 4058.7 1552.2 4059.4 1557.1 4060.0 1562.1 4060.6 1567.1 4061.1 1572.1 4061.6 1577.0 4062.0 1582.0 4062.4 1587.0 4062.7 1592.0 4063.0 1597.0 4063.3 1602.0 4063.5 1607.0 4063.6 1612.0 4063.7 1617.0 4063.8 1622.0 4063.8 1627.0 4063.8 1632.0 4063.7 1637.0 4063.6 1642.0 4063.5 1647.0 4063.3 1652.0 4063.0 1657.0 4062.7 1662.0 4062.4 1666.9 4062.0 1671.9 4061.6 1676.9 4061.1 1681.9 4060.6 1686.8 4060.0 1691.8 4059.4 1696.8 4058.8 1701.7 4058.1 1706.7 4057.4 1711.6 4056.6 1716.5 4055.7 1721.5 4054.9 1726.4 4054.0 1731.3 4053.0 1736.2 4052.0 1741.1 4050.9 1745.9 4049.8 1750.8 4048.7 1755.7 4047.5 1760.5 4046.3 1765.3 4045.0 1770.2 4043.6 1775.0 4042.3 1779.8 4040.9 1784.5 4039.4 1789.3 4037.9 1794.1 4036.3 1798.8 4034.7 1803.5 4033.1 1808.2 4031.4 1812.9 4029.7 1817.6 4027.9 1822.2 4026.1 1826.9 4024.2 1831.5 4022.3 1836.1 4020.3 1840.7 4018.3 1845.2 4016.3 1849.8 4014.2 1854.3 4012.0 1858.8 4009.8 1863.3 4007.6 1867.7 4005.3 1872.1 4003.0 1876.5 4000.6 1880.9 3998.2 1885.3 3995.7 1889.6 3993.2 1893.9 3990.6 1898.2 3988.0 1902.4 3985.4 1906.6 3982.7 1910.8 3980.0 1915.0 3977.2 1919.1 3974.4 1923.2 3971.5 1925.6 3969.8" stroke="#2B63A3"/>
</g>
<rect x="400.3" y="3395.0" width="349.0" height="863.6" fill="#fff" stroke="#000" stroke-width="3.3"/>
<line x1="428.5" y1="3442.8" x2="562.0" y2="3442.8" stroke="#000000" stroke-width="8.0" stroke-linecap="round"/>
<text transform="matrix(0.9300 0 0 1 580.33 3464.30)" font-size="61.50" fill="#000"><tspan>pH 5</tspan></text>
<line x1="428.5" y1="3529.5" x2="562.0" y2="3529.5" stroke="#FF0000" stroke-width="8.0" stroke-linecap="round"/>
<text transform="matrix(0.9300 0 0 1 580.50 3551.02)" font-size="61.50" fill="#000"><tspan>10</tspan><tspan font-size="36.28" dy="-32.23">-7</tspan></text>
<line x1="428.5" y1="3616.2" x2="562.0" y2="3616.2" stroke="#FF8000" stroke-width="8.0" stroke-linecap="round"/>
<text transform="matrix(0.9300 0 0 1 580.50 3637.74)" font-size="61.50" fill="#000"><tspan>10</tspan><tspan font-size="36.28" dy="-32.23">-6</tspan></text>
<line x1="428.5" y1="3703.0" x2="562.0" y2="3703.0" stroke="#008000" stroke-width="8.0" stroke-linecap="round"/>
<text transform="matrix(0.9300 0 0 1 582.34 3724.46)" font-size="61.50" fill="#000"><tspan>5x10</tspan><tspan font-size="36.28" dy="-32.23">-6</tspan></text>
<line x1="428.5" y1="3789.7" x2="562.0" y2="3789.7" stroke="#000080" stroke-width="8.0" stroke-linecap="round"/>
<text transform="matrix(0.9300 0 0 1 580.50 3811.18)" font-size="61.50" fill="#000"><tspan>10</tspan><tspan font-size="36.28" dy="-32.23">-6</tspan></text>
<line x1="428.5" y1="3876.4" x2="562.0" y2="3876.4" stroke="#8000FF" stroke-width="8.0" stroke-linecap="round"/>
<text transform="matrix(0.9300 0 0 1 582.34 3897.90)" font-size="61.50" fill="#000"><tspan>5x10</tspan><tspan font-size="36.28" dy="-32.23">-5</tspan></text>
<line x1="428.5" y1="3963.1" x2="562.0" y2="3963.1" stroke="#800080" stroke-width="8.0" stroke-linecap="round"/>
<text transform="matrix(0.9300 0 0 1 580.50 3984.62)" font-size="61.50" fill="#000"><tspan>10</tspan><tspan font-size="36.28" dy="-32.23">-4</tspan></text>
<line x1="428.5" y1="4049.8" x2="562.0" y2="4049.8" stroke="#00FFFF" stroke-width="8.0" stroke-linecap="round"/>
<text transform="matrix(0.9300 0 0 1 582.12 4071.34)" font-size="61.50" fill="#000"><tspan>2x10</tspan><tspan font-size="36.28" dy="-32.23">-4</tspan></text>
<line x1="428.5" y1="4136.6" x2="562.0" y2="4136.6" stroke="#808000" stroke-width="8.0" stroke-linecap="round"/>
<text transform="matrix(0.9300 0 0 1 582.34 4158.06)" font-size="61.50" fill="#000"><tspan>5x10</tspan><tspan font-size="36.28" dy="-32.23">-4</tspan></text>
<line x1="428.5" y1="4223.3" x2="562.0" y2="4223.3" stroke="#2B63A3" stroke-width="8.0" stroke-linecap="round"/>
<text transform="matrix(0.9300 0 0 1 580.50 4244.78)" font-size="61.50" fill="#000"><tspan>10</tspan><tspan font-size="36.28" dy="-32.23">-3</tspan></text>
<text transform="matrix(0.9400 0 0 1 125.35 3564.22)" font-size="68.50" fill="#000"><tspan>3.0x10</tspan><tspan font-size="40.41" dy="-35.89">-6</tspan></text>
<text transform="matrix(0.9400 0 0 1 125.35 3862.88)" font-size="68.50" fill="#000"><tspan>2.0x10</tspan><tspan font-size="40.41" dy="-35.89">-6</tspan></text>
<text transform="matrix(0.9400 0 0 1 125.35 4161.54)" font-size="68.50" fill="#000"><tspan>1.0x10</tspan><tspan font-size="40.41" dy="-35.89">-6</tspan></text>
<text transform="matrix(0.9400 0 0 1 267.83 4448.00)" font-size="68.50" fill="#000"><tspan>0.0</tspan></text>
<text transform="matrix(0.9400 0 0 1 492.13 4705.50)" font-size="68.50" fill="#000"><tspan>0.3</tspan></text>
<text transform="matrix(0.9400 0 0 1 768.90 4705.50)" font-size="68.50" fill="#000"><tspan>0.4</tspan></text>
<text transform="matrix(0.9400 0 0 1 1047.39 4705.50)" font-size="68.50" fill="#000"><tspan>0.5</tspan></text>
<text transform="matrix(0.9400 0 0 1 1325.41 4705.50)" font-size="68.50" fill="#000"><tspan>0.6</tspan></text>
<text transform="matrix(0.9400 0 0 1 1603.43 4705.50)" font-size="68.50" fill="#000"><tspan>0.7</tspan></text>
<text transform="matrix(0.9400 0 0 1 1880.76 4705.50)" font-size="68.50" fill="#000"><tspan>0.8</tspan></text>
<text transform="matrix(0.9218 0 0 1 909.42 4825.60)" font-size="67.73" fill="#000"><tspan>E (V) vs Ag/AgCl</tspan></text>
<text transform="matrix(0.9232 0 0 1 1248.89 3458.60)" font-size="68.46" fill="#FF0000"><tspan>TRGO/GC</tspan></text>
<text transform="matrix(0.9941 0 0 1 1956.42 3466.90)" font-size="63.87" fill="#000"><tspan>c.</tspan></text>
<text transform="matrix(0.9166 0 0 1 975.05 3611.80)" font-size="68.75" fill="#000"><tspan>+0.51 V</tspan></text>
<text transform="translate(81.00 4051.26) rotate(-90) scale(0.9534 1)" font-size="68.31">I (A)</text>
</svg></body></html>
